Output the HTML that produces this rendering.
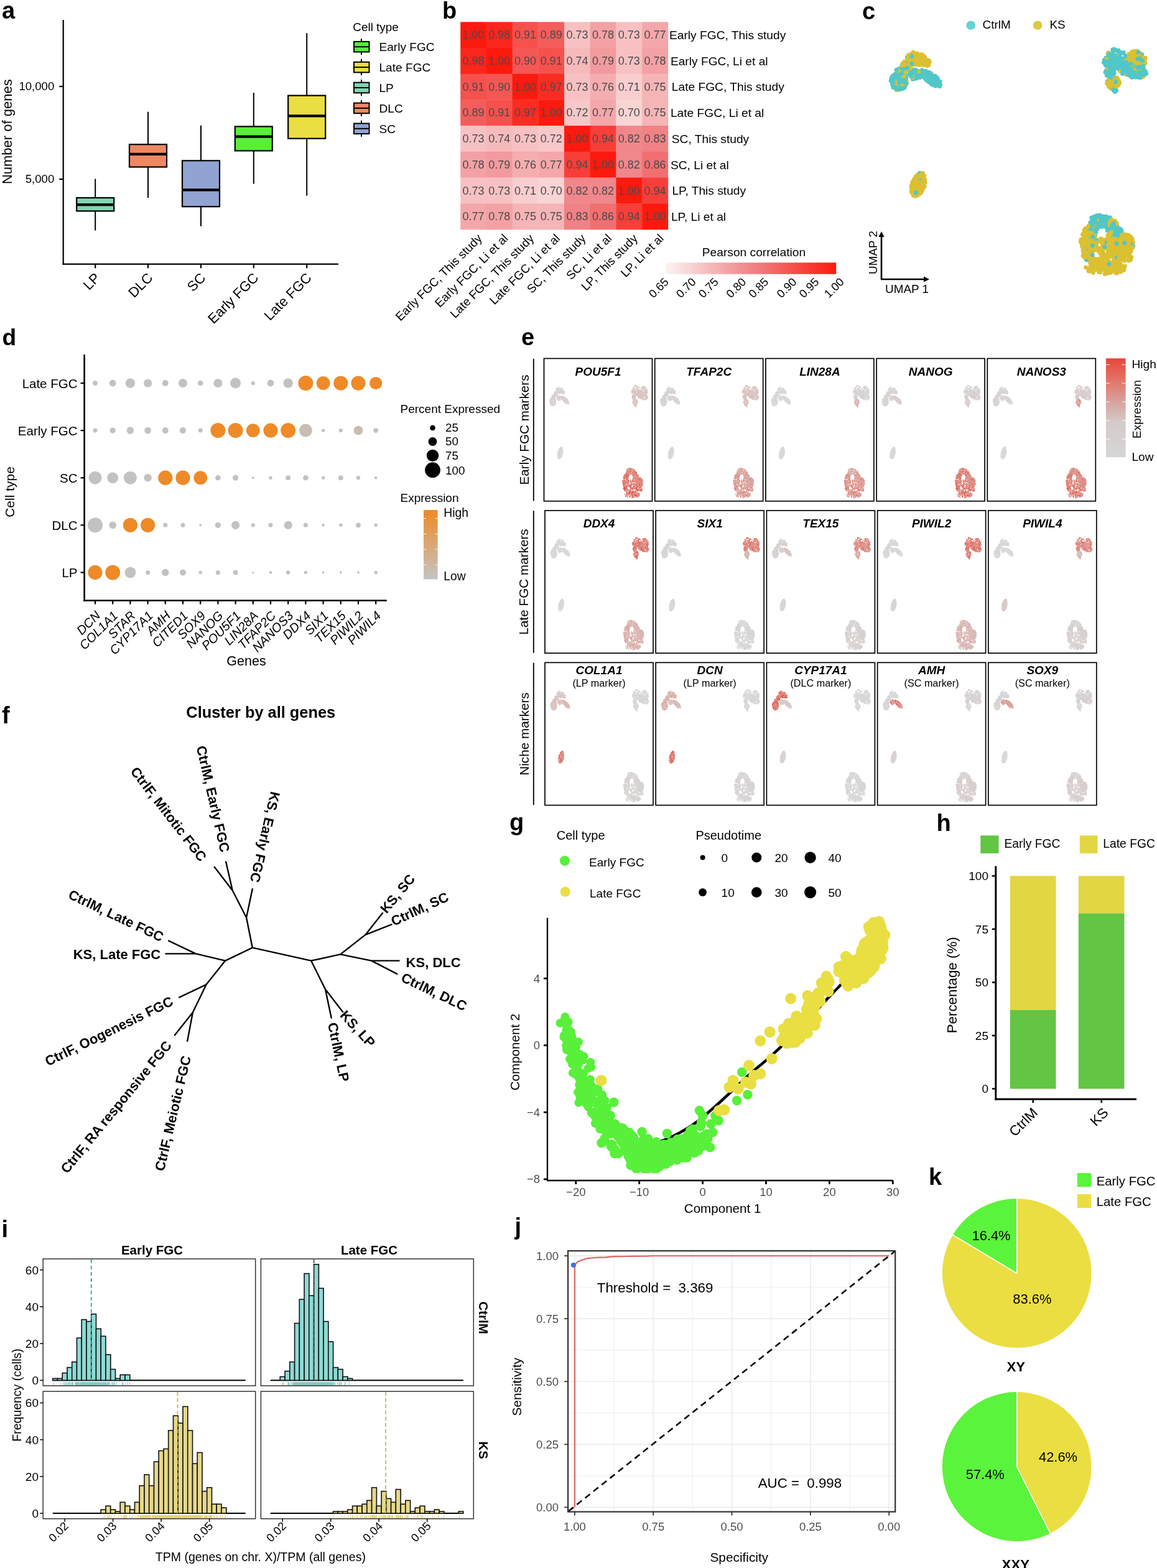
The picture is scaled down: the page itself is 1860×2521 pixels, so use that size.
<!DOCTYPE html>
<html><head><meta charset="utf-8"><title>Figure</title>
<style>
html,body{margin:0;padding:0;background:#fff;}
svg{display:block;}
text{font-family:'Liberation Sans', Arial, sans-serif;}
</style></head><body>
<svg width="1860" height="2521" viewBox="0 0 1860 2521" font-family="Liberation Sans, Arial, sans-serif">
<rect width="1860" height="2521" fill="#fff"/>
<text x="3" y="30.3" font-size="38" font-weight="bold">a</text>
<line x1="101.7" y1="32" x2="101.7" y2="425.7" stroke="#000" stroke-width="2.2"/>
<line x1="100.7" y1="424.7" x2="544" y2="424.7" stroke="#000" stroke-width="2.2"/>
<line x1="95.2" y1="139" x2="101.7" y2="139" stroke="#000" stroke-width="2.2"/>
<text x="87.3" y="144.5" font-size="18.6" text-anchor="end">10,000</text>
<line x1="95.2" y1="288.1" x2="101.7" y2="288.1" stroke="#000" stroke-width="2.2"/>
<text x="87.3" y="293.6" font-size="18.6" text-anchor="end">5,000</text>
<text x="19.3" y="211.7" font-size="22" text-anchor="middle" transform="rotate(-90 19.3 211.7)">Number of genes</text>
<line x1="153.2" y1="287.5" x2="153.2" y2="318" stroke="#000" stroke-width="2"/>
<line x1="153.2" y1="339.3" x2="153.2" y2="370.5" stroke="#000" stroke-width="2"/>
<rect x="123.2" y="318" width="60" height="21.3" fill="#80d6b2" stroke="#000" stroke-width="2.2"/>
<line x1="123.2" y1="329.2" x2="183.2" y2="329.2" stroke="#000" stroke-width="4.2"/>
<line x1="153.2" y1="424.7" x2="153.2" y2="431.2" stroke="#000" stroke-width="2.2"/>
<text x="162.2" y="448.2" font-size="22.3" text-anchor="end" transform="rotate(-45 162.2 448.2)">LP</text>
<line x1="238" y1="179.7" x2="238" y2="232.2" stroke="#000" stroke-width="2"/>
<line x1="238" y1="268.5" x2="238" y2="318" stroke="#000" stroke-width="2"/>
<rect x="208" y="232.2" width="60" height="36.3" fill="#ee8862" stroke="#000" stroke-width="2.2"/>
<line x1="208" y1="247.8" x2="268" y2="247.8" stroke="#000" stroke-width="4.2"/>
<line x1="238" y1="424.7" x2="238" y2="431.2" stroke="#000" stroke-width="2.2"/>
<text x="247" y="448.2" font-size="22.3" text-anchor="end" transform="rotate(-45 247 448.2)">DLC</text>
<line x1="323" y1="201.7" x2="323" y2="258.3" stroke="#000" stroke-width="2"/>
<line x1="323" y1="332.2" x2="323" y2="363.7" stroke="#000" stroke-width="2"/>
<rect x="293" y="258.3" width="60" height="73.9" fill="#91a3d1" stroke="#000" stroke-width="2.2"/>
<line x1="293" y1="305.4" x2="353" y2="305.4" stroke="#000" stroke-width="4.2"/>
<line x1="323" y1="424.7" x2="323" y2="431.2" stroke="#000" stroke-width="2.2"/>
<text x="332" y="448.2" font-size="22.3" text-anchor="end" transform="rotate(-45 332 448.2)">SC</text>
<line x1="407.8" y1="149.2" x2="407.8" y2="203.4" stroke="#000" stroke-width="2"/>
<line x1="407.8" y1="242.4" x2="407.8" y2="295.6" stroke="#000" stroke-width="2"/>
<rect x="377.8" y="203.4" width="60" height="39" fill="#58ee3a" stroke="#000" stroke-width="2.2"/>
<line x1="377.8" y1="219.7" x2="437.8" y2="219.7" stroke="#000" stroke-width="4.2"/>
<line x1="407.8" y1="424.7" x2="407.8" y2="431.2" stroke="#000" stroke-width="2.2"/>
<text x="416.8" y="448.2" font-size="22.3" text-anchor="end" transform="rotate(-45 416.8 448.2)">Early FGC</text>
<line x1="493.2" y1="53.2" x2="493.2" y2="153.6" stroke="#000" stroke-width="2"/>
<line x1="493.2" y1="222.7" x2="493.2" y2="314.6" stroke="#000" stroke-width="2"/>
<rect x="463.2" y="153.6" width="60" height="69.1" fill="#e9de42" stroke="#000" stroke-width="2.2"/>
<line x1="463.2" y1="186.4" x2="523.2" y2="186.4" stroke="#000" stroke-width="4.2"/>
<line x1="493.2" y1="424.7" x2="493.2" y2="431.2" stroke="#000" stroke-width="2.2"/>
<text x="502.2" y="448.2" font-size="22.3" text-anchor="end" transform="rotate(-45 502.2 448.2)">Late FGC</text>
<text x="567.3" y="49.6" font-size="18.9">Cell type</text>
<line x1="581" y1="62.2" x2="581" y2="88.2" stroke="#000" stroke-width="2"/>
<rect x="569" y="66.9" width="24.5" height="16.6" fill="#58ee3a" stroke="#000" stroke-width="2"/>
<line x1="569" y1="75.2" x2="593.5" y2="75.2" stroke="#000" stroke-width="2"/>
<text x="609.5" y="82.2" font-size="19.1">Early FGC</text>
<line x1="581" y1="95.1" x2="581" y2="121.1" stroke="#000" stroke-width="2"/>
<rect x="569" y="99.8" width="24.5" height="16.6" fill="#e9de42" stroke="#000" stroke-width="2"/>
<line x1="569" y1="108.1" x2="593.5" y2="108.1" stroke="#000" stroke-width="2"/>
<text x="609.5" y="115.1" font-size="19.1">Late FGC</text>
<line x1="581" y1="128" x2="581" y2="154" stroke="#000" stroke-width="2"/>
<rect x="569" y="132.7" width="24.5" height="16.6" fill="#80d6b2" stroke="#000" stroke-width="2"/>
<line x1="569" y1="141" x2="593.5" y2="141" stroke="#000" stroke-width="2"/>
<text x="609.5" y="148" font-size="19.1">LP</text>
<line x1="581" y1="160.9" x2="581" y2="186.9" stroke="#000" stroke-width="2"/>
<rect x="569" y="165.6" width="24.5" height="16.6" fill="#ee8862" stroke="#000" stroke-width="2"/>
<line x1="569" y1="173.9" x2="593.5" y2="173.9" stroke="#000" stroke-width="2"/>
<text x="609.5" y="180.9" font-size="19.1">DLC</text>
<line x1="581" y1="193.8" x2="581" y2="219.8" stroke="#000" stroke-width="2"/>
<rect x="569" y="198.5" width="24.5" height="16.6" fill="#91a3d1" stroke="#000" stroke-width="2"/>
<line x1="569" y1="206.8" x2="593.5" y2="206.8" stroke="#000" stroke-width="2"/>
<text x="609.5" y="213.8" font-size="19.1">SC</text>
<text x="711" y="30" font-size="38" font-weight="bold">b</text>
<rect x="740.2" y="35.3" width="42.1" height="42.1" fill="#fc1a0e"/>
<rect x="781.9" y="35.3" width="42.1" height="42.1" fill="#fb261c"/>
<rect x="823.6" y="35.3" width="42.1" height="42.1" fill="#f6514d"/>
<rect x="865.3" y="35.3" width="42.1" height="42.1" fill="#f45d5b"/>
<rect x="907" y="35.3" width="42.1" height="42.1" fill="#f7c1c3"/>
<rect x="948.7" y="35.3" width="42.1" height="42.1" fill="#f3a1a4"/>
<rect x="990.4" y="35.3" width="42.1" height="42.1" fill="#f7c1c3"/>
<rect x="1032.1" y="35.3" width="42.1" height="42.1" fill="#f4a7aa"/>
<rect x="740.2" y="77" width="42.1" height="42.1" fill="#fb261c"/>
<rect x="781.9" y="77" width="42.1" height="42.1" fill="#fc1a0e"/>
<rect x="823.6" y="77" width="42.1" height="42.1" fill="#f55754"/>
<rect x="865.3" y="77" width="42.1" height="42.1" fill="#f6514d"/>
<rect x="907" y="77" width="42.1" height="42.1" fill="#f6babc"/>
<rect x="948.7" y="77" width="42.1" height="42.1" fill="#f29a9e"/>
<rect x="990.4" y="77" width="42.1" height="42.1" fill="#f7c1c3"/>
<rect x="1032.1" y="77" width="42.1" height="42.1" fill="#f3a1a4"/>
<rect x="740.2" y="118.7" width="42.1" height="42.1" fill="#f6514d"/>
<rect x="781.9" y="118.7" width="42.1" height="42.1" fill="#f55754"/>
<rect x="823.6" y="118.7" width="42.1" height="42.1" fill="#fc1a0e"/>
<rect x="865.3" y="118.7" width="42.1" height="42.1" fill="#fa2c23"/>
<rect x="907" y="118.7" width="42.1" height="42.1" fill="#f7c1c3"/>
<rect x="948.7" y="118.7" width="42.1" height="42.1" fill="#f4aeb0"/>
<rect x="990.4" y="118.7" width="42.1" height="42.1" fill="#f8cecf"/>
<rect x="1032.1" y="118.7" width="42.1" height="42.1" fill="#f5b4b6"/>
<rect x="740.2" y="160.4" width="42.1" height="42.1" fill="#f45d5b"/>
<rect x="781.9" y="160.4" width="42.1" height="42.1" fill="#f6514d"/>
<rect x="823.6" y="160.4" width="42.1" height="42.1" fill="#fa2c23"/>
<rect x="865.3" y="160.4" width="42.1" height="42.1" fill="#fc1a0e"/>
<rect x="907" y="160.4" width="42.1" height="42.1" fill="#f7c7c9"/>
<rect x="948.7" y="160.4" width="42.1" height="42.1" fill="#f4a7aa"/>
<rect x="990.4" y="160.4" width="42.1" height="42.1" fill="#f9d4d5"/>
<rect x="1032.1" y="160.4" width="42.1" height="42.1" fill="#f5b4b6"/>
<rect x="740.2" y="202.1" width="42.1" height="42.1" fill="#f7c1c3"/>
<rect x="781.9" y="202.1" width="42.1" height="42.1" fill="#f6babc"/>
<rect x="823.6" y="202.1" width="42.1" height="42.1" fill="#f7c1c3"/>
<rect x="865.3" y="202.1" width="42.1" height="42.1" fill="#f7c7c9"/>
<rect x="907" y="202.1" width="42.1" height="42.1" fill="#fc1a0e"/>
<rect x="948.7" y="202.1" width="42.1" height="42.1" fill="#f83e38"/>
<rect x="990.4" y="202.1" width="42.1" height="42.1" fill="#f0878b"/>
<rect x="1032.1" y="202.1" width="42.1" height="42.1" fill="#f08185"/>
<rect x="740.2" y="243.8" width="42.1" height="42.1" fill="#f3a1a4"/>
<rect x="781.9" y="243.8" width="42.1" height="42.1" fill="#f29a9e"/>
<rect x="823.6" y="243.8" width="42.1" height="42.1" fill="#f4aeb0"/>
<rect x="865.3" y="243.8" width="42.1" height="42.1" fill="#f4a7aa"/>
<rect x="907" y="243.8" width="42.1" height="42.1" fill="#f83e38"/>
<rect x="948.7" y="243.8" width="42.1" height="42.1" fill="#fc1a0e"/>
<rect x="990.4" y="243.8" width="42.1" height="42.1" fill="#f0878b"/>
<rect x="1032.1" y="243.8" width="42.1" height="42.1" fill="#f26f70"/>
<rect x="740.2" y="285.5" width="42.1" height="42.1" fill="#f7c1c3"/>
<rect x="781.9" y="285.5" width="42.1" height="42.1" fill="#f7c1c3"/>
<rect x="823.6" y="285.5" width="42.1" height="42.1" fill="#f8cecf"/>
<rect x="865.3" y="285.5" width="42.1" height="42.1" fill="#f9d4d5"/>
<rect x="907" y="285.5" width="42.1" height="42.1" fill="#f0878b"/>
<rect x="948.7" y="285.5" width="42.1" height="42.1" fill="#f0878b"/>
<rect x="990.4" y="285.5" width="42.1" height="42.1" fill="#fc1a0e"/>
<rect x="1032.1" y="285.5" width="42.1" height="42.1" fill="#f83e38"/>
<rect x="740.2" y="327.2" width="42.1" height="42.1" fill="#f4a7aa"/>
<rect x="781.9" y="327.2" width="42.1" height="42.1" fill="#f3a1a4"/>
<rect x="823.6" y="327.2" width="42.1" height="42.1" fill="#f5b4b6"/>
<rect x="865.3" y="327.2" width="42.1" height="42.1" fill="#f5b4b6"/>
<rect x="907" y="327.2" width="42.1" height="42.1" fill="#f08185"/>
<rect x="948.7" y="327.2" width="42.1" height="42.1" fill="#f26f70"/>
<rect x="990.4" y="327.2" width="42.1" height="42.1" fill="#f83e38"/>
<rect x="1032.1" y="327.2" width="42.1" height="42.1" fill="#fc1a0e"/>
<text x="761.1" y="62.4" font-size="18" text-anchor="middle" fill="#4a4a4a">1.00</text>
<text x="802.8" y="62.4" font-size="18" text-anchor="middle" fill="#4a4a4a">0.98</text>
<text x="844.5" y="62.4" font-size="18" text-anchor="middle" fill="#4a4a4a">0.91</text>
<text x="886.2" y="62.4" font-size="18" text-anchor="middle" fill="#4a4a4a">0.89</text>
<text x="927.9" y="62.4" font-size="18" text-anchor="middle" fill="#4a4a4a">0.73</text>
<text x="969.6" y="62.4" font-size="18" text-anchor="middle" fill="#4a4a4a">0.78</text>
<text x="1011.3" y="62.4" font-size="18" text-anchor="middle" fill="#4a4a4a">0.73</text>
<text x="1053" y="62.4" font-size="18" text-anchor="middle" fill="#4a4a4a">0.77</text>
<text x="761.1" y="104" font-size="18" text-anchor="middle" fill="#4a4a4a">0.98</text>
<text x="802.8" y="104" font-size="18" text-anchor="middle" fill="#4a4a4a">1.00</text>
<text x="844.5" y="104" font-size="18" text-anchor="middle" fill="#4a4a4a">0.90</text>
<text x="886.2" y="104" font-size="18" text-anchor="middle" fill="#4a4a4a">0.91</text>
<text x="927.9" y="104" font-size="18" text-anchor="middle" fill="#4a4a4a">0.74</text>
<text x="969.6" y="104" font-size="18" text-anchor="middle" fill="#4a4a4a">0.79</text>
<text x="1011.3" y="104" font-size="18" text-anchor="middle" fill="#4a4a4a">0.73</text>
<text x="1053" y="104" font-size="18" text-anchor="middle" fill="#4a4a4a">0.78</text>
<text x="761.1" y="145.8" font-size="18" text-anchor="middle" fill="#4a4a4a">0.91</text>
<text x="802.8" y="145.8" font-size="18" text-anchor="middle" fill="#4a4a4a">0.90</text>
<text x="844.5" y="145.8" font-size="18" text-anchor="middle" fill="#4a4a4a">1.00</text>
<text x="886.2" y="145.8" font-size="18" text-anchor="middle" fill="#4a4a4a">0.97</text>
<text x="927.9" y="145.8" font-size="18" text-anchor="middle" fill="#4a4a4a">0.73</text>
<text x="969.6" y="145.8" font-size="18" text-anchor="middle" fill="#4a4a4a">0.76</text>
<text x="1011.3" y="145.8" font-size="18" text-anchor="middle" fill="#4a4a4a">0.71</text>
<text x="1053" y="145.8" font-size="18" text-anchor="middle" fill="#4a4a4a">0.75</text>
<text x="761.1" y="187.4" font-size="18" text-anchor="middle" fill="#4a4a4a">0.89</text>
<text x="802.8" y="187.4" font-size="18" text-anchor="middle" fill="#4a4a4a">0.91</text>
<text x="844.5" y="187.4" font-size="18" text-anchor="middle" fill="#4a4a4a">0.97</text>
<text x="886.2" y="187.4" font-size="18" text-anchor="middle" fill="#4a4a4a">1.00</text>
<text x="927.9" y="187.4" font-size="18" text-anchor="middle" fill="#4a4a4a">0.72</text>
<text x="969.6" y="187.4" font-size="18" text-anchor="middle" fill="#4a4a4a">0.77</text>
<text x="1011.3" y="187.4" font-size="18" text-anchor="middle" fill="#4a4a4a">0.70</text>
<text x="1053" y="187.4" font-size="18" text-anchor="middle" fill="#4a4a4a">0.75</text>
<text x="761.1" y="229.2" font-size="18" text-anchor="middle" fill="#4a4a4a">0.73</text>
<text x="802.8" y="229.2" font-size="18" text-anchor="middle" fill="#4a4a4a">0.74</text>
<text x="844.5" y="229.2" font-size="18" text-anchor="middle" fill="#4a4a4a">0.73</text>
<text x="886.2" y="229.2" font-size="18" text-anchor="middle" fill="#4a4a4a">0.72</text>
<text x="927.9" y="229.2" font-size="18" text-anchor="middle" fill="#4a4a4a">1.00</text>
<text x="969.6" y="229.2" font-size="18" text-anchor="middle" fill="#4a4a4a">0.94</text>
<text x="1011.3" y="229.2" font-size="18" text-anchor="middle" fill="#4a4a4a">0.82</text>
<text x="1053" y="229.2" font-size="18" text-anchor="middle" fill="#4a4a4a">0.83</text>
<text x="761.1" y="270.9" font-size="18" text-anchor="middle" fill="#4a4a4a">0.78</text>
<text x="802.8" y="270.9" font-size="18" text-anchor="middle" fill="#4a4a4a">0.79</text>
<text x="844.5" y="270.9" font-size="18" text-anchor="middle" fill="#4a4a4a">0.76</text>
<text x="886.2" y="270.9" font-size="18" text-anchor="middle" fill="#4a4a4a">0.77</text>
<text x="927.9" y="270.9" font-size="18" text-anchor="middle" fill="#4a4a4a">0.94</text>
<text x="969.6" y="270.9" font-size="18" text-anchor="middle" fill="#4a4a4a">1.00</text>
<text x="1011.3" y="270.9" font-size="18" text-anchor="middle" fill="#4a4a4a">0.82</text>
<text x="1053" y="270.9" font-size="18" text-anchor="middle" fill="#4a4a4a">0.86</text>
<text x="761.1" y="312.6" font-size="18" text-anchor="middle" fill="#4a4a4a">0.73</text>
<text x="802.8" y="312.6" font-size="18" text-anchor="middle" fill="#4a4a4a">0.73</text>
<text x="844.5" y="312.6" font-size="18" text-anchor="middle" fill="#4a4a4a">0.71</text>
<text x="886.2" y="312.6" font-size="18" text-anchor="middle" fill="#4a4a4a">0.70</text>
<text x="927.9" y="312.6" font-size="18" text-anchor="middle" fill="#4a4a4a">0.82</text>
<text x="969.6" y="312.6" font-size="18" text-anchor="middle" fill="#4a4a4a">0.82</text>
<text x="1011.3" y="312.6" font-size="18" text-anchor="middle" fill="#4a4a4a">1.00</text>
<text x="1053" y="312.6" font-size="18" text-anchor="middle" fill="#4a4a4a">0.94</text>
<text x="761.1" y="354.3" font-size="18" text-anchor="middle" fill="#4a4a4a">0.77</text>
<text x="802.8" y="354.3" font-size="18" text-anchor="middle" fill="#4a4a4a">0.78</text>
<text x="844.5" y="354.3" font-size="18" text-anchor="middle" fill="#4a4a4a">0.75</text>
<text x="886.2" y="354.3" font-size="18" text-anchor="middle" fill="#4a4a4a">0.75</text>
<text x="927.9" y="354.3" font-size="18" text-anchor="middle" fill="#4a4a4a">0.83</text>
<text x="969.6" y="354.3" font-size="18" text-anchor="middle" fill="#4a4a4a">0.86</text>
<text x="1011.3" y="354.3" font-size="18" text-anchor="middle" fill="#4a4a4a">0.94</text>
<text x="1053" y="354.3" font-size="18" text-anchor="middle" fill="#4a4a4a">1.00</text>
<text x="1076" y="62.9" font-size="19.2">Early FGC, This study</text>
<text x="1077.9" y="104.6" font-size="19.2">Early FGC, Li et al</text>
<text x="1079.8" y="146.4" font-size="19.2">Late FGC, This study</text>
<text x="1077.9" y="188.1" font-size="19.2">Late FGC, Li et al</text>
<text x="1079.8" y="229.8" font-size="19.2">SC, This study</text>
<text x="1077.9" y="271.5" font-size="19.2">SC, Li et al</text>
<text x="1080.4" y="313.2" font-size="19.2">LP, This study</text>
<text x="1078.9" y="354.9" font-size="19.2">LP, Li et al</text>
<text x="776.1" y="384.5" font-size="19.2" text-anchor="end" transform="rotate(-45 776.1 384.5)">Early FGC, This study</text>
<text x="817.8" y="384.5" font-size="19.2" text-anchor="end" transform="rotate(-45 817.8 384.5)">Early FGC, Li et al</text>
<text x="859.5" y="384.5" font-size="19.2" text-anchor="end" transform="rotate(-45 859.5 384.5)">Late FGC, This study</text>
<text x="901.2" y="384.5" font-size="19.2" text-anchor="end" transform="rotate(-45 901.2 384.5)">Late FGC, Li et al</text>
<text x="942.9" y="384.5" font-size="19.2" text-anchor="end" transform="rotate(-45 942.9 384.5)">SC, This study</text>
<text x="984.6" y="384.5" font-size="19.2" text-anchor="end" transform="rotate(-45 984.6 384.5)">SC, Li et al</text>
<text x="1026.2" y="384.5" font-size="19.2" text-anchor="end" transform="rotate(-45 1026.2 384.5)">LP, This study</text>
<text x="1068" y="384.5" font-size="19.2" text-anchor="end" transform="rotate(-45 1068 384.5)">LP, Li et al</text>
<text x="1212" y="412.3" font-size="19.2" text-anchor="middle">Pearson correlation</text>
<defs><linearGradient id="hmg" x1="0" x2="1" y1="0" y2="0"><stop offset="0" stop-color="#fcf4f4"/><stop offset="0.5" stop-color="#f08488"/><stop offset="1" stop-color="#fc1a0e"/></linearGradient></defs>
<rect x="1069.8" y="422.2" width="274.4" height="18.5" fill="url(#hmg)"/>
<text x="1076" y="454.5" font-size="18.5" text-anchor="end" transform="rotate(-45 1076 454.5)">0.65</text>
<text x="1120" y="454.5" font-size="18.5" text-anchor="end" transform="rotate(-45 1120 454.5)">0.70</text>
<text x="1156" y="454.5" font-size="18.5" text-anchor="end" transform="rotate(-45 1156 454.5)">0.75</text>
<text x="1200.5" y="454.5" font-size="18.5" text-anchor="end" transform="rotate(-45 1200.5 454.5)">0.80</text>
<text x="1236.5" y="454.5" font-size="18.5" text-anchor="end" transform="rotate(-45 1236.5 454.5)">0.85</text>
<text x="1281.8" y="454.5" font-size="18.5" text-anchor="end" transform="rotate(-45 1281.8 454.5)">0.90</text>
<text x="1317.8" y="454.5" font-size="18.5" text-anchor="end" transform="rotate(-45 1317.8 454.5)">0.95</text>
<text x="1358" y="454.5" font-size="18.5" text-anchor="end" transform="rotate(-45 1358 454.5)">1.00</text>
<text x="1386" y="30.5" font-size="38" font-weight="bold">c</text>
<circle cx="1560.7" cy="40.7" r="7.3" fill="#64d3d1"/>
<text x="1579.5" y="46" font-size="18.9">CtrlM</text>
<circle cx="1668" cy="40.7" r="7.3" fill="#dcc843"/>
<text x="1687.5" y="46" font-size="18.9">KS</text>
<path d="M1790.7 400.3h0M1810.7 388.7h0M1801.5 378h0M1752.3 401.3h0M1807 412.8h0M1778.3 384.9h0M1771.2 427.9h0M1772.1 385.3h0M1807.5 384h0M1792.6 431.4h0M1795 135.5h0M1758.2 398.2h0M1475.5 281.2h0M1797.7 370.1h0M1750.7 368.3h0M1779.1 414.3h0M1465.8 297.5h0M1754.8 411.9h0M1488.3 99.9h0M1817.1 384.3h0M1775.7 395.1h0M1800.4 431.7h0M1810.9 384.3h0M1751.6 436h0M1739.5 395.7h0M1770 434.9h0M1797.2 367.3h0M1794 368.3h0M1836.4 93.8h0M1752.7 429.7h0M1772.8 394h0M1475.2 95h0M1840.9 101.6h0M1754.5 381h0M1740.5 383.9h0M1792.3 372.4h0M1817.8 395.8h0M1813.7 398.7h0M1797.9 128.8h0M1479.2 305.7h0M1809.3 377.3h0M1480.6 299.1h0M1779.7 435.8h0M1741.3 411.2h0M1740.5 377.1h0M1776.6 434.7h0M1465.6 309.1h0M1794 128.3h0M1798.1 394.5h0M1737.2 388.6h0M1790.9 371.3h0M1814.3 378.2h0M1819.7 391.4h0M1761.6 416.5h0M1813.1 397.7h0M1793 382.9h0M1787.1 387.2h0M1465.2 306.5h0M1804.5 397.2h0M1494.2 99.6h0M1798.8 435.8h0M1791.1 372.2h0M1832.2 114.2h0M1806.1 402.1h0M1750.5 434.2h0M1742.7 374.8h0M1801 374.3h0M1799.8 399h0M1812.6 414.9h0M1809.7 382.2h0M1759 373.9h0M1802.8 406.5h0M1797.2 382.4h0M1768.4 427.1h0M1808.3 428.1h0M1802.3 387.9h0M1817.3 398.4h0M1488.6 102.9h0M1746.7 411.1h0M1796.9 377.1h0M1801.9 397.8h0M1805.1 403.2h0M1786.7 379.3h0M1808.4 386h0M1837.8 123.1h0M1806.6 433.3h0M1781 432.4h0M1803.6 401.5h0M1795.2 374.4h0M1752.8 384.3h0M1828 82.3h0M1455.7 126.9h0M1780.5 390.2h0M1786.7 367.2h0M1760.4 400.4h0M1753.4 402.2h0M1806.8 402h0M1798.1 381.3h0M1752 368.8h0M1798.4 373.8h0M1820.9 89.7h0M1786.1 432.6h0M1463.7 93.1h0M1798.8 397.9h0M1823.6 99.4h0M1808.7 396h0M1470.9 305.9h0M1813.6 405.5h0M1780.5 430.7h0M1779.6 134.1h0M1469.6 299.9h0M1760 380.1h0M1468.5 96.3h0M1818.2 103h0M1763.2 418.7h0M1783.6 429.8h0M1757.5 431.1h0M1786.6 380h0M1789.6 398.3h0M1797.9 418h0M1793.8 375h0M1738.6 388.4h0M1780.9 439h0M1794 424.3h0M1786.1 430.5h0M1776.9 431h0M1776.3 350.6h0M1476.2 297.8h0M1478.8 291.4h0M1798.7 398.8h0M1467.2 98.9h0M1765.3 421.8h0M1756.7 423.4h0M1781.4 380.2h0M1793.1 365.8h0M1805.2 429.7h0M1792.5 382.4h0M1467.2 117h0M1786 370.9h0M1778.1 408.9h0M1742.4 384.7h0M1813 409.9h0M1791.4 355.7h0M1470.7 121.2h0M1806.6 102.1h0M1817.6 95.8h0M1792 374.2h0M1817.5 93h0M1775.2 397.2h0M1746.6 375.6h0M1486.6 91.8h0M1485.9 299.7h0M1787.7 433h0M1802.4 373.7h0M1751.9 375.2h0M1795.7 379.6h0M1485.3 297.1h0M1780 131.2h0M1760.7 363.5h0M1753.2 366.6h0M1833 93.6h0M1808.2 409.1h0M1834.6 109.7h0M1796.2 409.9h0M1838.3 96h0M1745.3 380.3h0M1831.5 91.2h0M1738 385.2h0M1794.4 428.8h0M1437 133.1h0M1478.9 98.8h0M1745.7 376.2h0M1784.8 427.7h0M1751.3 378.6h0M1748 366.7h0M1825.2 88.7h0M1474.5 85.9h0M1756.4 429.5h0M1816.6 388.1h0M1759.5 422.3h0M1797.5 432.5h0M1805.3 431.3h0M1470.5 311.7h0M1466.8 293h0M1801.8 381.8h0M1491.1 99.8h0M1486.2 98.2h0M1794 392.5h0M1786.2 379.7h0M1820.9 85.2h0M1442.1 144.2h0M1462.3 108.3h0M1801.5 396.2h0M1835 119.3h0M1812 389.6h0M1745.1 400.1h0M1793.5 429.8h0M1806.9 431.2h0M1785.7 405.8h0M1778 431.7h0M1801 403.2h0M1792.7 380.8h0M1819.7 111.1h0M1795.5 431.6h0M1811.4 394.8h0M1498 119.5h0M1469.7 292.7h0M1790.6 376.1h0M1471.8 103.8h0M1768.5 407h0M1750.6 386.5h0M1796.8 392.9h0M1751.8 390.4h0M1814.9 394.1h0M1786.9 368.1h0M1803.4 434.5h0M1816.3 400.6h0M1802.3 413.5h0M1749 367.2h0M1749.2 407.7h0M1485.9 101.5h0M1442.1 116.6h0M1476.3 304h0M1745.7 430.1h0M1768 432h0M1773.3 397.8h0M1774.2 431.1h0M1468.2 314.1h0M1806 378.7h0M1785.5 436.2h0M1795.9 373h0M1772.9 401.3h0M1754.8 418.5h0M1826.6 97.4h0M1461.3 101.1h0M1810.7 382.7h0M1744.2 384.4h0M1816.1 388.2h0M1483.9 93.8h0M1793.2 435.1h0M1813.1 394h0M1746.5 369.3h0" stroke="#dbc031" stroke-width="7" stroke-linecap="round" fill="none"/>
<path d="M1797.8 81.1h0M1792.5 367.4h0M1806.8 106.7h0M1789.7 119.8h0M1782.8 371.2h0M1788.1 103.2h0M1786.6 368.4h0M1834.9 107.7h0M1769 358.2h0M1759.6 363.6h0M1473.9 114.8h0M1467.2 127.3h0M1797.4 381.4h0M1824.3 82.8h0M1799.9 376.8h0M1778.1 93h0M1795.5 380.7h0M1796.7 98.9h0M1767.5 355.3h0M1836.9 109h0M1781.2 86.3h0M1819 121.3h0M1793.2 107.3h0M1469.7 112.1h0M1817.6 99.8h0M1490.7 122.2h0M1480.7 118.7h0M1831.1 104.7h0M1782.9 354.6h0M1800.3 380.4h0M1775.7 358.9h0M1803 107.4h0M1786.1 367.3h0M1830.6 113.9h0M1784.7 109.2h0M1465.6 113.8h0M1448.1 143.1h0M1506.3 124.7h0M1797.4 108.4h0M1791.2 139.5h0M1782.1 129.4h0M1806 111.8h0M1780.6 111.9h0M1776 364.3h0M1760.7 376.9h0M1475.8 285h0M1768.2 346.3h0M1799.6 96.6h0M1808 392.1h0M1787.3 110.2h0M1486.2 117.6h0M1792.9 364.2h0M1447 124.7h0M1803.2 106.8h0M1446.8 112.4h0M1829.5 113h0M1752.1 364.5h0M1819.8 118.9h0M1782.3 91.2h0M1781.1 109.5h0M1503.1 134.5h0M1811.3 100.4h0M1452.4 133.9h0M1508.6 133.7h0M1780.9 117.1h0M1772.3 352.8h0M1766.5 403.6h0M1459.6 106.6h0M1801.1 109.3h0M1790.7 96.7h0M1452.2 115.9h0M1788.2 379.7h0M1458.3 92.2h0M1802.9 104.4h0M1807.4 380.7h0M1781.2 122.1h0M1824.5 106.2h0M1491.2 126.5h0M1789 374.9h0M1763.5 346.6h0M1762.4 368.4h0M1450.9 142.5h0M1822.8 86.7h0M1808.6 110.1h0M1784.3 370h0M1777 116h0M1793.2 107.2h0M1436.1 125.2h0M1797 381.5h0M1791.8 124.8h0M1753.4 358.6h0M1808.9 388.1h0M1455.1 135.2h0M1452.1 111h0M1829.9 106.5h0M1796.8 108.3h0M1783.5 109.9h0M1767.9 351.1h0M1470 126.4h0M1800.3 104.8h0M1828.9 108.1h0M1818.5 112.2h0M1434 132.3h0M1821.5 116.8h0M1790 93.3h0M1777 398.1h0M1796.1 363.7h0M1789.2 103.8h0M1809.2 102.9h0M1486.9 120.3h0M1479.1 124.5h0M1450 105.8h0M1489.2 128.9h0M1792.8 376h0M1766.2 358.8h0M1434.4 122.8h0M1816.6 111.6h0M1807 115h0M1785.7 367.7h0M1779.3 362.2h0M1782.4 114.2h0M1835.6 87.6h0M1452.2 136.7h0M1496.6 125.3h0M1789 117.8h0M1812.5 119.7h0M1817.3 112.5h0M1811.7 113.4h0M1434.7 135.8h0M1437.6 127.8h0M1503.8 138.3h0M1796.1 377.1h0M1761 424.8h0M1794.8 104h0M1468.9 119.1h0M1447.7 109.9h0M1507.9 136.6h0M1790.2 379.3h0M1813.8 110.1h0M1801.5 111.7h0M1457.9 112.7h0M1828.6 102.9h0" stroke="#50c7c8" stroke-width="7" stroke-linecap="round" fill="none"/>
<path d="M1790.6 418.5h0M1795 390.8h0M1750.6 391h0M1476.6 91h0M1459.6 94.5h0M1800 416h0M1741.8 412h0M1476 119.1h0M1789.7 374.3h0M1789.9 421.8h0M1825.9 84.5h0M1757.6 390.2h0M1798.4 111h0M1782.4 437h0M1816.4 380.9h0M1773.5 363h0M1754.6 391h0M1819.6 86.3h0M1471.2 315.2h0M1774.1 430.7h0M1750.9 407.4h0M1796.9 369h0M1790.1 388.2h0M1775.9 412h0M1789.8 130.3h0M1773.4 390.7h0M1777.1 437.1h0M1831.9 98.9h0M1795.3 439.1h0M1797.8 90.4h0M1750.2 374.4h0M1812.1 408h0M1480.5 95h0M1756.1 420.9h0M1808.6 403.9h0M1784.1 373.6h0M1810.6 102.4h0M1744.9 414.1h0M1802.8 427.3h0M1789 390.2h0M1740.9 387.4h0M1486.4 288.9h0M1818.6 393.3h0M1806.9 392.5h0M1745.5 407.9h0M1825.6 89.6h0M1782.7 112h0M1784.6 401.9h0M1796.5 367.9h0M1789.1 381.2h0M1804.9 414.1h0M1758.3 375h0M1821.5 389.7h0M1828.1 88.4h0M1746.1 387h0M1837 101.9h0M1788.7 139h0M1755.6 415.8h0M1828.9 104.7h0M1789.7 380.7h0M1815.8 409.9h0M1795.5 424h0M1765.9 426.5h0M1758.1 376.5h0M1771.1 415.2h0M1757.3 438.2h0M1798.3 374.9h0M1759 387h0M1455 112.4h0M1473.5 306h0M1818.1 403.9h0M1810.5 119.7h0M1480.6 295.8h0M1803.4 385.9h0M1813.7 397.2h0M1814.4 387.5h0M1482.7 305.8h0M1763.1 385.6h0M1770.7 410.5h0M1785.8 141.9h0M1475.7 102.9h0M1805.9 390h0M1812.4 101.1h0M1803.8 393.5h0M1792.7 355.3h0M1484.6 297.3h0M1756.8 403.8h0M1473.3 99.7h0M1769 401.9h0M1790.5 380.3h0M1799.7 132.6h0M1780.4 419.3h0M1467.7 307.4h0M1485.9 101.8h0M1805.2 400.5h0M1752 365.6h0M1815.7 101.9h0M1481.2 288.6h0M1802.7 394.2h0M1795.5 387.4h0M1774.4 426.2h0M1764.8 419.1h0M1789.1 377h0M1759.3 388.1h0M1785.7 373.2h0M1808.6 377.6h0M1796 416.9h0M1462.9 93.6h0M1784.4 407.7h0M1751.7 407.5h0M1811.4 92.9h0M1445 118.7h0M1477.8 104.3h0M1779.3 414.8h0M1797.5 390.9h0M1492.8 102h0M1804.5 397h0M1807.4 403.7h0M1778.4 436.2h0M1807.7 399h0M1753.4 375.4h0M1758.1 390.4h0M1817.6 417.6h0M1789.7 376h0M1813.5 379h0M1798 378.9h0M1745.1 392.4h0M1764.7 416.9h0M1485.6 282.5h0M1750.4 408.8h0M1477.3 288.5h0M1793.7 377.6h0M1799.2 426.2h0M1739.2 391.9h0M1811.6 389.2h0M1760.1 416.3h0M1818.9 390.5h0M1812.4 393.3h0M1796.8 404.8h0M1787.9 399.5h0M1816.5 109.9h0M1763.4 427.8h0M1778.2 425.4h0M1835.4 124.3h0M1468.9 289.3h0M1765.9 429.5h0M1800.6 419.7h0M1781.5 404.4h0M1803.5 373h0M1756.7 368.7h0M1810.7 377.4h0M1741.2 411.1h0M1477.8 278.8h0M1786.9 436.9h0M1777.4 428.2h0M1454.1 107.5h0M1761.1 399.5h0M1759.3 394.1h0M1795.9 387.5h0M1745.3 367.2h0M1468.5 93.1h0M1754.3 379.3h0M1746.7 385.1h0M1786.6 373.3h0M1817.7 398h0M1754.4 418.1h0M1811.6 396.9h0M1748.4 417.9h0M1770.5 386.4h0M1818.1 95.2h0M1756.9 394.3h0M1794.6 396.5h0M1832.4 109.4h0M1801.9 372.2h0M1776.8 412.7h0M1750.1 435.7h0M1483.5 289.8h0M1813.4 378.9h0M1492.6 97h0M1763.4 427.1h0M1475 314h0M1741 397.5h0M1781.9 388.3h0M1752.9 429.5h0M1492.8 104.7h0M1748.8 368.2h0M1791.7 393.3h0M1769.8 364.5h0M1795.4 415.8h0M1766.1 425.1h0M1742.9 370.2h0M1489.8 97.3h0M1482.9 281.4h0M1776.3 440.4h0M1819.6 389.9h0M1783.8 386.4h0M1490.4 119.4h0M1802 425.7h0M1752.9 415.1h0M1476.1 89.8h0M1797.1 137.5h0M1755.3 396.5h0M1790.2 377.8h0M1461.6 101.8h0M1470.8 98.2h0M1791.3 434.3h0M1441.2 144.4h0M1790.3 404.9h0M1486.5 97.9h0M1760.9 433.4h0M1480.5 278.6h0M1818.9 93.6h0M1818.7 413.4h0M1817.9 404.5h0M1788.3 380.5h0M1800.6 379.4h0M1748.8 367.4h0M1473.5 293.3h0M1819.3 101.9h0M1749.3 406.4h0M1484 293.2h0M1817.3 393.9h0M1767.1 428.8h0M1768.4 419.6h0M1460.6 98.3h0M1785 412.2h0M1464.3 101.6h0M1762.7 390.8h0M1762 402.1h0M1770.9 413.7h0M1794.8 387h0M1787.1 375.4h0M1755.4 402.5h0M1756.4 413.3h0M1768.5 422.3h0M1798.2 398.2h0M1773.7 422.1h0M1793.6 380.4h0M1750.8 372.5h0M1468 122.3h0M1806.1 406.6h0M1781.9 84.7h0M1810.3 406.4h0M1811.8 384.6h0M1799.4 369.1h0M1792.3 412.6h0M1801.6 436.9h0M1788.1 371.5h0M1814.1 398h0M1780.1 434.3h0" stroke="#dbc031" stroke-width="7" stroke-linecap="round" fill="none"/>
<path d="M1771 364.2h0M1460.1 110.2h0M1829 106.9h0M1783.3 100.9h0M1443.1 133.8h0M1818.8 115.2h0M1814.7 97.8h0M1765.9 362.6h0M1790.8 109.6h0M1783.4 93.3h0M1473.9 126.1h0M1798.9 103.6h0M1778.8 112.4h0M1781.4 95.4h0M1786.2 113.8h0M1473.5 119.8h0M1763.7 360h0M1449.1 126.3h0M1808.4 95.7h0M1814.9 107.8h0M1454.7 110.9h0M1758.4 359.1h0M1815 117.9h0M1792.1 81.5h0M1789.5 118.9h0M1825.4 111.9h0M1781.3 116.7h0M1782.4 353.5h0M1786.7 109.6h0M1775.3 96.5h0M1783.9 122.1h0M1439.9 122.7h0M1765.9 348.2h0M1433 125.8h0M1777.3 105h0M1799.2 88.4h0M1774.5 100.5h0M1466 103.9h0M1801.2 99.9h0M1788.9 142.4h0M1816.3 121.4h0M1448.9 117h0M1452.4 118.6h0M1782.7 109.6h0M1835.2 88.3h0M1783.6 89.4h0M1801.3 97.2h0M1500.5 125.4h0M1791.5 142.5h0M1808.5 113h0M1493.8 123.7h0M1493.3 119.6h0M1791.8 360.9h0M1788 87h0M1822.3 112.7h0M1484.2 123h0M1447.3 139.2h0M1802 374.5h0M1780.3 120.4h0M1816.1 114.7h0M1457 99.6h0M1443.1 116.9h0M1821.5 103h0M1803.4 109.6h0M1770.2 352.5h0M1821.6 109.3h0M1804 380.2h0M1789.4 116.2h0M1785.1 93.5h0M1781 350.8h0M1457 125.3h0M1817.5 100.2h0M1777.5 102.1h0M1805.3 390.3h0M1496.3 134h0M1454.8 118h0M1785.4 367.9h0M1775.1 355.3h0M1822.4 107.1h0M1439.3 142.1h0M1782.3 367.7h0M1439.7 118.8h0M1832.2 91.3h0M1799.5 111.7h0M1783.7 111.2h0M1753.1 382.9h0M1756.8 355h0M1478.1 121.1h0M1818.6 107.7h0M1435.6 140.2h0M1820.9 117.2h0M1440.2 132.3h0M1804.3 102.3h0M1813.9 104.6h0M1486.6 125.5h0M1798.6 105.1h0M1815.7 101.1h0M1448.7 111.5h0M1800 91.8h0M1791.2 79.1h0M1799.3 371.8h0M1815.4 97.4h0M1773.4 414.2h0M1493.7 128.7h0M1478.5 116.4h0M1511.2 131.5h0M1765.5 353.6h0M1508.8 130.4h0M1783.7 378.6h0M1788 85.9h0M1785.2 100.6h0M1823.6 107h0M1445.9 115.4h0M1811.9 107.8h0M1776.5 389h0M1792.9 101.4h0M1770.3 347.5h0M1790.6 135.4h0M1819.7 124.2h0M1437.3 120.4h0M1464.3 119.1h0M1501.5 132.3h0M1792.4 359.1h0M1809 89.5h0M1779.1 429.8h0M1811.5 97.2h0M1821.2 110.7h0M1785.4 134.9h0M1787.4 122.3h0M1780 357.6h0M1776.1 352h0M1788.4 116.3h0M1774.2 348h0M1452.4 114.1h0" stroke="#50c7c8" stroke-width="7" stroke-linecap="round" fill="none"/>
<path d="M1826.8 82.8h0M1481.5 97.7h0M1771.3 410h0M1797 367.1h0M1797.4 412.5h0M1471 296h0M1477.1 293.5h0M1810 386.9h0M1810.3 401.4h0M1776.1 425.8h0M1782.2 379.2h0M1815.5 410.8h0M1785.8 139.1h0M1800.3 400.7h0M1751.9 366.6h0M1758.9 401.2h0M1468 88.6h0M1818.1 413.5h0M1832.4 97.1h0M1750.2 393h0M1771.1 421.5h0M1481.3 115.6h0M1792.9 430.3h0M1481 308h0M1475.5 309.6h0M1443.2 131.1h0M1787.3 412.2h0M1811.4 389.3h0M1834.2 102h0M1759 373.1h0M1754.8 377.8h0M1798.5 378.3h0M1758.4 384.1h0M1464.7 106.4h0M1798.8 135.1h0M1813.9 401.3h0M1756 373.5h0M1757.3 375.4h0M1808.5 402.6h0M1481.9 88h0M1814.6 381.1h0M1454.1 108.2h0M1749.4 365.3h0M1789.7 365.5h0M1740.6 395.6h0M1793.9 439h0M1801.6 376.8h0M1460.7 97.9h0M1752.7 423.2h0M1790.3 105.3h0M1783.4 422.5h0M1753.3 369.3h0M1755.7 376.6h0M1804.2 383.2h0M1453.9 99.1h0M1752.4 360.7h0M1782.8 139.6h0M1745.2 390.4h0M1801 427.5h0M1799.6 392.6h0M1811 395.2h0M1487.1 293.6h0M1791.6 370.1h0M1813.6 401.7h0M1795.5 397.7h0M1450.3 113.6h0M1783.3 430h0M1784.4 370.8h0M1491.4 99.7h0M1786.7 371.9h0M1462.6 111h0M1803.4 432.7h0M1840 97.2h0M1743.8 409h0M1831 84.2h0M1777.8 439.5h0M1451.9 126.3h0M1790.9 378.2h0M1769.8 383.7h0M1793.8 381.3h0M1440.2 128.5h0M1801.3 431.9h0M1819.9 383.9h0M1785.2 437.8h0M1802.3 401h0M1832.9 109.4h0M1797.1 89.2h0M1771.2 399.8h0M1470.9 94.5h0M1781.8 439h0M1786.1 398.8h0M1449.4 122.5h0M1481.4 293.1h0M1804.6 385.5h0M1741.8 404.8h0M1767.1 399h0M1782.1 133.1h0M1816.9 384.8h0M1748 397.1h0M1453.8 103h0M1751.5 403.3h0M1811.6 389.2h0M1788.6 431.3h0M1449.2 108.5h0M1799.9 390.8h0M1743.9 400h0M1823.2 92.5h0M1817.7 380.5h0M1797.8 407.1h0M1825.7 101.6h0M1748.3 378.3h0M1467.7 311.2h0M1781.7 396.8h0M1772 421.7h0M1450.9 102.4h0M1828.2 109.6h0M1786.5 376.2h0M1758.3 378.9h0M1829.3 101.3h0M1452.8 119.8h0M1792.5 426.7h0M1777.8 432.3h0M1469.8 100.8h0M1489.5 96.3h0M1803.4 407.1h0M1756.6 370.6h0M1744.9 368.1h0M1751.9 408.4h0M1796.9 133.1h0M1785 373.6h0M1745.8 417h0M1785.6 431.4h0M1802.6 397.3h0M1755.8 415.7h0M1481.2 87.5h0M1456.8 106.2h0M1758.9 384.3h0M1824.8 114h0M1803.1 396.7h0M1819.3 386.8h0M1808.5 391.9h0M1815.1 87h0M1825.1 100.7h0M1769.4 404.8h0M1807.7 419.3h0M1762.7 431.4h0M1799.2 394.8h0M1798.4 385.3h0M1745.4 374.2h0M1806.6 383.3h0M1802.2 417.5h0M1782.9 126h0M1802.1 370.3h0M1780.1 370.7h0M1814.7 419h0M1809.2 401.2h0M1815.8 416.3h0M1810.4 401.4h0M1462.8 88.3h0M1803.4 388.4h0M1477.4 300.5h0M1747 392.6h0M1780.3 384.1h0M1798.7 379.4h0M1817 401.7h0M1810.2 99.3h0M1474.6 301.4h0M1783.3 370.3h0M1779.6 423.7h0M1800.6 386.2h0M1772.3 393.1h0M1838.1 99.7h0M1797.8 398.2h0M1789.4 369.2h0M1758.9 391.1h0M1809.7 404.7h0M1756 375.3h0M1475.3 291.4h0M1479 89.6h0M1457.5 130.7h0M1475.1 95.2h0M1468.2 83.9h0M1773.4 400.4h0M1768.8 437.8h0M1471.7 290.6h0M1787.9 133.3h0M1780.8 112h0M1740.9 401.1h0M1821 396.1h0M1747.7 371.9h0M1817.3 97.3h0M1804.2 378.7h0M1813.3 405.8h0M1480.3 102h0M1787.5 427h0M1753.5 432.8h0M1757.5 386.8h0M1836.1 103.8h0M1478.8 92.9h0M1822.5 88.8h0M1806.8 434.2h0M1752.1 372h0M1784.4 376.7h0M1796.4 394.9h0M1800.9 368.9h0M1782.1 419.3h0M1821.1 88.8h0M1760.2 383.7h0M1798.8 429.4h0M1471.2 90.1h0M1797.6 426.2h0M1800.9 388.6h0M1750.4 369.6h0M1747.2 391.3h0M1486.7 288.6h0M1784.3 369.9h0M1741.4 403.5h0M1787.4 375.3h0M1811.2 385.4h0M1486.5 104.5h0M1796.8 399.1h0M1779.2 95.1h0M1788.6 409.5h0M1779.7 428.5h0M1745.8 378h0M1755.1 382h0M1757.4 422.7h0M1473.1 298.7h0M1748.8 372.5h0M1786.3 365.1h0M1754.4 426h0M1789.2 123.1h0M1460.1 89.1h0M1811.2 417h0M1762.2 394.6h0M1816.4 386.2h0M1798.5 388.5h0M1483.9 93.6h0M1810.6 404.6h0M1764.9 421.8h0M1820.2 385.7h0M1756 378.4h0M1785 116.1h0M1765.2 428h0M1744.8 396.3h0M1481.1 283.9h0M1820.1 89.2h0M1757.3 365h0M1484 89.3h0M1789 126.4h0M1797.9 367.4h0M1784.8 129.4h0M1784.7 438.4h0M1786.4 401.9h0M1799 377.1h0M1787.9 423.1h0M1795.2 359.2h0M1746 372.9h0M1464 98.3h0M1802.5 385.6h0M1766.6 437.5h0M1767.2 431.6h0M1798.8 386.9h0" stroke="#dbc031" stroke-width="7" stroke-linecap="round" fill="none"/>
<path d="M1816.9 107.7h0M1825.3 123.9h0M1780.6 370.3h0M1779.7 357.4h0M1772.1 350.1h0M1806.1 94.4h0M1455.4 136.9h0M1811.7 118.9h0M1771.3 355.5h0M1801.8 101.1h0M1784.8 116.4h0M1785.9 103.8h0M1755.7 363.9h0M1789.3 357.7h0M1448.3 134.4h0M1749 402.7h0M1779.3 121h0M1791.5 375.3h0M1824.7 110.5h0M1832.5 118.6h0M1795.4 413.2h0M1796.4 369.3h0M1803.8 102.2h0M1814.8 116.2h0M1483 118.6h0M1807.9 101.4h0M1762.5 386.7h0M1796.1 380.7h0M1487.9 123h0M1497.7 122.7h0M1456.6 108.9h0M1789 112.7h0M1791.4 380.3h0M1493.5 116.4h0M1790.8 380.4h0M1795.8 106.2h0M1785.8 124.8h0M1492.9 131.4h0M1807.1 98h0M1789.9 360.2h0M1445.8 123.5h0M1454.9 122.3h0M1784 87h0M1510.5 138.8h0M1754.8 350.1h0M1792.6 371.7h0M1830 84.1h0M1761.1 357.9h0M1451.8 131.9h0M1814 105h0M1438.5 121.8h0M1809.1 96.5h0M1749.3 376h0M1791.1 116.6h0M1793.1 80.6h0M1830.8 116.7h0M1821.6 395.5h0M1505.6 133.7h0M1456.6 102.2h0M1782.9 99.3h0M1823.9 116.1h0M1779.4 365.5h0M1758.1 359.9h0M1786.9 110h0M1827.4 120.8h0M1817.5 392.2h0M1802.6 99.5h0M1792.3 147.6h0M1784.4 371.4h0M1821.2 106.1h0M1814.2 104.4h0M1443.8 137.3h0M1781.9 361.8h0M1747.1 393.8h0M1788.2 113.8h0M1796.5 371.9h0M1838.9 112h0M1817.1 105h0M1444.4 111h0M1490.7 116.7h0M1789.4 366.3h0M1788.6 111.3h0M1761 360.6h0M1782.8 121.3h0M1808.9 381.9h0M1795.4 374.4h0M1767.6 350.3h0M1478.6 278.7h0M1793.1 89.1h0M1788.7 79.9h0M1746.8 417.8h0M1748.1 371.6h0M1819.2 106.5h0M1784.9 96.9h0M1804 114.9h0M1437.6 136.1h0M1454.1 129.7h0M1784.1 113.5h0M1793.9 382.1h0M1787 359.2h0M1479.6 286.2h0M1495.9 117.6h0M1831 118.3h0M1789.4 368h0M1790.8 112.6h0M1842.5 118.3h0M1784.4 349.8h0M1829.6 124.2h0M1757.7 354.8h0M1450.3 139.4h0M1784.4 108.2h0M1790 102.3h0M1841.5 114.8h0M1832.9 124.7h0M1743.5 402.7h0M1804.3 392.5h0M1834.5 115.5h0M1755.5 351.3h0M1785.7 87.6h0M1804.8 99.7h0M1448.7 130.2h0" stroke="#50c7c8" stroke-width="7" stroke-linecap="round" fill="none"/>
<path d="M1750.7 410.5h0M1796.1 398.6h0M1808.3 380.2h0M1792.1 368.8h0M1790.3 385.2h0M1475.1 104h0M1783.4 115.5h0M1796.1 371.4h0M1757.3 379.6h0M1832 89.7h0M1478.5 283.6h0M1754.5 411.7h0M1797 373.9h0M1480.6 309.5h0M1476.5 114.2h0M1743.5 413.2h0M1766.7 401.4h0M1745.4 371.1h0M1452.6 137.3h0M1779 421.9h0M1744.6 393h0M1803.3 376.2h0M1483.3 278.6h0M1747.7 413.1h0M1751.5 373.1h0M1443.3 126.2h0M1454.5 103.3h0M1472.6 283.2h0M1752.3 416h0M1804 400.5h0M1453.2 122h0M1450.9 102.4h0M1756.1 372.8h0M1761.1 431.2h0M1752.9 361.9h0M1799.1 417.6h0M1778.4 425.2h0M1815.8 383.3h0M1751 407.8h0M1794.4 366.8h0M1481.4 302.9h0M1811 381.8h0M1754.7 368.4h0M1810.6 405.1h0M1749.7 397.3h0M1800.8 403.2h0M1773.3 420.4h0M1468.3 296.3h0M1799.4 395.1h0M1801.4 114.8h0M1740.5 385.2h0M1741.7 389.2h0M1479.6 281.2h0M1783.4 386h0M1803.4 386.6h0M1762.4 363.6h0M1754.5 366.7h0M1778 397.3h0M1742.7 401.3h0M1760.2 422.3h0M1751.2 406.4h0M1835.1 92.3h0M1818.3 383.2h0M1803.2 431.2h0M1443.6 113.7h0M1841.1 92.9h0M1820.4 398.5h0M1782.1 136.2h0M1814.1 401.4h0M1793.4 407.8h0M1814.2 386.6h0M1789.6 367.3h0M1804.9 377.8h0M1817 403.4h0M1454.9 105.6h0M1792.8 374.8h0M1744.9 405h0M1804 406h0M1799.1 414.6h0M1800.9 383.2h0M1806 380.5h0M1813.3 377.9h0M1465.5 86.5h0M1791.5 409.6h0M1759.7 425h0M1776.8 424.8h0M1822.4 82.5h0M1784.5 357.6h0M1791.3 372.5h0M1807 387.2h0M1806.8 415.1h0M1806.8 406.6h0M1754.6 406h0M1805.6 388.2h0M1782.8 376.8h0M1749.2 407.5h0M1781 378.4h0M1796 377.1h0M1781 410.1h0M1816.4 404.1h0M1465.6 95.7h0M1454.9 115.3h0M1814.5 399.1h0M1801.3 392.7h0M1811.5 389.9h0M1802.7 374.1h0M1466.7 303.8h0M1476.9 307h0M1785.1 132.2h0M1786 423h0M1803.5 376.1h0M1807.6 118.1h0M1773.2 387.9h0M1791.5 384.4h0M1791.8 381.7h0M1801.3 431.4h0M1760.3 370.1h0M1790.4 365.9h0M1759.4 392h0M1449 137.1h0M1790.9 423.8h0M1802 386.5h0M1459.9 103.8h0M1756.5 390.2h0M1800.3 404.5h0M1770.9 425.9h0M1767.6 404.8h0M1807.7 383h0M1787 373.4h0M1773.1 422.4h0M1797.4 427.2h0M1793.3 137.7h0M1772.4 413.8h0M1755.7 424.2h0M1768.8 416h0M1802.3 400.9h0M1483.9 99.5h0M1766.1 416.5h0M1466.7 124.7h0M1805.6 387h0M1836.1 97.3h0M1478.6 311.6h0M1783.7 433.4h0M1814.6 391.4h0M1742.9 409.6h0M1797.3 384.5h0M1758 374h0M1782.3 361.5h0M1820.5 98.8h0M1744.8 372.1h0M1758.2 396.3h0M1768.3 433.4h0M1810.1 379.8h0M1478.5 96h0M1795.6 402.8h0M1788.9 433.7h0M1781.4 403.7h0M1794.6 371.8h0M1810 97.5h0M1757.2 437.7h0M1806.7 384.6h0M1810.2 396.3h0M1738.7 387.8h0M1742.2 375.7h0M1808.9 387.2h0M1813.6 392.5h0M1761.5 366.9h0M1750.9 403.2h0M1769.4 388.7h0M1440.1 137.4h0M1759.9 398.4h0M1794.1 140.6h0M1749.4 376.1h0M1775.6 399.2h0M1793.6 366.8h0M1484.5 302h0M1805.9 429.7h0M1760 378.2h0M1775.7 414.4h0M1441.8 139.6h0M1807.6 379.4h0M1825.5 110.3h0M1476.2 98.5h0M1802.9 388.8h0M1750.2 363.3h0M1465 300.7h0M1793.6 386.5h0M1762.1 392.7h0M1815.5 94.6h0M1791.7 365.7h0M1810.9 401.7h0M1820.4 397.1h0M1798.3 372.1h0M1818.6 103.7h0M1796.1 125.2h0M1777.9 435.4h0M1815.3 387.5h0M1758.2 366.1h0M1763.4 353.3h0M1793.3 400.1h0M1833.9 101.7h0M1822.7 85.3h0M1752 392.9h0M1475.7 303.9h0M1470.8 286.9h0M1471.3 303h0M1792.7 419.5h0M1483.3 104.2h0M1773 406h0M1762.7 389.9h0M1484.5 285.7h0M1787 353.2h0M1802.2 375.2h0M1773.1 428.8h0M1807.1 395.4h0M1749.6 389.9h0M1474.3 288.3h0M1749.8 387.1h0M1817 384.4h0M1460.2 113h0M1490.2 105.5h0M1798.8 398.1h0M1785.6 394.5h0M1797.9 369.2h0M1784.5 387.6h0M1819.7 83.4h0M1806.2 394.5h0M1787.6 408.3h0M1473.7 295.9h0M1784.6 374.7h0M1791.8 434.9h0M1789.6 370.8h0M1797.4 437h0" stroke="#dbc031" stroke-width="7" stroke-linecap="round" fill="none"/>
<path d="M1813.2 116.5h0M1808 390.7h0M1809.6 115.5h0M1786.6 95.7h0M1783.6 118.4h0M1837.3 116h0M1772.5 356.7h0M1498.9 136.2h0M1432.2 129.6h0M1840.9 115.6h0M1798.3 83.5h0M1805.5 112.6h0M1472.5 309.8h0M1793 377.5h0M1445.8 132.9h0M1777.6 362.6h0M1798.5 95.4h0M1806.1 84.4h0M1499.7 130h0M1795.1 391.8h0M1777.5 98.9h0M1789.7 98.2h0M1760.8 369.8h0M1457.3 134.2h0M1454.7 132.3h0M1451.4 128.9h0M1763.4 364h0M1802.6 369.8h0M1769.8 361.5h0M1798.2 372.9h0M1836.3 97.6h0M1439.1 125.4h0M1497.4 127.9h0M1804.3 117h0M1779.7 115.9h0M1807.1 111.8h0M1812.5 109.2h0M1840.9 119.4h0M1458.2 109.6h0M1790.3 145.2h0M1810 99.9h0M1451.7 111.1h0M1505.7 130.1h0M1482.6 112.8h0M1465.7 102.3h0M1511.6 136.4h0M1443.2 121.9h0M1780 99.7h0M1500.7 122.6h0M1484.8 114.6h0M1789.5 81.5h0M1798 94.1h0M1818.3 122.5h0M1755.9 361.6h0M1445.6 129.7h0M1764.3 367.7h0M1461.7 119.8h0M1801.5 85.5h0M1783.3 105.4h0M1779.8 119.3h0M1809.6 110.7h0M1780.1 116h0M1838.1 106.5h0M1796.1 97h0M1802.3 371.8h0M1789.9 366.9h0M1832.3 107.4h0M1801.2 368.6h0M1761.8 372.5h0M1449.7 118h0M1464.8 122.7h0M1792 365.2h0M1503.8 126.1h0M1446.7 140.6h0M1781.7 118.4h0M1454 141.1h0M1793.5 109.8h0M1503.4 122.3h0M1472.9 122.6h0M1796.4 370.6h0M1782.9 424.6h0M1793 373.7h0M1441.9 141.7h0M1794.6 145.6h0M1753.9 368.2h0M1784.6 111.7h0M1787.6 115.3h0M1801.9 93.7h0M1790.4 365.4h0M1793.6 131.7h0M1791.2 93.4h0M1445.3 144h0M1757 380.8h0M1476.3 123.9h0M1769.5 361.5h0M1808.4 108.8h0M1836.8 113.9h0M1438.4 139.7h0M1753.1 357.5h0M1801.2 84.2h0M1818.1 102.4h0M1792.1 104.5h0M1470.9 117.2h0M1828.7 94.9h0M1784.8 122h0M1807 107.7h0M1463.4 116.4h0M1793.8 103.7h0M1472.3 112.4h0M1756.2 409.7h0M1786.5 98.8h0M1786.9 119.4h0M1786.9 120.2h0M1778.5 348.2h0M1444.4 122.4h0M1446.4 126.6h0M1447.6 120.2h0M1810.2 110.9h0M1804.4 118.5h0M1488.4 114.2h0M1507.6 127.3h0M1800.3 91.5h0M1441.2 112.6h0M1828.5 109.1h0M1795 366.5h0M1796.9 378.4h0M1802.8 95.4h0M1805.5 85.1h0M1803.8 108.5h0M1832.3 94.1h0M1796.8 369.4h0M1800 368.7h0M1760.3 354.5h0M1761.9 349.7h0M1797.7 94.1h0M1791.7 93.8h0M1496.6 131.1h0M1502.8 128.7h0M1786.7 365.4h0M1775.9 396.7h0M1802.7 103.2h0M1465.6 90.5h0M1756.3 394.7h0M1787.9 361.9h0M1800.7 368h0M1792.1 96.3h0M1435.8 130.1h0M1836.9 120.2h0M1822.6 120.4h0M1759.3 348.2h0M1790.4 119.3h0" stroke="#50c7c8" stroke-width="7" stroke-linecap="round" fill="none"/>
<line x1="1417" y1="449" x2="1417" y2="378" stroke="#000" stroke-width="2.6"/>
<path d="M1417 372 L1412.5 381 L1421.5 381 Z" fill="#000"/>
<line x1="1416" y1="449" x2="1488" y2="449" stroke="#000" stroke-width="2.6"/>
<path d="M1494 449 L1485 444.5 L1485 453.5 Z" fill="#000"/>
<text x="1410" y="406" font-size="18.9" text-anchor="middle" transform="rotate(-90 1410 406)">UMAP 2</text>
<text x="1458" y="471" font-size="18.9" text-anchor="middle">UMAP 1</text>
<text x="3.5" y="555.3" font-size="37" font-weight="bold">d</text>
<line x1="135.6" y1="570" x2="135.6" y2="966.7" stroke="#000" stroke-width="2.6"/>
<line x1="134.4" y1="965.5" x2="621.8" y2="965.5" stroke="#000" stroke-width="2.6"/>
<line x1="129.6" y1="616" x2="135.6" y2="616" stroke="#000" stroke-width="2.2"/>
<text x="124.5" y="623.6" font-size="20.5" text-anchor="end">Late FGC</text>
<line x1="129.6" y1="692.1" x2="135.6" y2="692.1" stroke="#000" stroke-width="2.2"/>
<text x="124.5" y="699.7" font-size="20.5" text-anchor="end">Early FGC</text>
<line x1="129.6" y1="768.2" x2="135.6" y2="768.2" stroke="#000" stroke-width="2.2"/>
<text x="124.5" y="775.8" font-size="20.5" text-anchor="end">SC</text>
<line x1="129.6" y1="844.3" x2="135.6" y2="844.3" stroke="#000" stroke-width="2.2"/>
<text x="124.5" y="851.9" font-size="20.5" text-anchor="end">DLC</text>
<line x1="129.6" y1="920.4" x2="135.6" y2="920.4" stroke="#000" stroke-width="2.2"/>
<text x="124.5" y="928" font-size="20.5" text-anchor="end">LP</text>
<line x1="153" y1="965.5" x2="153" y2="971.5" stroke="#000" stroke-width="2.2"/>
<text x="162.5" y="991" font-size="20.2" text-anchor="end" font-style="italic" transform="rotate(-45 162.5 991)">DCN</text>
<line x1="181.2" y1="965.5" x2="181.2" y2="971.5" stroke="#000" stroke-width="2.2"/>
<text x="190.7" y="991" font-size="20.2" text-anchor="end" font-style="italic" transform="rotate(-45 190.7 991)">COL1A1</text>
<line x1="209.4" y1="965.5" x2="209.4" y2="971.5" stroke="#000" stroke-width="2.2"/>
<text x="218.9" y="991" font-size="20.2" text-anchor="end" font-style="italic" transform="rotate(-45 218.9 991)">STAR</text>
<line x1="237.6" y1="965.5" x2="237.6" y2="971.5" stroke="#000" stroke-width="2.2"/>
<text x="247.1" y="991" font-size="20.2" text-anchor="end" font-style="italic" transform="rotate(-45 247.1 991)">CYP17A1</text>
<line x1="265.8" y1="965.5" x2="265.8" y2="971.5" stroke="#000" stroke-width="2.2"/>
<text x="275.3" y="991" font-size="20.2" text-anchor="end" font-style="italic" transform="rotate(-45 275.3 991)">AMH</text>
<line x1="294" y1="965.5" x2="294" y2="971.5" stroke="#000" stroke-width="2.2"/>
<text x="303.5" y="991" font-size="20.2" text-anchor="end" font-style="italic" transform="rotate(-45 303.5 991)">CITED1</text>
<line x1="322.2" y1="965.5" x2="322.2" y2="971.5" stroke="#000" stroke-width="2.2"/>
<text x="331.7" y="991" font-size="20.2" text-anchor="end" font-style="italic" transform="rotate(-45 331.7 991)">SOX9</text>
<line x1="350.4" y1="965.5" x2="350.4" y2="971.5" stroke="#000" stroke-width="2.2"/>
<text x="359.9" y="991" font-size="20.2" text-anchor="end" font-style="italic" transform="rotate(-45 359.9 991)">NANOG</text>
<line x1="378.6" y1="965.5" x2="378.6" y2="971.5" stroke="#000" stroke-width="2.2"/>
<text x="388.1" y="991" font-size="20.2" text-anchor="end" font-style="italic" transform="rotate(-45 388.1 991)">POU5F1</text>
<line x1="406.8" y1="965.5" x2="406.8" y2="971.5" stroke="#000" stroke-width="2.2"/>
<text x="416.3" y="991" font-size="20.2" text-anchor="end" font-style="italic" transform="rotate(-45 416.3 991)">LIN28A</text>
<line x1="435" y1="965.5" x2="435" y2="971.5" stroke="#000" stroke-width="2.2"/>
<text x="444.5" y="991" font-size="20.2" text-anchor="end" font-style="italic" transform="rotate(-45 444.5 991)">TFAP2C</text>
<line x1="463.2" y1="965.5" x2="463.2" y2="971.5" stroke="#000" stroke-width="2.2"/>
<text x="472.7" y="991" font-size="20.2" text-anchor="end" font-style="italic" transform="rotate(-45 472.7 991)">NANOS3</text>
<line x1="491.4" y1="965.5" x2="491.4" y2="971.5" stroke="#000" stroke-width="2.2"/>
<text x="500.9" y="991" font-size="20.2" text-anchor="end" font-style="italic" transform="rotate(-45 500.9 991)">DDX4</text>
<line x1="519.6" y1="965.5" x2="519.6" y2="971.5" stroke="#000" stroke-width="2.2"/>
<text x="529.1" y="991" font-size="20.2" text-anchor="end" font-style="italic" transform="rotate(-45 529.1 991)">SIX1</text>
<line x1="547.8" y1="965.5" x2="547.8" y2="971.5" stroke="#000" stroke-width="2.2"/>
<text x="557.3" y="991" font-size="20.2" text-anchor="end" font-style="italic" transform="rotate(-45 557.3 991)">TEX15</text>
<line x1="576" y1="965.5" x2="576" y2="971.5" stroke="#000" stroke-width="2.2"/>
<text x="585.5" y="991" font-size="20.2" text-anchor="end" font-style="italic" transform="rotate(-45 585.5 991)">PIWIL2</text>
<line x1="604.2" y1="965.5" x2="604.2" y2="971.5" stroke="#000" stroke-width="2.2"/>
<text x="613.7" y="991" font-size="20.2" text-anchor="end" font-style="italic" transform="rotate(-45 613.7 991)">PIWIL4</text>
<circle cx="153" cy="616" r="3.9" fill="#c4c2c0"/>
<circle cx="181.2" cy="616" r="5.4" fill="#c4c2c0"/>
<circle cx="209.4" cy="616" r="7.7" fill="#c4c2c0"/>
<circle cx="237.6" cy="616" r="6.6" fill="#c4c2c0"/>
<circle cx="265.8" cy="616" r="5" fill="#c4c2c0"/>
<circle cx="294" cy="616" r="7" fill="#c4c2c0"/>
<circle cx="322.2" cy="616" r="4.3" fill="#c4c2c0"/>
<circle cx="350.4" cy="616" r="7" fill="#c4c2c0"/>
<circle cx="378.6" cy="616" r="8.5" fill="#c4c2c0"/>
<circle cx="406.8" cy="616" r="3.1" fill="#c4c2c0"/>
<circle cx="435" cy="616" r="5.4" fill="#c4c2c0"/>
<circle cx="463.2" cy="616" r="7.7" fill="#c4c2c0"/>
<circle cx="491.4" cy="616" r="12" fill="#ee8a28"/>
<circle cx="519.6" cy="616" r="10.9" fill="#ee8a28"/>
<circle cx="547.8" cy="616" r="11.6" fill="#ee8a28"/>
<circle cx="576" cy="616" r="11.6" fill="#ee8a28"/>
<circle cx="604.2" cy="616" r="10.1" fill="#ee8a28"/>
<circle cx="153" cy="692.1" r="3.5" fill="#c4c2c0"/>
<circle cx="181.2" cy="692.1" r="4.6" fill="#c4c2c0"/>
<circle cx="209.4" cy="692.1" r="5.8" fill="#c4c2c0"/>
<circle cx="237.6" cy="692.1" r="5.4" fill="#c4c2c0"/>
<circle cx="265.8" cy="692.1" r="5" fill="#c4c2c0"/>
<circle cx="294" cy="692.1" r="5" fill="#c4c2c0"/>
<circle cx="322.2" cy="692.1" r="3.5" fill="#c4c2c0"/>
<circle cx="350.4" cy="692.1" r="12" fill="#ee8a28"/>
<circle cx="378.6" cy="692.1" r="12" fill="#ee8a28"/>
<circle cx="406.8" cy="692.1" r="10.9" fill="#ee8a28"/>
<circle cx="435" cy="692.1" r="11.6" fill="#ee8a28"/>
<circle cx="463.2" cy="692.1" r="12" fill="#ee8a28"/>
<circle cx="491.4" cy="692.1" r="10.5" fill="#c9bdb2"/>
<circle cx="519.6" cy="692.1" r="2.7" fill="#c4c2c0"/>
<circle cx="547.8" cy="692.1" r="3.1" fill="#c4c2c0"/>
<circle cx="576" cy="692.1" r="7.4" fill="#c9bdb2"/>
<circle cx="604.2" cy="692.1" r="3.9" fill="#c4c2c0"/>
<circle cx="153" cy="768.2" r="10.5" fill="#c4c2c0"/>
<circle cx="181.2" cy="768.2" r="8.9" fill="#c4c2c0"/>
<circle cx="209.4" cy="768.2" r="10.5" fill="#c4c2c0"/>
<circle cx="237.6" cy="768.2" r="6.2" fill="#c4c2c0"/>
<circle cx="265.8" cy="768.2" r="11.6" fill="#ee8a28"/>
<circle cx="294" cy="768.2" r="11.6" fill="#ee8a28"/>
<circle cx="322.2" cy="768.2" r="10.9" fill="#ee8a28"/>
<circle cx="350.4" cy="768.2" r="4.3" fill="#c4c2c0"/>
<circle cx="378.6" cy="768.2" r="4.6" fill="#c4c2c0"/>
<circle cx="406.8" cy="768.2" r="1.9" fill="#c4c2c0"/>
<circle cx="435" cy="768.2" r="2.7" fill="#c4c2c0"/>
<circle cx="463.2" cy="768.2" r="3.9" fill="#c4c2c0"/>
<circle cx="491.4" cy="768.2" r="4.3" fill="#c4c2c0"/>
<circle cx="519.6" cy="768.2" r="2.7" fill="#c4c2c0"/>
<circle cx="547.8" cy="768.2" r="3.9" fill="#c4c2c0"/>
<circle cx="576" cy="768.2" r="3.1" fill="#c4c2c0"/>
<circle cx="604.2" cy="768.2" r="2.3" fill="#c4c2c0"/>
<circle cx="153" cy="844.3" r="12" fill="#c4c2c0"/>
<circle cx="181.2" cy="844.3" r="5.8" fill="#c4c2c0"/>
<circle cx="209.4" cy="844.3" r="11.6" fill="#ee8a28"/>
<circle cx="237.6" cy="844.3" r="11.6" fill="#ee8a28"/>
<circle cx="265.8" cy="844.3" r="3.5" fill="#c4c2c0"/>
<circle cx="294" cy="844.3" r="3.5" fill="#c4c2c0"/>
<circle cx="322.2" cy="844.3" r="1.9" fill="#c4c2c0"/>
<circle cx="350.4" cy="844.3" r="4.6" fill="#c4c2c0"/>
<circle cx="378.6" cy="844.3" r="6.6" fill="#c4c2c0"/>
<circle cx="406.8" cy="844.3" r="3.1" fill="#c4c2c0"/>
<circle cx="435" cy="844.3" r="3.5" fill="#c4c2c0"/>
<circle cx="463.2" cy="844.3" r="6.6" fill="#c4c2c0"/>
<circle cx="491.4" cy="844.3" r="3.5" fill="#c4c2c0"/>
<circle cx="519.6" cy="844.3" r="2.3" fill="#c4c2c0"/>
<circle cx="547.8" cy="844.3" r="2.7" fill="#c4c2c0"/>
<circle cx="576" cy="844.3" r="3.9" fill="#c4c2c0"/>
<circle cx="604.2" cy="844.3" r="2.7" fill="#c4c2c0"/>
<circle cx="153" cy="920.4" r="11.6" fill="#ee8a28"/>
<circle cx="181.2" cy="920.4" r="12" fill="#ee8a28"/>
<circle cx="209.4" cy="920.4" r="8.9" fill="#c4c2c0"/>
<circle cx="237.6" cy="920.4" r="3.5" fill="#c4c2c0"/>
<circle cx="265.8" cy="920.4" r="5.8" fill="#c4c2c0"/>
<circle cx="294" cy="920.4" r="5" fill="#c4c2c0"/>
<circle cx="322.2" cy="920.4" r="2.7" fill="#c4c2c0"/>
<circle cx="350.4" cy="920.4" r="3.5" fill="#c4c2c0"/>
<circle cx="378.6" cy="920.4" r="3.9" fill="#c4c2c0"/>
<circle cx="406.8" cy="920.4" r="1.5" fill="#c4c2c0"/>
<circle cx="435" cy="920.4" r="2.3" fill="#c4c2c0"/>
<circle cx="463.2" cy="920.4" r="3.1" fill="#c4c2c0"/>
<circle cx="491.4" cy="920.4" r="2.7" fill="#c4c2c0"/>
<circle cx="519.6" cy="920.4" r="1.9" fill="#c4c2c0"/>
<circle cx="547.8" cy="920.4" r="1.9" fill="#c4c2c0"/>
<circle cx="576" cy="920.4" r="1.9" fill="#c4c2c0"/>
<circle cx="604.2" cy="920.4" r="2.7" fill="#c4c2c0"/>
<text x="23" y="791" font-size="21" text-anchor="middle" transform="rotate(-90 23 791)">Cell type</text>
<text x="396" y="1070" font-size="21.5" text-anchor="middle">Genes</text>
<text x="643.5" y="664.3" font-size="19">Percent Expressed</text>
<circle cx="695.5" cy="687.9" r="4.3" fill="#000"/>
<text x="716" y="694.3" font-size="18.8">25</text>
<circle cx="695.5" cy="710" r="6.9" fill="#000"/>
<text x="716" y="716.4" font-size="18.8">50</text>
<circle cx="695.5" cy="732.4" r="9.7" fill="#000"/>
<text x="716" y="738.9" font-size="18.8">75</text>
<circle cx="695.5" cy="755.7" r="12.4" fill="#000"/>
<text x="716" y="762.9" font-size="18.8">100</text>
<text x="643.5" y="807" font-size="19">Expression</text>
<defs><linearGradient id="dg" x1="0" x2="0" y1="0" y2="1"><stop offset="0" stop-color="#ee8a28"/><stop offset="1" stop-color="#c4c4c4"/></linearGradient></defs>
<rect x="681" y="820" width="22.6" height="111.4" fill="url(#dg)"/>
<line x1="681" y1="833.6" x2="685" y2="833.6" stroke="#fff" stroke-width="1"/>
<line x1="699.6" y1="833.6" x2="703.6" y2="833.6" stroke="#fff" stroke-width="1"/>
<line x1="681" y1="858.4" x2="685" y2="858.4" stroke="#fff" stroke-width="1"/>
<line x1="699.6" y1="858.4" x2="703.6" y2="858.4" stroke="#fff" stroke-width="1"/>
<line x1="681" y1="883.2" x2="685" y2="883.2" stroke="#fff" stroke-width="1"/>
<line x1="699.6" y1="883.2" x2="703.6" y2="883.2" stroke="#fff" stroke-width="1"/>
<line x1="681" y1="908" x2="685" y2="908" stroke="#fff" stroke-width="1"/>
<line x1="699.6" y1="908" x2="703.6" y2="908" stroke="#fff" stroke-width="1"/>
<text x="713.3" y="830.7" font-size="19.3">High</text>
<text x="713.3" y="932.9" font-size="19.3">Low</text>
<text x="838" y="555.3" font-size="38" font-weight="bold">e</text>
<defs><path id="eTLaA" d="M1466 103.9h0M1485.9 101.8h0M1486.2 98.2h0M1476.6 91h0M1458.2 109.6h0M1491.4 99.7h0M1476.2 98.5h0M1450 105.8h0M1453.8 103h0M1481.9 88h0M1471.2 90.1h0M1488.6 102.9h0M1475.1 104h0M1477.8 104.3h0M1483.9 93.6h0M1473.3 99.7h0M1462.6 111h0M1457.9 112.7h0M1462.9 93.6h0M1489.5 96.3h0M1468.5 93.1h0M1475.2 95h0M1459.6 106.6h0M1457 99.6h0M1462.3 108.3h0M1490.2 105.5h0M1465.5 86.5h0M1483.3 104.2h0M1460.1 89.1h0M1448.7 111.5h0M1481.5 97.7h0M1459.9 103.8h0M1465.6 95.7h0M1471.8 103.8h0M1468.2 83.9h0M1453.9 99.1h0M1486.6 91.8h0M1469.8 100.8h0M1485.9 101.5h0M1468 88.6h0M1486.5 104.5h0M1491.1 99.8h0M1486.5 97.9h0M1462.8 88.3h0M1476.1 89.8h0M1470.8 98.2h0M1478.9 98.8h0M1456.6 108.9h0M1465.7 102.3h0M1454.1 107.5h0M1478.5 96h0M1456.8 106.2h0M1475.7 102.9h0M1460.1 110.2h0M1492.8 104.7h0M1484 89.3h0M1450.9 102.4h0M1475.1 95.2h0M1489.8 97.3h0"/><path id="eTLaB" d="M1458.3 92.2h0M1494.2 99.6h0M1461.6 101.8h0M1454.1 108.2h0M1464.3 101.6h0M1480.5 95h0M1454.9 105.6h0M1460.7 97.9h0M1456.6 102.2h0M1450.9 102.4h0M1452.4 114.1h0M1468.5 96.3h0M1474.5 85.9h0M1467.2 98.9h0M1492.8 102h0M1451.7 111.1h0M1459.6 94.5h0M1454.7 110.9h0M1492.6 97h0M1449.2 108.5h0M1480.3 102h0M1483.9 99.5h0M1478.8 92.9h0M1465.6 90.5h0M1464.7 106.4h0M1464 98.3h0M1470.9 94.5h0M1461.3 101.1h0M1479 89.6h0M1454.5 103.3h0M1481.2 87.5h0M1488.3 99.9h0M1460.6 98.3h0M1483.9 93.8h0M1463.7 93.1h0M1460.2 113h0"/><path id="eTLlA" d="M1443.1 116.9h0M1438.5 121.8h0M1443.2 121.9h0M1453.2 122h0M1448.9 117h0M1452.2 136.7h0M1455.7 126.9h0M1447.6 120.2h0M1452.4 118.6h0M1451.8 131.9h0M1435.6 140.2h0M1446.7 140.6h0M1439.7 118.8h0M1454.9 115.3h0M1449.4 122.5h0M1451.4 128.9h0M1452.1 111h0M1434.7 135.8h0M1443.8 137.3h0M1432.2 129.6h0M1438.4 139.7h0M1439.1 125.4h0M1435.8 130.1h0M1443.1 133.8h0M1443.3 126.2h0M1449 137.1h0M1454 141.1h0M1441.2 112.6h0M1437.6 136.1h0M1457.5 130.7h0M1445 118.7h0M1433 125.8h0M1445.3 144h0M1448.1 143.1h0M1434.4 122.8h0M1443.2 131.1h0M1443.6 113.7h0M1436.1 125.2h0M1449.1 126.3h0M1440.1 137.4h0M1454.7 132.3h0M1449.7 118h0M1457 125.3h0M1454.9 122.3h0M1452.4 133.9h0M1444.4 122.4h0"/><path id="eTLlB" d="M1455.1 135.2h0M1454.1 129.7h0M1445.8 123.5h0M1441.8 139.6h0M1442.1 144.2h0M1446.4 126.6h0M1445.6 129.7h0M1444.4 111h0M1440.2 132.3h0M1446.8 112.4h0M1448.3 134.4h0M1437.6 127.8h0M1445.9 115.4h0M1447.7 109.9h0M1450.3 113.6h0M1448.7 130.2h0M1450.3 139.4h0M1451.9 126.3h0M1434 132.3h0M1439.3 142.1h0M1440.2 128.5h0M1450.9 142.5h0M1452.2 115.9h0M1442.1 116.6h0M1455 112.4h0M1439.9 122.7h0M1437.3 120.4h0M1457.3 134.2h0M1455.4 136.9h0M1452.8 119.8h0M1452.6 137.3h0M1437 133.1h0M1445.8 132.9h0M1447 124.7h0M1441.9 141.7h0M1441.2 144.4h0M1454.8 118h0M1447.3 139.2h0"/><path id="eTLmA" d="M1473.9 114.8h0M1468.9 119.1h0M1473.5 119.8h0M1464.8 122.7h0M1470 126.4h0M1478.1 121.1h0M1461.7 119.8h0M1469.7 112.1h0M1463.4 116.4h0M1464.3 119.1h0M1468 122.3h0M1476.5 114.2h0M1472.3 112.4h0"/><path id="eTLmB" d="M1470.7 121.2h0M1476.3 123.9h0M1466.7 124.7h0M1470.9 117.2h0M1476 119.1h0M1478.5 116.4h0M1465.6 113.8h0M1467.2 117h0M1472.9 122.6h0M1473.9 126.1h0M1480.7 118.7h0M1467.2 127.3h0M1479.1 124.5h0"/><path id="eTLtA" d="M1503.8 126.1h0M1491.2 126.5h0M1498 119.5h0M1511.6 136.4h0M1497.4 127.9h0M1501.5 132.3h0M1496.3 134h0M1498.9 136.2h0M1496.6 131.1h0M1489.2 128.9h0M1484.8 114.6h0M1503.1 134.5h0M1493.3 119.6h0M1487.9 123h0M1483 118.6h0M1507.6 127.3h0M1481.3 115.6h0M1484.2 123h0M1493.7 128.7h0M1500.7 122.6h0M1497.7 122.7h0M1486.6 125.5h0M1486.2 117.6h0M1502.8 128.7h0M1496.6 125.3h0M1495.9 117.6h0M1508.8 130.4h0M1490.4 119.4h0M1482.6 112.8h0"/><path id="eTLtB" d="M1499.7 130h0M1503.8 138.3h0M1511.2 131.5h0M1507.9 136.6h0M1490.7 116.7h0M1486.9 120.3h0M1500.5 125.4h0M1493.5 116.4h0M1505.6 133.7h0M1505.7 130.1h0M1493.8 123.7h0M1508.6 133.7h0M1490.7 122.2h0M1503.4 122.3h0M1492.9 131.4h0M1488.4 114.2h0M1510.5 138.8h0M1506.3 124.7h0"/><path id="eTRA" d="M1786.5 98.8h0M1819.2 106.5h0M1816.6 111.6h0M1811.9 107.8h0M1782.7 109.6h0M1821.1 88.8h0M1819.7 124.2h0M1786.9 119.4h0M1828.6 102.9h0M1825.3 123.9h0M1790.8 112.6h0M1810.2 99.3h0M1819.3 101.9h0M1825.4 111.9h0M1815.7 101.9h0M1819.7 83.4h0M1833 93.6h0M1834.9 107.7h0M1801.8 101.1h0M1799.2 88.4h0M1789.7 119.8h0M1788.7 79.9h0M1814.8 116.2h0M1780.8 112h0M1818.8 115.2h0M1802.9 104.4h0M1819 121.3h0M1813.8 110.1h0M1793.1 80.6h0M1796.1 97h0M1806.1 84.4h0M1777.5 98.9h0M1786.9 110h0M1785 116.1h0M1779.3 121h0M1830.6 113.9h0M1822.4 107.1h0M1828.2 109.6h0M1779.7 115.9h0M1817.6 99.8h0M1831.5 91.2h0M1825.6 89.6h0M1790 102.3h0M1811.7 118.9h0M1801.2 84.2h0M1801.9 93.7h0M1783.3 105.4h0M1818.1 102.4h0M1800.3 104.8h0M1823.6 99.4h0M1808.5 113h0M1784.1 113.5h0M1835.6 87.6h0M1832.3 107.4h0M1837.3 116h0M1837 101.9h0M1798 94.1h0M1830 84.1h0M1822.8 86.7h0M1808.6 110.1h0M1842.5 118.3h0M1793.1 89.1h0M1777 116h0M1815.4 97.4h0M1809.2 102.9h0M1840.9 115.6h0M1780.6 111.9h0M1806.1 94.4h0M1804.3 102.3h0M1811.7 113.4h0M1814.9 107.8h0M1782.8 121.3h0M1833.9 101.7h0M1789.5 118.9h0M1808.4 95.7h0M1788.6 111.3h0M1798.3 83.5h0M1805.5 85.1h0M1785.2 100.6h0M1822.6 120.4h0M1793.2 107.3h0M1835.1 92.3h0M1803.2 106.8h0M1823.2 92.5h0M1788.1 103.2h0M1803.4 109.6h0M1799.5 111.7h0M1784.8 116.4h0M1781.3 116.7h0M1818.1 95.2h0M1811.3 100.4h0M1786.2 113.8h0M1832.5 118.6h0M1817.5 100.2h0M1840.9 101.6h0M1821.5 116.8h0M1831.9 98.9h0M1809.6 110.7h0M1802.6 99.5h0M1809.6 115.5h0M1798.9 103.6h0M1784.4 108.2h0M1804.3 117h0M1780 99.7h0M1798.5 95.4h0M1805.5 112.6h0M1789.7 98.2h0M1782.7 112h0M1789.5 81.5h0M1836.8 113.9h0M1813.2 116.5h0M1788.4 116.3h0M1784.8 122h0M1797.1 89.2h0M1840 97.2h0M1815.5 94.6h0M1828.5 109.1h0M1822.7 85.3h0M1828 82.3h0M1835.2 88.3h0M1812.5 119.7h0M1807.1 98h0M1775.3 96.5h0M1835 119.3h0M1791.1 116.6h0M1834.2 102h0M1806.6 102.1h0M1783.6 118.4h0M1832.9 124.7h0M1782.3 91.2h0M1787.3 110.2h0M1810 97.5h0M1781.1 109.5h0M1810.6 102.4h0M1836.1 97.3h0M1832.2 114.2h0M1817.3 97.3h0M1777.5 102.1h0M1796.8 108.3h0M1800.3 91.5h0M1825.1 100.7h0M1808.4 108.8h0M1831 84.2h0M1832.9 109.4h0M1807.1 111.8h0M1814.2 104.4h0M1782.4 114.2h0M1824.8 114h0M1838.1 106.5h0M1828.9 108.1h0M1829.5 113h0M1798.6 105.1h0M1816.9 107.7h0M1816.3 121.4h0M1832.2 91.3h0M1804.8 99.7h0M1824.7 110.5h0M1815 117.9h0M1836.1 103.8h0M1803 107.4h0M1838.9 112h0M1797.7 94.1h0M1792.1 104.5h0M1796.7 98.9h0M1837.8 123.1h0M1797.8 90.4h0M1802.7 103.2h0M1838.3 96h0M1790 93.3h0M1810.2 110.9h0M1778.8 112.4h0M1825.2 88.7h0M1789 117.8h0M1811.5 97.2h0M1793.2 107.2h0M1790.8 109.6h0M1792.1 81.5h0M1786.7 109.6h0M1780.1 116h0M1783.7 111.2h0M1783.3 100.9h0M1802.8 95.4h0M1817.5 93h0"/><path id="eTRB" d="M1787.4 122.3h0M1783.4 115.5h0M1777.3 105h0M1788 85.9h0M1780.9 117.1h0M1804.4 118.5h0M1789.4 116.2h0M1826.8 82.8h0M1792.1 96.3h0M1784.6 111.7h0M1835.4 124.3h0M1832.4 109.4h0M1807.9 101.4h0M1840.9 119.4h0M1821.2 110.7h0M1829 106.9h0M1798.4 111h0M1823.9 116.1h0M1814.7 97.8h0M1786.6 95.7h0M1828.7 94.9h0M1806.8 106.7h0M1814 105h0M1784 87h0M1783.9 122.1h0M1788.2 113.8h0M1817.1 105h0M1832.4 97.1h0M1800 91.8h0M1791.2 93.4h0M1836.9 120.2h0M1806 111.8h0M1836.4 93.8h0M1822.4 82.5h0M1804 114.9h0M1809.1 96.5h0M1834.5 115.5h0M1788 87h0M1793.8 103.7h0M1801.1 109.3h0M1831.1 104.7h0M1781.7 118.4h0M1825.9 84.5h0M1783.5 109.9h0M1812.4 101.1h0M1821.5 103h0M1831 118.3h0M1834.6 109.7h0M1829.3 101.3h0M1836.3 97.6h0M1820.9 117.2h0M1783.6 89.4h0M1825.5 110.3h0M1807.6 118.1h0M1820.9 89.7h0M1819.7 111.1h0M1801.3 97.2h0M1827.4 120.8h0M1797.4 108.4h0M1828.1 88.4h0M1774.5 100.5h0M1825.7 101.6h0M1829.9 106.5h0M1790.3 105.3h0M1816.1 114.7h0M1791.7 93.8h0M1818.6 103.7h0M1807 107.7h0M1779.2 95.1h0M1785.1 93.5h0M1821.2 106.1h0M1795.8 106.2h0M1824.5 106.2h0M1812.5 109.2h0M1780.3 120.4h0M1819.6 86.3h0M1841.1 92.9h0M1801.5 85.5h0M1818.6 107.7h0M1818.3 122.5h0M1824.3 82.8h0M1832.3 94.1h0M1822.5 88.8h0M1813.9 104.6h0M1836.9 109h0M1811.4 92.9h0M1816.5 109.9h0M1803.8 108.5h0M1820.5 98.8h0M1832 89.7h0M1818.5 112.2h0M1815.1 87h0M1803.8 102.2h0M1785.9 103.8h0M1785.7 87.6h0M1782.9 99.3h0M1801.5 111.7h0M1791.2 79.1h0M1781.2 86.3h0M1794.8 104h0M1830.8 116.7h0M1829.6 124.2h0M1790.4 119.3h0M1818.9 93.6h0M1792.9 101.4h0M1823.6 107h0M1779.8 119.3h0M1822.3 112.7h0M1784.7 109.2h0M1786.9 120.2h0M1818.2 103h0M1778.1 93h0M1807 115h0M1787.6 115.3h0M1790.7 96.7h0M1789.2 103.8h0M1793.5 109.8h0M1809 89.5h0M1821.6 109.3h0M1797.8 81.1h0M1801.2 99.9h0M1826.6 97.4h0M1815.7 101.1h0M1801.4 114.8h0M1789 112.7h0M1810.5 119.7h0M1817.3 112.5h0M1784.9 96.9h0M1799.6 96.6h0M1781.9 84.7h0M1838.1 99.7h0M1810 99.9h0M1820.9 85.2h0M1781.4 95.4h0M1828.9 104.7h0M1781.2 122.1h0M1817.6 95.8h0M1820.1 89.2h0M1841.5 114.8h0M1819.8 118.9h0M1783.4 93.3h0"/><path id="eTRbA" d="M1792.3 147.6h0M1791.8 124.8h0M1794.6 145.6h0M1785.8 139.1h0M1794.1 140.6h0M1784.8 129.4h0M1791.5 142.5h0M1794 128.3h0M1797.1 137.5h0M1795 135.5h0M1793.6 131.7h0M1796.1 125.2h0M1791.2 139.5h0M1782.1 133.1h0M1797.9 128.8h0M1789 126.4h0M1788.9 142.4h0M1782.9 126h0M1788.7 139h0M1779.6 134.1h0M1785.8 141.9h0"/><path id="eTRbB" d="M1790.3 145.2h0M1789.8 130.3h0M1798.8 135.1h0M1799.7 132.6h0M1782.1 136.2h0M1785.8 124.8h0M1790.6 135.4h0M1785.4 134.9h0M1785.1 132.2h0M1780 131.2h0M1782.1 129.4h0M1787.9 133.3h0M1793.3 137.7h0M1782.8 139.6h0M1796.9 133.1h0M1789.2 123.1h0"/><path id="eSMA" d="M1478.6 278.7h0M1486.7 288.6h0M1475.7 303.9h0M1480.6 309.5h0M1484.6 297.3h0M1479.6 281.2h0M1484 293.2h0M1466.8 293h0M1481.4 302.9h0M1471 296h0M1481.2 288.6h0M1482.7 305.8h0M1475.8 285h0M1472.6 283.2h0M1465.6 309.1h0M1471.2 315.2h0M1469.6 299.9h0M1475.5 309.6h0M1474.3 288.3h0M1483.3 278.6h0M1465 300.7h0M1480.6 295.8h0M1477.3 288.5h0M1467.7 307.4h0M1476.9 307h0M1484.5 302h0M1475.5 281.2h0M1471.3 303h0M1472.5 309.8h0M1473.5 306h0M1468.9 289.3h0M1482.9 281.4h0M1483.5 289.8h0M1478.6 311.6h0M1475 314h0M1468.2 314.1h0M1474.6 301.4h0M1469.7 292.7h0M1468.3 296.3h0M1476.3 304h0M1477.8 278.8h0M1481 308h0M1485.9 299.7h0M1480.5 278.6h0"/><path id="eSMB" d="M1473.7 295.9h0M1467.7 311.2h0M1466.7 303.8h0M1479.2 305.7h0M1471.7 290.6h0M1470.9 305.9h0M1476.2 297.8h0M1481.1 283.9h0M1478.8 291.4h0M1470.8 286.9h0M1475.3 291.4h0M1484.5 285.7h0M1479.6 286.2h0M1485.6 282.5h0M1465.8 297.5h0M1480.6 299.1h0M1473.1 298.7h0M1487.1 293.6h0M1477.4 300.5h0M1477.1 293.5h0M1478.5 283.6h0M1465.2 306.5h0M1470.5 311.7h0M1481.4 293.1h0M1486.4 288.9h0M1473.5 293.3h0M1485.3 297.1h0"/><path id="eBRtA" d="M1754.8 377.8h0M1756.1 372.8h0M1782.3 361.5h0M1755.7 363.9h0M1756.7 368.7h0M1780 357.6h0M1760.7 363.5h0M1751.5 373.1h0M1787 353.2h0M1762.4 368.4h0M1770.3 347.5h0M1750.4 369.6h0M1758.3 375h0M1752.9 361.9h0M1782.9 354.6h0M1769 358.2h0M1749.3 376h0M1758.2 366.1h0M1790.4 365.4h0M1782.3 367.7h0M1747.7 371.9h0M1787.9 361.9h0M1779.3 362.2h0M1760.3 354.5h0M1775.1 355.3h0M1789.9 360.2h0M1754.5 366.7h0M1773.5 363h0M1760.7 376.9h0M1758.3 378.9h0M1786 370.9h0M1792.4 359.1h0M1795.2 359.2h0M1784.5 357.6h0M1767.5 355.3h0M1754.3 379.3h0M1796.1 363.7h0M1756.6 370.6h0M1761.1 357.9h0M1784.4 349.8h0M1768.2 346.3h0M1753.1 357.5h0M1763.5 346.6h0M1752.1 372h0M1748.8 368.2h0M1764.3 367.7h0M1766.2 358.8h0M1755.9 361.6h0M1761.5 366.9h0M1765.5 353.6h0M1761.9 349.7h0M1786.3 365.1h0M1757.3 365h0M1785.4 367.9h0M1759 373.9h0M1779.7 357.4h0M1760.8 369.8h0M1756 373.5h0M1761 360.6h0M1749.4 365.3h0M1794.4 366.8h0M1780.1 370.7h0M1779.4 365.5h0M1789.3 357.7h0M1777.6 362.6h0M1774.2 348h0M1752 368.8h0M1769.8 364.5h0M1755.5 351.3h0M1769.8 361.5h0M1756.8 355h0M1752.1 364.5h0M1771.3 355.5h0M1767.6 350.3h0M1791.8 360.9h0"/><path id="eBRtB" d="M1771 364.2h0M1753.4 358.6h0M1749 367.2h0M1787 359.2h0M1775.7 358.9h0M1758.1 359.9h0M1786.7 365.4h0M1763.4 353.3h0M1776.3 350.6h0M1753.4 375.4h0M1770.2 352.5h0M1760.3 370.1h0M1781 350.8h0M1750.2 363.3h0M1780.6 370.3h0M1753.3 369.3h0M1763.7 360h0M1776 364.3h0M1761.8 372.5h0M1767.9 351.1h0M1763.4 364h0M1791.4 355.7h0M1772.5 356.7h0M1769.5 361.5h0M1754.8 350.1h0M1757.7 354.8h0M1778.5 348.2h0M1765.9 348.2h0M1752 365.6h0M1765.9 362.6h0M1755.7 376.6h0M1781.9 361.8h0M1759.6 363.6h0M1759.3 348.2h0M1792.9 364.2h0M1752.4 360.7h0M1749.4 376.1h0M1751.9 375.2h0M1748.1 371.6h0M1758.4 359.1h0M1789.9 366.9h0M1772.3 352.8h0M1754.7 368.4h0M1776.1 352h0M1782.4 353.5h0M1751.3 378.6h0M1792.7 355.3h0M1762.4 363.6h0M1772.1 350.1h0"/><path id="eBRA" d="M1776.6 434.7h0M1750.9 403.2h0M1799.4 369.1h0M1768.4 427.1h0M1811 395.2h0M1803.5 376.1h0M1808.9 381.9h0M1814.5 399.1h0M1807.7 399h0M1802.4 373.7h0M1785.2 437.8h0M1796.4 369.3h0M1790.8 380.4h0M1783.4 422.5h0M1765.2 428h0M1758 374h0M1766.5 403.6h0M1788.6 409.5h0M1787.1 375.4h0M1798.4 373.8h0M1754.8 411.9h0M1750.4 408.8h0M1805.6 388.2h0M1806.9 431.2h0M1752.7 429.7h0M1757.3 438.2h0M1768 432h0M1788.2 379.7h0M1753.4 402.2h0M1819.9 383.9h0M1745.5 407.9h0M1785.7 405.8h0M1778.3 384.9h0M1794 424.3h0M1773.3 420.4h0M1794 392.5h0M1802.1 370.3h0M1795.5 387.4h0M1802.3 401h0M1746.8 417.8h0M1748 366.7h0M1778 397.3h0M1767.1 399h0M1802.9 388.8h0M1812.1 408h0M1753.9 368.2h0M1802.8 427.3h0M1802.3 413.5h0M1784.4 370.8h0M1800.9 383.2h0M1790.2 377.8h0M1803.4 407.1h0M1748.8 372.5h0M1801.6 376.8h0M1787.9 423.1h0M1814.2 386.6h0M1816.3 400.6h0M1796.8 369.4h0M1803.4 385.9h0M1786.7 367.2h0M1808.5 402.6h0M1810.1 379.8h0M1763.4 427.8h0M1781 410.1h0M1751.6 436h0M1784.6 401.9h0M1779 421.9h0M1759.4 392h0M1740.5 377.1h0M1787.9 399.5h0M1763.1 385.6h0M1791.4 380.3h0M1795.6 402.8h0M1816.4 404.1h0M1746.1 387h0M1795.2 374.4h0M1792.7 419.5h0M1767.6 404.8h0M1808.6 377.6h0M1807 412.8h0M1745.4 371.1h0M1756 378.4h0M1777.8 439.5h0M1759 373.1h0M1814.6 381.1h0M1783.7 433.4h0M1792.8 376h0M1778 431.7h0M1748 397.1h0M1802.6 369.8h0M1806.7 384.6h0M1789.6 370.8h0M1771.3 410h0M1792.3 412.6h0M1818.6 393.3h0M1741.2 411.1h0M1797.3 384.5h0M1816.1 388.2h0M1793.6 366.8h0M1806.8 402h0M1744.9 414.1h0M1793.5 429.8h0M1780.4 419.3h0M1804.2 383.2h0M1738.7 387.8h0M1748.4 417.9h0M1803.5 373h0M1806.6 433.3h0M1784.3 369.9h0M1745.7 376.2h0M1775.9 396.7h0M1742.9 370.2h0M1773.1 422.4h0M1758.2 396.3h0M1797.9 418h0M1810.9 384.3h0M1818.1 403.9h0M1800 368.7h0M1740.6 395.6h0M1747.1 393.8h0M1800.4 431.7h0M1776.8 424.8h0M1817.6 417.6h0M1806 380.5h0M1810.3 401.4h0M1780.3 384.1h0M1740.9 401.1h0M1818.3 383.2h0M1789.6 367.3h0M1789.9 421.8h0M1790.6 376.1h0M1798.1 381.3h0M1782.9 424.6h0M1796.4 370.6h0M1766.1 425.1h0M1820.4 397.1h0M1781.5 404.4h0M1793 377.5h0M1773.2 387.9h0M1797 367.1h0M1762.7 390.8h0M1772.3 393.1h0M1745.3 367.2h0M1796.8 399.1h0M1817.3 398.4h0M1801 427.5h0M1801.5 396.2h0M1757.3 375.4h0M1795.4 413.2h0M1797 373.9h0M1744.6 393h0M1782.1 419.3h0M1761.6 416.5h0M1776.8 412.7h0M1799.9 390.8h0M1745.8 378h0M1812 389.6h0M1776.3 440.4h0M1768.4 419.6h0M1742.9 409.6h0M1800.3 400.7h0M1762.5 386.7h0M1786.6 380h0M1810.9 401.7h0M1780.5 430.7h0M1755.6 415.8h0M1796.2 409.9h0M1793.8 381.3h0M1795.5 431.6h0M1757.5 386.8h0M1799.1 414.6h0M1803.4 388.4h0M1785.7 367.7h0M1797.7 370.1h0M1785 412.2h0M1741 397.5h0M1747.2 391.3h0M1779.1 414.3h0M1773.4 400.4h0M1793.4 407.8h0M1813.1 394h0M1807.6 379.4h0M1785.6 394.5h0M1796.9 377.1h0M1780.1 434.3h0M1771.1 421.5h0M1802.7 394.2h0M1796.8 404.8h0M1797.4 412.5h0M1782.2 379.2h0M1769 401.9h0M1770.7 410.5h0M1754.6 406h0M1791.8 434.9h0M1804.5 397.2h0M1801.6 436.9h0M1742.7 401.3h0M1776.1 425.8h0M1748.3 378.3h0M1789 374.9h0M1760.4 400.4h0M1784.1 373.6h0M1753.1 382.9h0M1812.6 414.9h0M1798.2 372.9h0M1767.1 428.8h0M1758.4 384.1h0M1756.2 409.7h0M1798.1 394.5h0M1789.7 365.5h0M1809.7 382.2h0M1769.4 404.8h0M1797.5 432.5h0M1750.2 393h0M1786.1 430.5h0M1815.3 387.5h0M1757.4 422.7h0M1768.5 422.3h0M1750.1 435.7h0M1797.2 367.3h0M1807.5 384h0M1784.7 438.4h0M1807.4 380.7h0M1794 368.3h0M1774.2 431.1h0M1772.9 401.3h0M1781.9 388.3h0M1756.8 403.8h0M1740.9 387.4h0M1806.1 406.6h0M1758.9 391.1h0M1813.1 397.7h0M1741.8 404.8h0M1742.4 384.7h0M1786.9 368.1h0M1797.4 437h0M1808.5 391.9h0M1810.2 396.3h0M1745.4 374.2h0M1783.3 370.3h0M1759.7 425h0M1756.3 394.7h0M1762 402.1h0M1802.2 417.5h0M1794.6 396.5h0M1802.3 387.9h0M1787.4 375.3h0M1762.7 389.9h0M1807 387.2h0M1810.3 406.4h0M1781 378.4h0M1798.8 386.9h0M1799.8 399h0M1753.2 366.6h0M1758.9 384.3h0M1787.6 408.3h0M1820.2 385.7h0M1792.3 372.4h0M1786.1 432.6h0M1785.7 373.2h0M1802.8 406.5h0M1787.1 387.2h0M1744.8 396.3h0M1793.3 400.1h0M1768.5 407h0M1750.6 391h0M1803.4 432.7h0M1804.2 378.7h0M1775.9 412h0M1777.4 428.2h0M1804.9 414.1h0M1810.7 377.4h0M1748.8 367.4h0M1760 380.1h0M1768.8 437.8h0M1749.2 407.7h0M1743.9 400h0M1776.9 431h0M1801.2 368.6h0M1811.6 396.9h0M1803.1 396.7h0M1799.1 417.6h0M1796.9 369h0M1814.9 394.1h0M1788.9 433.7h0M1792 365.2h0M1782.8 371.2h0M1808.2 409.1h0M1778.2 425.4h0M1792.7 380.8h0M1795.5 380.7h0M1807.1 395.4h0M1789.1 381.2h0M1799.9 376.8h0M1795 366.5h0M1797.5 390.9h0M1746.5 369.3h0M1811.6 389.2h0M1750.8 372.5h0M1762.2 394.6h0M1750.6 386.5h0M1789.1 377h0M1809.7 404.7h0M1765.9 426.5h0M1774.4 426.2h0M1756.5 390.2h0M1819.6 389.9h0M1816.4 386.2h0M1756 375.3h0M1756.4 413.3h0M1773 406h0M1766.1 416.5h0M1773.1 428.8h0M1789.4 366.3h0M1786.6 373.3h0M1744.9 405h0M1756.4 429.5h0M1793.2 435.1h0M1780.9 439h0M1805.2 400.5h0M1778.1 408.9h0M1749.2 407.5h0M1815.8 383.3h0M1789.4 369.2h0M1797.8 407.1h0M1749.6 389.9h0M1807.7 383h0M1792.8 374.8h0M1813.4 378.9h0M1793.7 377.6h0M1821 396.1h0M1806.9 392.5h0M1743.8 409h0M1739.2 391.9h0M1781.7 396.8h0M1751.9 408.4h0M1787.7 433h0M1781.4 380.2h0M1768.3 433.4h0M1791.8 381.7h0M1798.8 398.1h0M1798.7 379.4h0M1797 381.5h0M1803.3 376.2h0M1796.5 367.9h0M1777.8 432.3h0M1746.6 375.6h0M1802.3 371.8h0M1790.1 388.2h0M1754.4 426h0M1813 409.9h0M1771.1 415.2h0M1755.1 382h0M1778.4 425.2h0M1811.6 389.2h0M1798.3 374.9h0M1766.7 401.4h0M1805.6 387h0M1811.2 417h0M1810 386.9h0M1786.7 379.3h0M1746.7 411.1h0M1795 390.8h0M1795.9 387.5h0M1752.3 401.3h0M1806 378.7h0M1790.2 379.3h0M1817.5 392.2h0M1757.6 390.2h0M1792.6 431.4h0M1783.4 386h0M1745.8 417h0M1816.6 388.1h0M1791.3 434.3h0M1808.6 403.9h0M1738.6 388.4h0M1780.5 390.2h0M1817.9 404.5h0M1817 401.7h0M1754.6 391h0M1785 373.6h0M1749.3 406.4h0M1741.3 411.2h0M1772.8 394h0M1792 374.2h0M1742.7 374.8h0M1777.9 435.4h0M1796.9 378.4h0M1806.6 383.3h0M1755.8 415.7h0M1818.7 413.4h0M1763.4 427.1h0M1808.7 396h0M1796.8 392.9h0M1799.6 392.6h0M1811 381.8h0M1761 424.8h0M1793.9 382.1h0M1750.7 410.5h0M1800.6 386.2h0M1798.2 398.2h0M1743.5 413.2h0M1779.1 429.8h0M1810.7 388.7h0M1786.1 367.3h0M1789.7 380.7h0M1751.7 407.5h0M1751.5 403.3h0M1773.4 414.2h0M1805.2 429.7h0M1747.7 413.1h0M1749 402.7h0M1804 380.2h0M1791.6 370.1h0M1786.1 398.8h0M1807.4 403.7h0M1813.3 377.9h0M1775.6 399.2h0M1744.2 384.4h0M1813.6 405.5h0M1811.4 394.8h0M1742.2 375.7h0M1760 378.2h0M1766.6 437.5h0M1801.9 397.8h0M1796.1 377.1h0M1801 403.2h0M1814.7 419h0M1802.2 375.2h0M1745.2 390.4h0M1752.8 384.3h0M1757.5 431.1h0M1803.4 386.6h0M1808.4 386h0M1778.4 436.2h0M1752.9 415.1h0M1800 416h0M1794.8 387h0M1740.5 383.9h0M1787.5 427h0M1754.8 418.5h0M1798.5 378.3h0M1792.5 382.4h0M1795.4 415.8h0M1764.8 419.1h0M1817.7 398h0M1752.7 423.2h0M1757 380.8h0M1804 400.5h0M1773.3 397.8h0M1797.9 367.4h0M1810.6 405.1h0M1808 392.1h0M1791.7 365.7h0M1779.6 423.7h0M1793 373.7h0M1784.3 370h0M1786.7 371.9h0M1817 384.4h0M1741.8 412h0M1798.3 372.1h0M1773.7 422.1h0M1806.1 402.1h0M1814.4 387.5h0M1788.6 431.3h0M1815.8 416.3h0M1808.3 380.2h0M1788.3 380.5h0M1739.5 395.7h0"/><path id="eBRB" d="M1804.3 392.5h0M1744.9 368.1h0M1796.1 380.7h0M1802 386.5h0M1797.4 427.2h0M1809.3 377.3h0M1762.1 392.7h0M1799.2 394.8h0M1750.2 374.4h0M1768.8 416h0M1806.8 406.6h0M1801.3 431.4h0M1795.9 373h0M1791.5 375.3h0M1794.4 428.8h0M1776.5 389h0M1783.6 429.8h0M1817 403.4h0M1779.7 428.5h0M1806.8 434.2h0M1775.7 414.4h0M1784.5 387.6h0M1781.8 439h0M1798.7 398.8h0M1806.2 394.5h0M1791.1 372.2h0M1760.2 422.3h0M1741.4 403.5h0M1816.4 380.9h0M1773.4 390.7h0M1792.5 367.4h0M1779.7 435.8h0M1782.8 376.8h0M1802.6 397.3h0M1814.3 378.2h0M1808.9 387.2h0M1795.7 379.6h0M1754.5 411.7h0M1810.7 382.7h0M1765.9 429.5h0M1801 374.3h0M1821.6 395.5h0M1740.5 385.2h0M1799.2 426.2h0M1760.9 433.4h0M1791.5 384.4h0M1751 407.8h0M1769.4 388.7h0M1779.3 414.8h0M1800.3 380.4h0M1755.3 396.5h0M1801.3 431.9h0M1815.8 409.9h0M1759.5 422.3h0M1819.3 386.8h0M1795.1 391.8h0M1751.8 390.4h0M1820.4 398.5h0M1789.7 374.3h0M1754.4 418.1h0M1792.5 426.7h0M1770 434.9h0M1814.6 391.4h0M1814.1 398h0M1811.4 389.3h0M1786.5 376.2h0M1800.8 403.2h0M1802.5 385.6h0M1797.8 398.2h0M1755.4 402.5h0M1792.6 371.7h0M1755.7 424.2h0M1808 390.7h0M1783.8 386.4h0M1762.7 431.4h0M1751.2 406.4h0M1790.5 380.3h0M1801.8 381.8h0M1772.4 413.8h0M1751.9 366.6h0M1817.7 380.5h0M1743.5 402.7h0M1752.9 429.5h0M1787 373.4h0M1803.8 393.5h0M1808.3 428.1h0M1803.6 401.5h0M1758.1 390.4h0M1813.6 401.7h0M1799 377.1h0M1808.9 388.1h0M1801.5 378h0M1807.7 419.3h0M1796 377.1h0M1759.9 398.4h0M1821.5 389.7h0M1777.1 437.1h0M1784.4 371.4h0M1775.7 395.1h0M1790.3 385.2h0M1810.6 404.6h0M1784.6 374.7h0M1804 406h0M1750.7 368.3h0M1793.1 365.8h0M1798.8 429.4h0M1750.5 434.2h0M1813.3 405.8h0M1783.3 430h0M1771.2 427.9h0M1753.5 432.8h0M1804.9 377.8h0M1801.9 372.2h0M1786.4 401.9h0M1790.9 378.2h0M1786.9 436.9h0M1797.4 381.4h0M1816.9 384.8h0M1789.6 398.3h0M1794.6 371.8h0M1790.6 418.5h0M1811.2 385.4h0M1805.3 390.3h0M1803.4 434.5h0M1811.5 389.9h0M1757.3 379.6h0M1764.7 416.9h0M1813.5 379h0M1805.3 431.3h0M1795.5 397.7h0M1752.3 416h0M1745.1 400.1h0M1750.9 407.4h0M1793 382.9h0M1765.3 421.8h0M1760.1 416.3h0M1791.3 372.5h0M1817.8 395.8h0M1802.7 374.1h0M1786 423h0M1737.2 388.6h0M1786.2 379.7h0M1790.3 404.9h0M1818.1 413.5h0M1784.4 376.7h0M1798 378.9h0M1812.4 393.3h0M1777 398.1h0M1793.6 380.4h0M1800.6 419.7h0M1758.1 376.5h0M1800.6 379.4h0M1759.3 388.1h0M1763.2 418.7h0M1810.4 401.4h0M1795.3 439.1h0M1793.6 386.5h0M1757.2 437.7h0M1802.3 400.9h0M1804.6 385.5h0M1795.5 424h0M1767.2 431.6h0M1770.9 413.7h0M1788.1 371.5h0M1784.8 427.7h0M1781 432.4h0M1793.8 375h0M1745.7 430.1h0M1801.3 392.7h0M1813.7 398.7h0M1789 390.2h0M1792.9 430.3h0M1758.9 401.2h0M1805.9 429.7h0M1796.5 371.9h0M1745.1 392.4h0M1800.9 388.6h0M1786.6 368.4h0M1759.3 394.1h0M1811.8 384.6h0M1784.4 407.7h0M1792.1 368.8h0M1814.1 401.4h0M1802 425.7h0M1791.7 393.3h0M1759 387h0M1783.7 378.6h0M1770.5 386.4h0M1758.2 398.2h0M1798.4 385.3h0M1796 416.9h0M1781.4 403.7h0M1775.2 397.2h0M1790.9 423.8h0M1770.9 425.9h0M1747 392.6h0M1756.1 420.9h0M1756.9 394.3h0M1809.2 401.2h0M1741.7 389.2h0M1749.7 397.3h0M1800.7 368h0M1795.4 374.4h0M1804.5 397h0M1744.8 372.1h0M1817.1 384.3h0M1772 421.7h0M1805.1 403.2h0M1790.4 365.9h0M1785.5 436.2h0M1787.3 412.2h0M1805.9 390h0M1797.2 382.4h0M1796.1 371.4h0M1797.6 426.2h0M1800.3 404.5h0M1802 374.5h0M1769.8 383.7h0M1806.8 415.1h0M1813.7 397.2h0M1746.7 385.1h0M1797.9 369.2h0M1798.5 388.5h0M1761.1 431.2h0M1738 385.2h0M1791.5 409.6h0M1754.5 381h0M1819.7 391.4h0M1785.6 431.4h0M1752 392.9h0M1772.1 385.3h0M1789.7 376h0M1774.1 430.7h0M1756.7 423.4h0M1782.4 437h0M1799.3 371.8h0M1800.9 368.9h0M1798.8 435.8h0M1745.3 380.3h0M1746 372.9h0M1764.9 421.8h0M1817.3 393.9h0M1813.6 392.5h0M1793.9 439h0M1815.5 410.8h0M1749.8 387.1h0M1790.7 400.3h0M1813.9 401.3h0M1760.2 383.7h0M1789.4 368h0M1771.2 399.8h0M1796.4 394.9h0M1761.1 399.5h0M1796.1 398.6h0M1818.9 390.5h0M1790.9 371.3h0M1798.8 397.9h0M1803.2 431.2h0M1799.4 395.1h0"/></defs>
<line x1="857.8" y1="576.7" x2="857.8" y2="805.4" stroke="#000" stroke-width="1.8"/>
<text x="849.5" y="691" font-size="20.7" text-anchor="middle" transform="rotate(-90 849.5 691)">Early FGC markers</text>
<g transform="translate(333.8 580.5) scale(0.384 0.4986)" stroke-width="4.6" stroke-linecap="round" fill="none"><use href="#eTLaA" stroke="#d7cfce"/><use href="#eTLaB" stroke="#d6d2d2"/><use href="#eTLlA" stroke="#d7cfce"/><use href="#eTLlB" stroke="#d6d2d2"/><use href="#eTLmA" stroke="#d7cfce"/><use href="#eTLmB" stroke="#d6d2d2"/><use href="#eTLtA" stroke="#d7cbc9"/><use href="#eTLtB" stroke="#d7d0cf"/><use href="#eTRA" stroke="#d9bdba"/><use href="#eTRB" stroke="#d7c8c6"/><use href="#eTRbA" stroke="#d9bab6"/><use href="#eTRbB" stroke="#d8c7c5"/><use href="#eSMA" stroke="#d6d6d6"/><use href="#eSMB" stroke="#d6d6d6"/><use href="#eBRtA" stroke="#e25f50"/><use href="#eBRtB" stroke="#dd958c"/><use href="#eBRA" stroke="#e35848"/><use href="#eBRB" stroke="#dd9188"/></g>
<rect x="874.5" y="576.4" width="174" height="229.3" fill="none" stroke="#000" stroke-width="1.7"/>
<text x="961.5" y="603.8" font-size="19" text-anchor="middle" font-weight="bold" font-style="italic">POU5F1</text>
<g transform="translate(512 580.5) scale(0.384 0.4986)" stroke-width="4.6" stroke-linecap="round" fill="none"><use href="#eTLaA" stroke="#d7d0d0"/><use href="#eTLaB" stroke="#d6d3d3"/><use href="#eTLlA" stroke="#d7d0d0"/><use href="#eTLlB" stroke="#d6d3d3"/><use href="#eTLmA" stroke="#d7d0d0"/><use href="#eTLmB" stroke="#d6d3d3"/><use href="#eTLtA" stroke="#d7cfce"/><use href="#eTLtB" stroke="#d6d2d2"/><use href="#eTRA" stroke="#d9bab6"/><use href="#eTRB" stroke="#d8c7c5"/><use href="#eTRbA" stroke="#d9bab6"/><use href="#eTRbB" stroke="#d8c7c5"/><use href="#eSMA" stroke="#d6d6d6"/><use href="#eSMB" stroke="#d6d6d6"/><use href="#eBRtA" stroke="#dd9087"/><use href="#eBRtB" stroke="#dab0ab"/><use href="#eBRA" stroke="#de897f"/><use href="#eBRB" stroke="#daaca6"/></g>
<rect x="1052.7" y="576.4" width="174" height="229.3" fill="none" stroke="#000" stroke-width="1.7"/>
<text x="1139.7" y="603.8" font-size="19" text-anchor="middle" font-weight="bold" font-style="italic">TFAP2C</text>
<g transform="translate(690.2 580.5) scale(0.384 0.4986)" stroke-width="4.6" stroke-linecap="round" fill="none"><use href="#eTLaA" stroke="#d6d6d6"/><use href="#eTLaB" stroke="#d6d6d6"/><use href="#eTLlA" stroke="#d6d6d6"/><use href="#eTLlB" stroke="#d6d6d6"/><use href="#eTLmA" stroke="#d6d6d6"/><use href="#eTLmB" stroke="#d6d6d6"/><use href="#eTLtA" stroke="#d6d6d6"/><use href="#eTLtB" stroke="#d6d6d6"/><use href="#eTRA" stroke="#d7d0d0"/><use href="#eTRB" stroke="#d6d3d3"/><use href="#eTRbA" stroke="#daaca7"/><use href="#eTRbB" stroke="#d8bfbc"/><use href="#eSMA" stroke="#d6d6d6"/><use href="#eSMB" stroke="#d6d6d6"/><use href="#eBRtA" stroke="#dc9e97"/><use href="#eBRtB" stroke="#d9b7b3"/><use href="#eBRA" stroke="#df7f74"/><use href="#eBRB" stroke="#dba6a0"/></g>
<rect x="1230.9" y="576.4" width="174" height="229.3" fill="none" stroke="#000" stroke-width="1.7"/>
<text x="1317.9" y="603.8" font-size="19" text-anchor="middle" font-weight="bold" font-style="italic">LIN28A</text>
<g transform="translate(868.4 580.5) scale(0.384 0.4986)" stroke-width="4.6" stroke-linecap="round" fill="none"><use href="#eTLaA" stroke="#d7cfce"/><use href="#eTLaB" stroke="#d6d2d2"/><use href="#eTLlA" stroke="#d6d2d1"/><use href="#eTLlB" stroke="#d6d4d3"/><use href="#eTLmA" stroke="#d7cfce"/><use href="#eTLmB" stroke="#d6d2d2"/><use href="#eTLtA" stroke="#d7c8c6"/><use href="#eTLtB" stroke="#d7cecd"/><use href="#eTRA" stroke="#d7cecd"/><use href="#eTRB" stroke="#d6d1d1"/><use href="#eTRbA" stroke="#d7c8c6"/><use href="#eTRbB" stroke="#d7cecd"/><use href="#eSMA" stroke="#d6d6d6"/><use href="#eSMB" stroke="#d6d6d6"/><use href="#eBRtA" stroke="#e16658"/><use href="#eBRtB" stroke="#dc9890"/><use href="#eBRA" stroke="#e16354"/><use href="#eBRB" stroke="#dc978f"/></g>
<rect x="1409.1" y="576.4" width="174" height="229.3" fill="none" stroke="#000" stroke-width="1.7"/>
<text x="1496.1" y="603.8" font-size="19" text-anchor="middle" font-weight="bold" font-style="italic">NANOG</text>
<g transform="translate(1046.6 580.5) scale(0.384 0.4986)" stroke-width="4.6" stroke-linecap="round" fill="none"><use href="#eTLaA" stroke="#d7d0d0"/><use href="#eTLaB" stroke="#d6d3d3"/><use href="#eTLlA" stroke="#d7d0d0"/><use href="#eTLlB" stroke="#d6d3d3"/><use href="#eTLmA" stroke="#d7d0d0"/><use href="#eTLmB" stroke="#d6d3d3"/><use href="#eTLtA" stroke="#d7d0d0"/><use href="#eTLtB" stroke="#d6d3d3"/><use href="#eTRA" stroke="#d7c8c6"/><use href="#eTRB" stroke="#d7cecd"/><use href="#eTRbA" stroke="#de897f"/><use href="#eTRbB" stroke="#daaca6"/><use href="#eSMA" stroke="#d6d6d6"/><use href="#eSMB" stroke="#d6d6d6"/><use href="#eBRtA" stroke="#e06d60"/><use href="#eBRtB" stroke="#dc9c95"/><use href="#eBRA" stroke="#e1695b"/><use href="#eBRB" stroke="#dc9a92"/></g>
<rect x="1587.3" y="576.4" width="174" height="229.3" fill="none" stroke="#000" stroke-width="1.7"/>
<text x="1674.3" y="603.8" font-size="19" text-anchor="middle" font-weight="bold" font-style="italic">NANOS3</text>
<line x1="857.8" y1="821.1" x2="857.8" y2="1049.8" stroke="#000" stroke-width="1.8"/>
<text x="849.5" y="935.4" font-size="20.7" text-anchor="middle" transform="rotate(-90 849.5 935.4)">Late FGC markers</text>
<g transform="translate(335.3 824.9) scale(0.384 0.4986)" stroke-width="4.6" stroke-linecap="round" fill="none"><use href="#eTLaA" stroke="#d6d6d6"/><use href="#eTLaB" stroke="#d6d6d6"/><use href="#eTLlA" stroke="#d6d6d6"/><use href="#eTLlB" stroke="#d6d6d6"/><use href="#eTLmA" stroke="#d6d6d6"/><use href="#eTLmB" stroke="#d6d6d6"/><use href="#eTLtA" stroke="#d6d6d6"/><use href="#eTLtB" stroke="#d6d6d6"/><use href="#eTRA" stroke="#e35545"/><use href="#eTRB" stroke="#dd8f86"/><use href="#eTRbA" stroke="#e25f50"/><use href="#eTRbB" stroke="#dd958c"/><use href="#eSMA" stroke="#d6d6d6"/><use href="#eSMB" stroke="#d6d6d6"/><use href="#eBRtA" stroke="#dba59f"/><use href="#eBRtB" stroke="#d9bbb8"/><use href="#eBRA" stroke="#dba59f"/><use href="#eBRB" stroke="#d9bbb8"/></g>
<rect x="876" y="820.8" width="174" height="229.3" fill="none" stroke="#000" stroke-width="1.7"/>
<text x="963" y="848.2" font-size="19" text-anchor="middle" font-weight="bold" font-style="italic">DDX4</text>
<g transform="translate(513.5 824.9) scale(0.384 0.4986)" stroke-width="4.6" stroke-linecap="round" fill="none"><use href="#eTLaA" stroke="#d6d3d3"/><use href="#eTLaB" stroke="#d6d4d4"/><use href="#eTLlA" stroke="#d6d3d3"/><use href="#eTLlB" stroke="#d6d4d4"/><use href="#eTLmA" stroke="#d6d3d3"/><use href="#eTLmB" stroke="#d6d4d4"/><use href="#eTLtA" stroke="#d6d3d3"/><use href="#eTLtB" stroke="#d6d4d4"/><use href="#eTRA" stroke="#e16354"/><use href="#eTRB" stroke="#dc978f"/><use href="#eTRbA" stroke="#dba59f"/><use href="#eTRbB" stroke="#d9bbb8"/><use href="#eSMA" stroke="#d6d6d6"/><use href="#eSMB" stroke="#d6d6d6"/><use href="#eBRtA" stroke="#d6d6d6"/><use href="#eBRtB" stroke="#d6d6d6"/><use href="#eBRA" stroke="#d6d6d6"/><use href="#eBRB" stroke="#d6d6d6"/></g>
<rect x="1054.2" y="820.8" width="174" height="229.3" fill="none" stroke="#000" stroke-width="1.7"/>
<text x="1141.2" y="848.2" font-size="19" text-anchor="middle" font-weight="bold" font-style="italic">SIX1</text>
<g transform="translate(691.7 824.9) scale(0.384 0.4986)" stroke-width="4.6" stroke-linecap="round" fill="none"><use href="#eTLaA" stroke="#d7cfce"/><use href="#eTLaB" stroke="#d6d2d2"/><use href="#eTLlA" stroke="#d7cfce"/><use href="#eTLlB" stroke="#d6d2d2"/><use href="#eTLmA" stroke="#d7c8c6"/><use href="#eTLmB" stroke="#d7cecd"/><use href="#eTLtA" stroke="#d9bdba"/><use href="#eTLtB" stroke="#d7c8c6"/><use href="#eTRA" stroke="#e06d60"/><use href="#eTRB" stroke="#dc9c95"/><use href="#eTRbA" stroke="#dc9e97"/><use href="#eTRbB" stroke="#d9b7b3"/><use href="#eSMA" stroke="#d6d3d3"/><use href="#eSMB" stroke="#d6d4d4"/><use href="#eBRtA" stroke="#d7d0d0"/><use href="#eBRtB" stroke="#d6d3d3"/><use href="#eBRA" stroke="#d7cfce"/><use href="#eBRB" stroke="#d6d2d2"/></g>
<rect x="1232.4" y="820.8" width="174" height="229.3" fill="none" stroke="#000" stroke-width="1.7"/>
<text x="1319.4" y="848.2" font-size="19" text-anchor="middle" font-weight="bold" font-style="italic">TEX15</text>
<g transform="translate(869.9 824.9) scale(0.384 0.4986)" stroke-width="4.6" stroke-linecap="round" fill="none"><use href="#eTLaA" stroke="#d6d6d6"/><use href="#eTLaB" stroke="#d6d6d6"/><use href="#eTLlA" stroke="#d6d6d6"/><use href="#eTLlB" stroke="#d6d6d6"/><use href="#eTLmA" stroke="#d6d6d6"/><use href="#eTLmB" stroke="#d6d6d6"/><use href="#eTLtA" stroke="#d6d6d6"/><use href="#eTLtB" stroke="#d6d6d6"/><use href="#eTRA" stroke="#e35545"/><use href="#eTRB" stroke="#dd8f86"/><use href="#eTRbA" stroke="#e16658"/><use href="#eTRbB" stroke="#dc9890"/><use href="#eSMA" stroke="#d6d2d1"/><use href="#eSMB" stroke="#d6d4d3"/><use href="#eBRtA" stroke="#daaca7"/><use href="#eBRtB" stroke="#d8bfbc"/><use href="#eBRA" stroke="#daaca7"/><use href="#eBRB" stroke="#d8bfbc"/></g>
<rect x="1410.6" y="820.8" width="174" height="229.3" fill="none" stroke="#000" stroke-width="1.7"/>
<text x="1497.6" y="848.2" font-size="19" text-anchor="middle" font-weight="bold" font-style="italic">PIWIL2</text>
<g transform="translate(1048.1 824.9) scale(0.384 0.4986)" stroke-width="4.6" stroke-linecap="round" fill="none"><use href="#eTLaA" stroke="#d6d6d6"/><use href="#eTLaB" stroke="#d6d6d6"/><use href="#eTLlA" stroke="#d6d6d6"/><use href="#eTLlB" stroke="#d6d6d6"/><use href="#eTLmA" stroke="#d6d6d6"/><use href="#eTLmB" stroke="#d6d6d6"/><use href="#eTLtA" stroke="#d6d6d6"/><use href="#eTLtB" stroke="#d6d6d6"/><use href="#eTRA" stroke="#e06d60"/><use href="#eTRB" stroke="#dc9c95"/><use href="#eTRbA" stroke="#daaca7"/><use href="#eTRbB" stroke="#d8bfbc"/><use href="#eSMA" stroke="#d8c1be"/><use href="#eSMB" stroke="#d7cac9"/><use href="#eBRtA" stroke="#d7cfce"/><use href="#eBRtB" stroke="#d6d2d2"/><use href="#eBRA" stroke="#d7cecd"/><use href="#eBRB" stroke="#d6d1d1"/></g>
<rect x="1588.8" y="820.8" width="174" height="229.3" fill="none" stroke="#000" stroke-width="1.7"/>
<text x="1675.8" y="848.2" font-size="19" text-anchor="middle" font-weight="bold" font-style="italic">PIWIL4</text>
<line x1="857.8" y1="1065.6" x2="857.8" y2="1294.3" stroke="#000" stroke-width="1.8"/>
<text x="849.5" y="1180" font-size="20.7" text-anchor="middle" transform="rotate(-90 849.5 1180)">Niche markers</text>
<g transform="translate(335.3 1069.4) scale(0.384 0.4986)" stroke-width="4.6" stroke-linecap="round" fill="none"><use href="#eTLaA" stroke="#d8c1be"/><use href="#eTLaB" stroke="#d7cac9"/><use href="#eTLlA" stroke="#d9bab6"/><use href="#eTLlB" stroke="#d8c7c5"/><use href="#eTLmA" stroke="#d9bab6"/><use href="#eTLmB" stroke="#d8c7c5"/><use href="#eTLtA" stroke="#daaca7"/><use href="#eTLtB" stroke="#d8bfbc"/><use href="#eTRA" stroke="#d6d6d6"/><use href="#eTRB" stroke="#d6d6d6"/><use href="#eTRbA" stroke="#d6d6d6"/><use href="#eTRbB" stroke="#d6d6d6"/><use href="#eSMA" stroke="#e1695b"/><use href="#eSMB" stroke="#dc9a92"/><use href="#eBRtA" stroke="#d6d3d3"/><use href="#eBRtB" stroke="#d6d4d4"/><use href="#eBRA" stroke="#d6d2d1"/><use href="#eBRB" stroke="#d6d4d3"/></g>
<rect x="876" y="1065.3" width="174" height="229.3" fill="none" stroke="#000" stroke-width="1.7"/>
<text x="963" y="1083.6" font-size="19" text-anchor="middle" font-weight="bold" font-style="italic">COL1A1</text>
<text x="963" y="1103.7" font-size="16.2" text-anchor="middle">(LP marker)</text>
<g transform="translate(513.5 1069.4) scale(0.384 0.4986)" stroke-width="4.6" stroke-linecap="round" fill="none"><use href="#eTLaA" stroke="#dba59f"/><use href="#eTLaB" stroke="#d9bbb8"/><use href="#eTLlA" stroke="#dba59f"/><use href="#eTLlB" stroke="#d9bbb8"/><use href="#eTLmA" stroke="#dab3ae"/><use href="#eTLmB" stroke="#d8c3c0"/><use href="#eTLtA" stroke="#daaca7"/><use href="#eTLtB" stroke="#d8bfbc"/><use href="#eTRA" stroke="#d6d6d6"/><use href="#eTRB" stroke="#d6d6d6"/><use href="#eTRbA" stroke="#d6d6d6"/><use href="#eTRbB" stroke="#d6d6d6"/><use href="#eSMA" stroke="#e25b4b"/><use href="#eSMB" stroke="#dd928a"/><use href="#eBRtA" stroke="#d6d3d3"/><use href="#eBRtB" stroke="#d6d4d4"/><use href="#eBRA" stroke="#d6d3d3"/><use href="#eBRB" stroke="#d6d4d4"/></g>
<rect x="1054.2" y="1065.3" width="174" height="229.3" fill="none" stroke="#000" stroke-width="1.7"/>
<text x="1141.2" y="1083.6" font-size="19" text-anchor="middle" font-weight="bold" font-style="italic">DCN</text>
<text x="1141.2" y="1103.7" font-size="16.2" text-anchor="middle">(LP marker)</text>
<g transform="translate(691.7 1069.4) scale(0.384 0.4986)" stroke-width="4.6" stroke-linecap="round" fill="none"><use href="#eTLaA" stroke="#e35140"/><use href="#eTLaB" stroke="#dd8d83"/><use href="#eTLlA" stroke="#e35140"/><use href="#eTLlB" stroke="#dd8d83"/><use href="#eTLmA" stroke="#d9bab6"/><use href="#eTLmB" stroke="#d8c7c5"/><use href="#eTLtA" stroke="#d8c5c3"/><use href="#eTLtB" stroke="#d7cdcc"/><use href="#eTRA" stroke="#d6d6d6"/><use href="#eTRB" stroke="#d6d6d6"/><use href="#eTRbA" stroke="#d6d6d6"/><use href="#eTRbB" stroke="#d6d6d6"/><use href="#eSMA" stroke="#d7cfce"/><use href="#eSMB" stroke="#d6d2d2"/><use href="#eBRtA" stroke="#d6d6d6"/><use href="#eBRtB" stroke="#d6d6d6"/><use href="#eBRA" stroke="#d6d6d6"/><use href="#eBRB" stroke="#d6d6d6"/></g>
<rect x="1232.4" y="1065.3" width="174" height="229.3" fill="none" stroke="#000" stroke-width="1.7"/>
<text x="1319.4" y="1083.6" font-size="19" text-anchor="middle" font-weight="bold" font-style="italic">CYP17A1</text>
<text x="1319.4" y="1103.7" font-size="16.2" text-anchor="middle">(DLC marker)</text>
<g transform="translate(869.9 1069.4) scale(0.384 0.4986)" stroke-width="4.6" stroke-linecap="round" fill="none"><use href="#eTLaA" stroke="#d6d6d6"/><use href="#eTLaB" stroke="#d6d6d6"/><use href="#eTLlA" stroke="#d6d3d3"/><use href="#eTLlB" stroke="#d6d4d4"/><use href="#eTLmA" stroke="#e07467"/><use href="#eTLmB" stroke="#dba099"/><use href="#eTLtA" stroke="#e06d60"/><use href="#eTLtB" stroke="#dc9c95"/><use href="#eTRA" stroke="#d7cfce"/><use href="#eTRB" stroke="#d6d2d2"/><use href="#eTRbA" stroke="#d6d6d6"/><use href="#eTRbB" stroke="#d6d6d6"/><use href="#eSMA" stroke="#d7cecd"/><use href="#eSMB" stroke="#d6d1d1"/><use href="#eBRtA" stroke="#d7cfce"/><use href="#eBRtB" stroke="#d6d2d2"/><use href="#eBRA" stroke="#d7cbc9"/><use href="#eBRB" stroke="#d7d0cf"/></g>
<rect x="1410.6" y="1065.3" width="174" height="229.3" fill="none" stroke="#000" stroke-width="1.7"/>
<text x="1497.6" y="1083.6" font-size="19" text-anchor="middle" font-weight="bold" font-style="italic">AMH</text>
<text x="1497.6" y="1103.7" font-size="16.2" text-anchor="middle">(SC marker)</text>
<g transform="translate(1048.1 1069.4) scale(0.384 0.4986)" stroke-width="4.6" stroke-linecap="round" fill="none"><use href="#eTLaA" stroke="#d6d2d1"/><use href="#eTLaB" stroke="#d6d4d3"/><use href="#eTLlA" stroke="#d6d2d1"/><use href="#eTLlB" stroke="#d6d4d3"/><use href="#eTLmA" stroke="#de897f"/><use href="#eTLmB" stroke="#daaca6"/><use href="#eTLtA" stroke="#de897f"/><use href="#eTLtB" stroke="#daaca6"/><use href="#eTRA" stroke="#d7cecd"/><use href="#eTRB" stroke="#d6d1d1"/><use href="#eTRbA" stroke="#d6d6d6"/><use href="#eTRbB" stroke="#d6d6d6"/><use href="#eSMA" stroke="#d6d6d6"/><use href="#eSMB" stroke="#d6d6d6"/><use href="#eBRtA" stroke="#d7cfce"/><use href="#eBRtB" stroke="#d6d2d2"/><use href="#eBRA" stroke="#d7cbc9"/><use href="#eBRB" stroke="#d7d0cf"/></g>
<rect x="1588.8" y="1065.3" width="174" height="229.3" fill="none" stroke="#000" stroke-width="1.7"/>
<text x="1675.8" y="1083.6" font-size="19" text-anchor="middle" font-weight="bold" font-style="italic">SOX9</text>
<text x="1675.8" y="1103.7" font-size="16.2" text-anchor="middle">(SC marker)</text>
<defs><linearGradient id="eg" x1="0" x2="0" y1="0" y2="1"><stop offset="0" stop-color="#e8473a"/><stop offset="0.25" stop-color="#e27a6e"/><stop offset="0.45" stop-color="#d8a4a1"/><stop offset="0.65" stop-color="#d4cbca"/><stop offset="1" stop-color="#d6d6d6"/></linearGradient></defs>
<rect x="1777.9" y="576.2" width="31.7" height="159" fill="url(#eg)"/>
<line x1="1777.9" y1="586.3" x2="1783.9" y2="586.3" stroke="#fff" stroke-width="1"/>
<line x1="1803.6" y1="586.3" x2="1809.6" y2="586.3" stroke="#fff" stroke-width="1"/>
<line x1="1777.9" y1="616.2" x2="1783.9" y2="616.2" stroke="#fff" stroke-width="1"/>
<line x1="1803.6" y1="616.2" x2="1809.6" y2="616.2" stroke="#fff" stroke-width="1"/>
<line x1="1777.9" y1="646.2" x2="1783.9" y2="646.2" stroke="#fff" stroke-width="1"/>
<line x1="1803.6" y1="646.2" x2="1809.6" y2="646.2" stroke="#fff" stroke-width="1"/>
<line x1="1777.9" y1="676.1" x2="1783.9" y2="676.1" stroke="#fff" stroke-width="1"/>
<line x1="1803.6" y1="676.1" x2="1809.6" y2="676.1" stroke="#fff" stroke-width="1"/>
<line x1="1777.9" y1="706" x2="1783.9" y2="706" stroke="#fff" stroke-width="1"/>
<line x1="1803.6" y1="706" x2="1809.6" y2="706" stroke="#fff" stroke-width="1"/>
<text x="1819.5" y="591.7" font-size="19.1">High</text>
<text x="1819.5" y="741.3" font-size="19.1">Low</text>
<text x="1834" y="658" font-size="19" text-anchor="middle" transform="rotate(-90 1834 658)">Expression</text>
<text x="3" y="1163" font-size="38" font-weight="bold">f</text>
<text x="419.3" y="1154.2" font-size="25.4" text-anchor="middle" font-weight="bold">Cluster by all genes</text>
<path d="M405.8 1523.7L500.2 1544.6M405.8 1523.7L362.2 1544.6M405.8 1523.7L396.1 1475.3M396.1 1475.3L373.8 1431.7M396.1 1475.3L405.8 1429.3M373.8 1431.7L344.8 1394M373.8 1431.7L363.2 1385.7M362.2 1544.6L314.8 1533.4M362.2 1544.6L331.7 1582.8M314.8 1533.4L271.2 1512.6M314.8 1533.4L266.3 1533.4M331.7 1582.8L288.1 1603.6M331.7 1582.8L309.9 1627.8M309.9 1627.8L280.9 1664.2M309.9 1627.8L301.2 1673.8M500.2 1544.6L547.2 1534.4M500.2 1544.6L523 1590.6M547.2 1534.4L587.4 1502.9M547.2 1534.4L597.1 1544.6M587.4 1502.9L615 1468M587.4 1502.9L629.5 1486.4M597.1 1544.6L641.6 1544.6M597.1 1544.6L638.3 1565.9M523 1590.6L551.1 1626.9M523 1590.6L532.7 1636.6" stroke="#000" stroke-width="2.4" fill="none" stroke-linecap="round"/>
<text x="208.7" y="1240.5" font-size="22" font-weight="bold" transform="rotate(52.4 208.7 1240.5)">CtrlF, Mitotic FGC</text>
<text x="315.6" y="1201" font-size="22" font-weight="bold" transform="rotate(77.1 315.6 1201)">CtrlM, Early FGC</text>
<text x="435.4" y="1271.4" font-size="22" font-weight="bold" transform="rotate(103.1 435.4 1271.4)">KS, Early FGC</text>
<text x="108.2" y="1443.5" font-size="22" font-weight="bold" transform="rotate(25.3 108.2 1443.5)">CtrlM, Late FGC</text>
<text x="76.9" y="1714.6" font-size="22" font-weight="bold" transform="rotate(-26.1 76.9 1714.6)">CtrlF, Oogenesis FGC</text>
<text x="107.9" y="1888" font-size="22" font-weight="bold" transform="rotate(-50.7 107.9 1888)">CtrlF, RA responsive FGC</text>
<text x="263.5" y="1884" font-size="22" font-weight="bold" transform="rotate(-76.7 263.5 1884)">CtrlF, Meiotic FGC</text>
<text x="621.4" y="1469.8" font-size="22" font-weight="bold" transform="rotate(-50 621.4 1469.8)">KS, SC</text>
<text x="633" y="1489.2" font-size="22" font-weight="bold" transform="rotate(-24.9 633 1489.2)">CtrlM, SC</text>
<text x="643.2" y="1576.9" font-size="22" font-weight="bold" transform="rotate(25.5 643.2 1576.9)">CtrlM, DLC</text>
<text x="545.5" y="1633.3" font-size="22" font-weight="bold" transform="rotate(47.5 545.5 1633.3)">KS, LP</text>
<text x="526.8" y="1645.8" font-size="22" font-weight="bold" transform="rotate(78.1 526.8 1645.8)">CtrlM, LP</text>
<text x="117.7" y="1542.2" font-size="22" font-weight="bold">KS, Late FGC</text>
<text x="652.6" y="1555.3" font-size="22" font-weight="bold">KS, DLC</text>
<text x="819" y="1335" font-size="38" font-weight="bold">g</text>
<text x="894.7" y="1350" font-size="20">Cell type</text>
<circle cx="907.9" cy="1383.9" r="8" fill="#58f03a"/>
<text x="947" y="1393" font-size="19">Early FGC</text>
<circle cx="908.7" cy="1433.8" r="8" fill="#e9de42"/>
<text x="948" y="1443" font-size="19">Late FGC</text>
<text x="1118.4" y="1350" font-size="20">Pseudotime</text>
<circle cx="1129.6" cy="1378.7" r="4" fill="#000"/>
<text x="1159.6" y="1385.7" font-size="19">0</text>
<circle cx="1216.3" cy="1378.7" r="8" fill="#000"/>
<text x="1245.5" y="1385.7" font-size="19">20</text>
<circle cx="1302.6" cy="1378.7" r="9.2" fill="#000"/>
<text x="1331.4" y="1385.7" font-size="19">40</text>
<circle cx="1129.6" cy="1434.6" r="6.4" fill="#000"/>
<text x="1159.6" y="1441.6" font-size="19">10</text>
<circle cx="1216.3" cy="1434.6" r="8.4" fill="#000"/>
<text x="1245.5" y="1441.6" font-size="19">30</text>
<circle cx="1302.6" cy="1434.6" r="9.6" fill="#000"/>
<text x="1331.4" y="1441.6" font-size="19">50</text>
<line x1="880" y1="1475.8" x2="880" y2="1899" stroke="#000" stroke-width="2.3"/>
<line x1="879" y1="1898" x2="1435.5" y2="1898" stroke="#000" stroke-width="2.3"/>
<line x1="925.8" y1="1898" x2="925.8" y2="1904" stroke="#000" stroke-width="2.8"/>
<text x="925.8" y="1923" font-size="18.5" text-anchor="middle" fill="#4d4d4d">−20</text>
<line x1="1027.7" y1="1898" x2="1027.7" y2="1904" stroke="#000" stroke-width="2.8"/>
<text x="1027.7" y="1923" font-size="18.5" text-anchor="middle" fill="#4d4d4d">−10</text>
<line x1="1129.6" y1="1898" x2="1129.6" y2="1904" stroke="#000" stroke-width="2.8"/>
<text x="1129.6" y="1923" font-size="18.5" text-anchor="middle" fill="#4d4d4d">0</text>
<line x1="1231.5" y1="1898" x2="1231.5" y2="1904" stroke="#000" stroke-width="2.8"/>
<text x="1231.5" y="1923" font-size="18.5" text-anchor="middle" fill="#4d4d4d">10</text>
<line x1="1333.4" y1="1898" x2="1333.4" y2="1904" stroke="#000" stroke-width="2.8"/>
<text x="1333.4" y="1923" font-size="18.5" text-anchor="middle" fill="#4d4d4d">20</text>
<line x1="1435.3" y1="1898" x2="1435.3" y2="1904" stroke="#000" stroke-width="2.8"/>
<text x="1435.3" y="1923" font-size="18.5" text-anchor="middle" fill="#4d4d4d">30</text>
<line x1="874" y1="1573.1" x2="880" y2="1573.1" stroke="#000" stroke-width="2.8"/>
<text x="868" y="1579.6" font-size="18.5" text-anchor="end" fill="#4d4d4d">4</text>
<line x1="874" y1="1680.7" x2="880" y2="1680.7" stroke="#000" stroke-width="2.8"/>
<text x="868" y="1687.2" font-size="18.5" text-anchor="end" fill="#4d4d4d">0</text>
<line x1="874" y1="1788.3" x2="880" y2="1788.3" stroke="#000" stroke-width="2.8"/>
<text x="868" y="1794.8" font-size="18.5" text-anchor="end" fill="#4d4d4d">−4</text>
<line x1="874" y1="1895.9" x2="880" y2="1895.9" stroke="#000" stroke-width="2.8"/>
<text x="868" y="1902.4" font-size="18.5" text-anchor="end" fill="#4d4d4d">−8</text>
<text x="1161.6" y="1950.4" font-size="20.6" text-anchor="middle">Component 1</text>
<text x="835" y="1691.5" font-size="20.6" text-anchor="middle" transform="rotate(-90 835 1691.5)">Component 2</text>
<path d="M951.3 1766.8C954.7 1772.2 962.3 1788.7 971.7 1799.1C981 1809.4 996.3 1821.5 1007.3 1828.7C1018.4 1835.8 1028.9 1841 1037.9 1842.1C1046.9 1843.2 1052.8 1838.5 1061.3 1835.4C1069.8 1832.2 1079.2 1828.4 1088.8 1823.3C1098.5 1818.1 1107.5 1813.4 1119.4 1804.4C1131.3 1795.5 1146.8 1781.6 1160.2 1769.5C1173.6 1757.4 1188 1742.6 1199.9 1731.8C1211.8 1721 1221.6 1713.6 1231.5 1704.9C1241.4 1696.2 1248.8 1689.5 1259 1679.6C1269.2 1669.8 1279.9 1659 1292.6 1645.7C1305.4 1632.5 1324.4 1611.7 1335.4 1600C1346.5 1588.3 1352.4 1583 1358.9 1575.8C1365.3 1568.6 1371.6 1560.1 1374.2 1557" stroke="#000" stroke-width="4.5" fill="none" stroke-linejoin="round"/>
<path d="M922.1 1725.1h0M929.1 1756h0M900.5 1644.9h0M924.5 1702.9h0M919.1 1665h0M923.9 1691.9h0M920.1 1685.2h0M912.6 1671.1h0M922.5 1695.3h0M928.7 1703.5h0M932.6 1732h0M924.7 1726.9h0M918.3 1674.9h0M932.6 1729.7h0M917.6 1669.5h0M908.4 1635h0M907.1 1664.5h0M917.2 1690.4h0M909.9 1671.1h0M910.5 1655.8h0M925.7 1708.1h0M922.9 1692.5h0M910.9 1648.8h0M931.9 1694.9h0M932.5 1723.9h0M910.2 1681.2h0M910.8 1687.8h0M936.4 1704.7h0M907.8 1639.1h0M924.6 1686.8h0M919.5 1677.7h0M914.3 1659.7h0M926.1 1701.4h0M914.1 1656.3h0M918 1659h0M923.3 1706.5h0M910.5 1657.3h0M920.6 1694.2h0M929.8 1711.3h0M929.2 1697.6h0M913.5 1673.1h0M925.8 1684.2h0M926.3 1716.6h0M921.8 1702.3h0M919.7 1667.9h0M935.6 1728.6h0M918.8 1681.5h0M916.1 1702.7h0M918 1704.5h0M920.9 1724.9h0M915.8 1690.1h0M920.1 1710.9h0M920.1 1680.3h0M926.1 1691.8h0M912.2 1685.2h0M964.4 1815.4h0M943.1 1775.3h0M964.7 1768.1h0M943 1772.3h0M950.7 1789h0M955.6 1787.9h0M960.3 1799.5h0M966.1 1782.9h0M949.6 1771.2h0M961.6 1785.2h0M952.7 1759.2h0M936.1 1727.9h0M943.8 1738h0M944.6 1771h0M941.9 1746h0M948.8 1742.8h0M937.9 1749.3h0M931.3 1734.1h0M953.3 1752.4h0M966 1804.1h0M933.5 1749.7h0M947.1 1755.2h0M931.2 1744.1h0M932 1762.5h0M945.7 1751.9h0M947.8 1752.7h0M947.1 1749.7h0M945.5 1717.8h0M952.5 1748.2h0M933.6 1748.4h0M945.7 1779.7h0M928.6 1730.1h0M949.4 1708.1h0M941.1 1761.6h0M955.7 1794.6h0M936.5 1749.6h0M953.8 1757.9h0M951.8 1765.8h0M964.2 1788.9h0M934.6 1736.9h0M962.3 1780h0M960.5 1797.2h0M960 1777.1h0M948.7 1770.8h0M948.8 1735.5h0M930.3 1772.6h0M946.1 1754.6h0M957 1770.8h0M961.1 1774.6h0M949.4 1754.6h0M956.9 1806h0M934.2 1731.4h0M949.8 1772.4h0M953.4 1748.1h0M934.9 1752.7h0M940.3 1751.6h0M963.4 1787.9h0M937.5 1726.3h0M937.9 1763.8h0M934 1739.4h0M934.4 1743.1h0M938.6 1698.5h0M962.4 1773.5h0M934.9 1748.4h0M929.9 1675.3h0M950.3 1715.7h0M961.5 1750.6h0M906.4 1667.2h0M913.6 1643h0" stroke="#58f03a" stroke-width="14" stroke-linecap="round" fill="none"/>
<path d="M967 1837.5h0M970.3 1805.9h0M967.4 1760.6h0M976.4 1819.1h0M979.7 1808.1h0M979.2 1815.2h0M974.3 1813.8h0M971 1798.9h0M970 1789.4h0M971 1782.4h0M975.3 1781h0M968.4 1794.2h0M970.5 1787.1h0M969.9 1815.6h0M976.3 1811.9h0M970.5 1771.6h0M974.1 1811.7h0M967.8 1807.5h0M967.9 1795.5h0M973.2 1785.9h0M972 1830.7h0M989 1809.9h0M996.8 1826.4h0M1024.3 1872.7h0M1005.4 1848.1h0M1008.5 1852.1h0M1001.6 1831.3h0M995.3 1817.5h0M1006.2 1837.6h0M1008.8 1848.6h0M1001.6 1833.5h0M987.8 1811.3h0M1001.6 1838.1h0M992 1819h0M994.6 1813h0M981.3 1822.6h0M1032.4 1876.7h0M1007 1839h0M1016.5 1826.3h0M1022.4 1840.8h0M978.4 1811h0M1004.1 1835.7h0M993.4 1827.3h0M1021.2 1856.6h0M988 1854.4h0M1008.7 1829.3h0M982.1 1806.8h0M1005.5 1829.2h0M1034.4 1861.9h0M988.4 1807h0M1007.7 1839.4h0M994.6 1822.1h0M980.3 1804.2h0M996.3 1828h0M1037.7 1845.2h0M1000.1 1834.7h0M998.9 1819h0M1028.2 1872.7h0M993.6 1823.2h0M1003.8 1843.1h0M1013.9 1873.2h0M990.1 1821.3h0M992.4 1817.7h0M982.9 1843.8h0M996.7 1825.5h0M994.5 1819.2h0M1012.1 1836.8h0M1021.5 1844.6h0M993.3 1823.9h0M1000.5 1813.8h0M1014.3 1852.5h0M1020.3 1856.5h0M1022.4 1878.4h0M1020.5 1858.6h0M1025.2 1847.6h0M981.9 1809h0M1017.8 1841.4h0M1022.8 1851.2h0M981.8 1808.3h0M1033.3 1860.3h0M988.3 1820.3h0M1001 1828.9h0M1027.1 1859h0M1011.5 1820.8h0M1009.1 1844.6h0M981.2 1793.4h0M1001.9 1830.4h0M1027.1 1856.8h0M1034.9 1863.1h0M1025.7 1850.3h0M1040.5 1856.3h0M1008.5 1846.3h0M989.6 1816.2h0M1008 1823.4h0M990.1 1818.1h0M1040 1878.4h0M1013.2 1839.1h0M1026.8 1853h0M991.1 1810.5h0M1033.5 1833.6h0M994.1 1854.5h0M1015.8 1856.1h0M973.3 1817h0M986 1816.1h0M977.3 1804.2h0M1005 1850h0M1039.6 1878.4h0M1017.3 1861.5h0M1022.9 1838h0M1015.8 1847.8h0M984 1812.2h0M1012.5 1863h0M997.7 1833.9h0M1025.1 1838.1h0M1024 1853.5h0M1021.4 1865.4h0M1015.1 1827.5h0M1032.1 1819.8h0M1009.8 1839.4h0M1002.5 1815.4h0M1035.3 1866.3h0M1004 1819.9h0M1009.9 1853.2h0M1031.6 1844.6h0M988.4 1847.4h0M983.5 1839.9h0M994.1 1818.8h0M1031.1 1868.2h0M998.9 1826.8h0M1031.3 1846.2h0M1015.7 1844.7h0M981.6 1805.1h0M1014.4 1834.8h0M1010.3 1858.8h0M1024.6 1842.7h0M1030.4 1856.5h0M1024.5 1878.4h0M988.8 1850h0M1007.5 1831.8h0M987.8 1818.1h0M1018.5 1829.5h0M1024 1871.1h0M1027.2 1863.3h0M1016.4 1845.2h0M985 1816.3h0M995.2 1827.1h0M1024.9 1842.3h0M1008.9 1835.3h0M1010 1828h0M1014.2 1845.4h0M981.5 1840h0M1053.8 1851.2h0M1053.6 1878.4h0M1054.6 1845.7h0M1070.7 1871.5h0M1048.7 1840.4h0M1064.4 1854.1h0M1048.3 1865.1h0M1052.9 1852.9h0M1080.4 1856.1h0M1082.9 1847.4h0M1079.8 1854.2h0M1056.5 1858.8h0M1056.4 1848.9h0M1041.8 1830.9h0M1057 1858h0M1054.7 1865.8h0M1063.8 1854.2h0M1070.2 1848.8h0M1076.9 1867.5h0M1044.2 1860.1h0M1060.5 1875.3h0M1072.4 1822.6h0M1073.8 1859.8h0M1067.2 1840h0M1084.1 1840.5h0M1048.1 1858.8h0M1069.6 1851.3h0M1061.3 1853.4h0M1080.4 1859.2h0M1042 1878.4h0M1066.7 1850.5h0M1080.7 1854.9h0M1044.4 1857.5h0M1069.1 1840.5h0M1037.4 1865.8h0M1071.2 1852.9h0M1065.5 1848.5h0M1053.6 1873.9h0M1047 1865h0M1062.7 1864.2h0M1059.9 1859.9h0M1070.4 1848.3h0M1066.1 1861h0M1063.5 1855.4h0M1056 1858.5h0M1055 1878.4h0M1050.6 1863.2h0M1088.6 1864.7h0M1054.9 1836.1h0M1037.2 1856.5h0M1057.3 1840.2h0M1046.7 1867.7h0M1042.3 1850.8h0M1064.6 1844.7h0M1042.8 1857.2h0M1046.6 1864h0M1051.5 1878.4h0M1051.7 1875.7h0M1054.3 1866h0M1052.1 1869.9h0M1079.7 1848.1h0M1040 1878.4h0M1043.3 1857.5h0M1061.1 1860.8h0M1068.1 1844.3h0M1064.4 1862.6h0M1082.2 1850.6h0M1070.1 1853.8h0M1055.6 1878.4h0M1074.5 1848.5h0M1079.9 1840.6h0M1049.7 1860.2h0M1066.8 1858h0M1060.3 1851.6h0M1051.7 1863.5h0M1041.3 1858.7h0M1054.5 1871.2h0M1048 1851h0M1066 1851.1h0M1081 1846.3h0M1054.8 1864.2h0M1061.9 1868.4h0M1075 1863.8h0M1042.7 1851.1h0M1078.3 1837.1h0M1068.6 1858.4h0M1072.5 1850.5h0M1068.9 1870.1h0M1042.8 1865.2h0M1066.7 1866.1h0M1056 1854.5h0M1040.3 1875.1h0M1079.9 1850.3h0M1050.7 1869.1h0M1077.7 1854.2h0M1096.6 1842.6h0M1100.7 1837.6h0M1105.5 1855.9h0M1101.8 1832.2h0M1086.1 1851h0M1111.1 1840.4h0M1085 1857.7h0M1097.7 1831.1h0M1108.9 1826.3h0M1109.5 1818.3h0M1100.5 1840.6h0M1109.5 1834.8h0M1108.9 1844.3h0M1092.4 1856.6h0M1098.3 1861h0M1089.1 1831.7h0M1113.6 1815.5h0M1088.4 1845h0M1093.4 1861.2h0M1088.3 1854.5h0M1101.5 1831.6h0M1085.1 1856.8h0M1105.2 1826.3h0M1097.7 1840.3h0M1111.4 1827.2h0M1112.5 1829.2h0M1097.8 1846.3h0M1104 1861.3h0M1086 1855.1h0M1108.3 1849.6h0M1108.2 1849h0M1101.8 1841.3h0M1103 1849.3h0M1103.7 1844h0M1107.8 1843.2h0M1129.3 1827.5h0M1125.8 1835.7h0M1123.5 1846.9h0M1124.9 1836.8h0M1126.7 1830h0M1132 1842.1h0M1126.1 1810.8h0M1121.9 1841.7h0M1127.5 1833.2h0M1123.1 1837h0M1120.7 1831.5h0M1114.7 1829.5h0M1135.6 1823.2h0M1116.4 1853.6h0M1135.3 1841.7h0M1124.5 1785.6h0M1129.6 1793.7h0M1127.6 1804.4h0M1142.8 1807.1h0M1145.9 1820.6h0M1137.8 1831.3h0M1123.5 1839.4h0M1155.1 1801.8h0M1150 1793.7h0M1184.6 1769.5h0M1201.9 1760.1h0M1192.8 1723.7h0M971.7 1769.5h0M986.9 1772.2h0M1034.8 1878.4h0M1117.4 1826h0M1122.5 1850.2h0M1131.6 1842.1h0M1141.8 1844.8h0" stroke="#58f03a" stroke-width="15.5" stroke-linecap="round" fill="none"/>
<path d="M1172.4 1748h0M1178.5 1737.2h0M1198.9 1739.9h0M1212.1 1729.1h0M1222.3 1726.4h0M1204 1713h0M1240.7 1702.2h0M1186.7 1750.6h0M1207 1742.6h0M1222.3 1673.4h0M1237.6 1659.2h0M1271.2 1605.4h0M1359.9 1538.1h0M966.6 1737.2h0M1156.1 1785.6h0M1164.2 1784.3h0M1297.1 1637.2h0M1307.8 1630.1h0M1264.6 1677.3h0M1273.4 1675.6h0M1275.2 1676.1h0M1279 1665.4h0M1297.9 1660.8h0M1308.4 1645.5h0M1265.6 1660.1h0M1280.4 1659.8h0M1300.4 1645.3h0M1306.2 1645.8h0M1300.1 1636.2h0M1309.8 1640.2h0M1278.2 1647h0M1293.5 1635.6h0M1297 1658h0M1263.9 1664h0M1267.7 1645.8h0M1285.6 1637.8h0M1275 1675.9h0M1290.1 1662.2h0M1261 1666h0M1278.8 1675.3h0M1312.4 1638.1h0M1256.9 1673h0M1289.9 1642h0M1282.1 1639.6h0M1280.4 1633.7h0M1290.3 1653.3h0M1262.7 1658.9h0M1279.7 1638.6h0M1266.4 1665.6h0M1285.8 1669.5h0M1293.9 1650.3h0M1277.6 1664.3h0M1306 1640.9h0M1271.4 1646.1h0M1259.7 1654.2h0M1309.8 1648.2h0M1296.9 1623.1h0M1315.4 1596.6h0M1317.6 1596.3h0M1306.7 1608.4h0M1310.8 1612.8h0M1298.4 1600.9h0M1300.2 1614.6h0M1322.5 1590.2h0M1328.7 1569.8h0M1315.3 1604.6h0M1306 1606h0M1326.8 1584.5h0M1318.4 1609.7h0M1313.1 1613.2h0M1312 1602.3h0M1315.6 1608.5h0M1309.2 1614.1h0M1301.1 1610.6h0M1302.1 1612.2h0M1332.7 1578.8h0M1320.7 1580.4h0M1297.8 1621h0M1309.4 1618.7h0M1331.5 1593.9h0M1330.8 1573.6h0M1348.8 1562.2h0M1364.7 1542.2h0M1369.8 1552.3h0M1366.5 1551.3h0M1362.1 1560.3h0M1348.7 1554.4h0M1367 1547h0M1356.5 1551.5h0M1386.4 1558h0M1389.4 1526h0M1358.9 1564.8h0M1422.3 1503.4h0M1358 1575.9h0M1376.8 1562.3h0M1360.2 1577.3h0M1417.7 1498.2h0M1367.2 1559.8h0M1360.2 1570.1h0M1404.2 1535.7h0M1413 1496.5h0M1404.9 1509.6h0M1417.1 1528.5h0M1363.9 1580.5h0M1372.4 1549.1h0M1412.1 1508.1h0M1395.7 1554.1h0M1382.2 1554.7h0M1398.5 1496.1h0M1395.1 1564.4h0M1371.2 1566.9h0M1400.5 1525.6h0M1403.2 1509.4h0M1398.1 1514h0M1361.1 1568.9h0M1387.1 1529.8h0M1396.5 1517.8h0M1376.8 1558.8h0M1387.5 1523.8h0M1385.8 1528.2h0M1368.9 1578.1h0M1389.4 1557.1h0M1371.2 1558.6h0M1416 1541.1h0M1388.4 1573h0M1400.7 1510.7h0M1387.9 1530.7h0M1407.6 1485.1h0M1389.8 1517.1h0M1397.1 1516.2h0M1418.1 1512.1h0M1403.5 1512.5h0M1388.9 1532.2h0M1404.4 1505.9h0M1385.6 1527.5h0M1403.8 1485.1h0M1399.7 1530.4h0M1408.9 1495.6h0M1397.2 1513.1h0M1420.3 1501.8h0M1419.4 1506.9h0M1391.6 1516.5h0M1398.7 1495h0M1403.9 1483.5h0M1389 1535.5h0M1400 1528h0M1358.7 1568.5h0M1387.9 1553.4h0M1373.2 1549.6h0M1365.8 1555h0M1407.5 1486.6h0M1379.6 1562h0M1391 1559.9h0M1407.3 1530.1h0M1405.4 1500.9h0M1376.3 1580.2h0M1384.5 1532.5h0M1386.3 1555.4h0M1362.8 1563.3h0M1391 1515.9h0M1401 1532.4h0M1380.5 1573.2h0M1357.8 1576.1h0M1401.2 1552.5h0M1371.5 1555.1h0M1389 1566.4h0M1413.1 1536.6h0M1360.4 1580h0M1415.7 1526.3h0M1418.8 1516.9h0M1412.1 1524.6h0M1369.9 1563.7h0M1416 1491.1h0M1414 1536.7h0M1418 1498h0M1418.7 1510h0M1360.7 1558.8h0M1399.9 1490.3h0M1379.2 1551.6h0M1367.3 1564.7h0M1390.5 1548.6h0M1373.8 1544.3h0M1419.5 1524.2h0M1406.4 1487.6h0M1362.2 1567.9h0M1405.5 1507.2h0M1397.2 1537.4h0M1404.4 1542.6h0M1368.9 1565.3h0M1363.4 1585.2h0M1379.3 1544.3h0M1388.9 1570.7h0M1415.3 1488.1h0M1379.9 1556.8h0M1389.7 1536.1h0M1401.6 1537.7h0M1409.1 1487.9h0M1397.6 1525h0M1408.9 1511.7h0M1402 1553.4h0M1379.9 1541.7h0M1401.3 1490.4h0M1394.9 1519.1h0M1396.8 1511.9h0M1405.4 1554.1h0M1373.7 1553.2h0M1387.5 1528h0M1399.9 1560.7h0M1360.9 1577.3h0M1395 1524h0M1413.2 1481.7h0M1389.2 1543.3h0M1387.5 1548.7h0M1406.9 1526.6h0M1392.6 1525.1h0M1379.3 1575.2h0M1410.7 1507.8h0M1407.2 1547.1h0M1409 1525.1h0M1405 1541.8h0M1394.8 1556.3h0M1396.7 1490.1h0M1396.4 1534.8h0M1399.6 1520.8h0M1383.3 1560.2h0M1401.7 1547.1h0M1358.3 1570.7h0M1399.9 1535.8h0M1401.5 1542.8h0" stroke="#e9de42" stroke-width="18" stroke-linecap="round" fill="none"/>
<text x="1505.5" y="1335.8" font-size="38" font-weight="bold">h</text>
<rect x="1576.3" y="1343.3" width="29.2" height="28.7" fill="#62c544"/>
<text x="1614.5" y="1362.5" font-size="19.3">Early FGC</text>
<rect x="1735.8" y="1343.3" width="28.7" height="28.7" fill="#e2d645"/>
<text x="1773.3" y="1362.5" font-size="19.3">Late FGC</text>
<line x1="1600.8" y1="1392.5" x2="1600.8" y2="1768.7" stroke="#000" stroke-width="3"/>
<line x1="1599.3" y1="1767.2" x2="1827" y2="1767.2" stroke="#000" stroke-width="3"/>
<line x1="1594.8" y1="1750.5" x2="1600.8" y2="1750.5" stroke="#000" stroke-width="2.5"/>
<text x="1589" y="1757.3" font-size="19" text-anchor="end">0</text>
<line x1="1594.8" y1="1665" x2="1600.8" y2="1665" stroke="#000" stroke-width="2.5"/>
<text x="1589" y="1671.8" font-size="19" text-anchor="end">25</text>
<line x1="1594.8" y1="1579.4" x2="1600.8" y2="1579.4" stroke="#000" stroke-width="2.5"/>
<text x="1589" y="1586.2" font-size="19" text-anchor="end">50</text>
<line x1="1594.8" y1="1493.8" x2="1600.8" y2="1493.8" stroke="#000" stroke-width="2.5"/>
<text x="1589" y="1500.6" font-size="19" text-anchor="end">75</text>
<line x1="1594.8" y1="1408.3" x2="1600.8" y2="1408.3" stroke="#000" stroke-width="2.5"/>
<text x="1589" y="1415.1" font-size="19" text-anchor="end">100</text>
<rect x="1623.8" y="1408.3" width="73.7" height="215.6" fill="#e2d645"/>
<rect x="1623.8" y="1623.9" width="73.7" height="126.6" fill="#62c544"/>
<line x1="1660.7" y1="1767.2" x2="1660.7" y2="1773.2" stroke="#000" stroke-width="2.5"/>
<rect x="1733.8" y="1408.3" width="73.7" height="60.2" fill="#e2d645"/>
<rect x="1733.8" y="1468.5" width="73.7" height="282" fill="#62c544"/>
<line x1="1770.7" y1="1767.2" x2="1770.7" y2="1773.2" stroke="#000" stroke-width="2.5"/>
<text x="1669.5" y="1790.5" font-size="22.5" text-anchor="end" transform="rotate(-45 1669.5 1790.5)">CtrlM</text>
<text x="1783" y="1790.5" font-size="22.5" text-anchor="end" transform="rotate(-45 1783 1790.5)">KS</text>
<text x="1538" y="1583.8" font-size="22.3" text-anchor="middle" transform="rotate(-90 1538 1583.8)">Percentage (%)</text>
<text x="2.5" y="1989" font-size="38" font-weight="bold">i</text>
<text x="244.5" y="2017" font-size="20.5" text-anchor="middle" font-weight="bold">Early FGC</text>
<text x="593.5" y="2017" font-size="20.5" text-anchor="middle" font-weight="bold">Late FGC</text>
<line x1="84.7" y1="2219.3" x2="394.7" y2="2219.3" stroke="#000" stroke-width="2"/>
<rect x="84.7" y="2216.3" width="7.8" height="3" fill="#8edad4" stroke="#111" stroke-width="1.6"/>
<rect x="92.5" y="2216.3" width="7.8" height="3" fill="#8edad4" stroke="#111" stroke-width="1.6"/>
<rect x="100.2" y="2207.5" width="7.7" height="11.8" fill="#8edad4" stroke="#111" stroke-width="1.6"/>
<rect x="108" y="2198.6" width="7.8" height="20.7" fill="#8edad4" stroke="#111" stroke-width="1.6"/>
<rect x="115.7" y="2189.7" width="7.8" height="29.6" fill="#8edad4" stroke="#111" stroke-width="1.6"/>
<rect x="123.5" y="2151.2" width="7.7" height="68.1" fill="#8edad4" stroke="#111" stroke-width="1.6"/>
<rect x="131.2" y="2121.6" width="7.8" height="97.7" fill="#8edad4" stroke="#111" stroke-width="1.6"/>
<rect x="139" y="2124.6" width="7.8" height="94.7" fill="#8edad4" stroke="#111" stroke-width="1.6"/>
<rect x="146.7" y="2112.7" width="7.8" height="106.6" fill="#8edad4" stroke="#111" stroke-width="1.6"/>
<rect x="154.5" y="2136.4" width="7.8" height="82.9" fill="#8edad4" stroke="#111" stroke-width="1.6"/>
<rect x="162.2" y="2148.3" width="7.7" height="71" fill="#8edad4" stroke="#111" stroke-width="1.6"/>
<rect x="170" y="2177.9" width="7.8" height="41.4" fill="#8edad4" stroke="#111" stroke-width="1.6"/>
<rect x="177.7" y="2201.5" width="7.8" height="17.8" fill="#8edad4" stroke="#111" stroke-width="1.6"/>
<rect x="185.5" y="2216.3" width="7.7" height="3" fill="#8edad4" stroke="#111" stroke-width="1.6"/>
<rect x="193.2" y="2210.4" width="7.8" height="8.9" fill="#8edad4" stroke="#111" stroke-width="1.6"/>
<rect x="201" y="2210.4" width="7.8" height="8.9" fill="#8edad4" stroke="#111" stroke-width="1.6"/>
<path d="M86 2222.3v5M97.8 2222.3v5M105.1 2222.3v5M103.9 2222.3v5M101.9 2222.3v5M106.4 2222.3v5M114.2 2222.3v5M111.9 2222.3v5M111.9 2222.3v5M109.8 2222.3v5M108 2222.3v5M110.9 2222.3v5M112.5 2222.3v5M116.3 2222.3v5M121.9 2222.3v5M117.5 2222.3v5M117.5 2222.3v5M116.1 2222.3v5M123.5 2222.3v5M121.4 2222.3v5M122.5 2222.3v5M120.5 2222.3v5M116 2222.3v5M126 2222.3v5M127.3 2222.3v5M124.4 2222.3v5M130.9 2222.3v5M126.3 2222.3v5M124.7 2222.3v5M129.8 2222.3v5M124.4 2222.3v5M130.7 2222.3v5M127 2222.3v5M127.8 2222.3v5M126.1 2222.3v5M127.2 2222.3v5M124.9 2222.3v5M123.8 2222.3v5M130.2 2222.3v5M125.3 2222.3v5M129.5 2222.3v5M125.1 2222.3v5M131 2222.3v5M130.4 2222.3v5M129.3 2222.3v5M129.4 2222.3v5M135.7 2222.3v5M136.9 2222.3v5M132.2 2222.3v5M134.9 2222.3v5M137.6 2222.3v5M132.8 2222.3v5M138.4 2222.3v5M138.1 2222.3v5M134.4 2222.3v5M134.1 2222.3v5M134.7 2222.3v5M134.2 2222.3v5M138.9 2222.3v5M134.2 2222.3v5M131.4 2222.3v5M131.9 2222.3v5M136.8 2222.3v5M138.9 2222.3v5M135.1 2222.3v5M135 2222.3v5M135.5 2222.3v5M137 2222.3v5M132.9 2222.3v5M135.9 2222.3v5M135.5 2222.3v5M136.1 2222.3v5M132.6 2222.3v5M132.5 2222.3v5M133.9 2222.3v5M138.4 2222.3v5M133.9 2222.3v5M135.9 2222.3v5M133.6 2222.3v5M139.8 2222.3v5M139.5 2222.3v5M145.3 2222.3v5M145 2222.3v5M141.9 2222.3v5M144.3 2222.3v5M144.2 2222.3v5M145.9 2222.3v5M146.4 2222.3v5M142.1 2222.3v5M146.6 2222.3v5M146.4 2222.3v5M143.6 2222.3v5M145.8 2222.3v5M142.8 2222.3v5M141.9 2222.3v5M140.9 2222.3v5M145.8 2222.3v5M140.2 2222.3v5M139.5 2222.3v5M145.2 2222.3v5M145 2222.3v5M142.7 2222.3v5M145.5 2222.3v5M139.4 2222.3v5M141 2222.3v5M141.2 2222.3v5M142.2 2222.3v5M140.3 2222.3v5M139.5 2222.3v5M141.6 2222.3v5M145.9 2222.3v5M154.3 2222.3v5M152.5 2222.3v5M150.4 2222.3v5M148.7 2222.3v5M154.2 2222.3v5M150.8 2222.3v5M152.4 2222.3v5M146.9 2222.3v5M148.4 2222.3v5M153.2 2222.3v5M152.9 2222.3v5M153.6 2222.3v5M151.4 2222.3v5M150 2222.3v5M151.2 2222.3v5M153.3 2222.3v5M149.1 2222.3v5M150.9 2222.3v5M148.9 2222.3v5M152.7 2222.3v5M146.8 2222.3v5M152 2222.3v5M154.1 2222.3v5M146.9 2222.3v5M151.3 2222.3v5M151.7 2222.3v5M153.3 2222.3v5M151.3 2222.3v5M148.7 2222.3v5M149.9 2222.3v5M154.2 2222.3v5M153.7 2222.3v5M147.8 2222.3v5M147.5 2222.3v5M147.5 2222.3v5M146.9 2222.3v5M157.9 2222.3v5M155.6 2222.3v5M161.2 2222.3v5M159.6 2222.3v5M155.5 2222.3v5M158.6 2222.3v5M157 2222.3v5M158.3 2222.3v5M156.2 2222.3v5M155.8 2222.3v5M155.9 2222.3v5M157.4 2222.3v5M160 2222.3v5M158.7 2222.3v5M154.8 2222.3v5M160 2222.3v5M161.2 2222.3v5M160.5 2222.3v5M160.6 2222.3v5M154.5 2222.3v5M158.1 2222.3v5M155 2222.3v5M160.4 2222.3v5M155.8 2222.3v5M160 2222.3v5M156.4 2222.3v5M159.9 2222.3v5M156.9 2222.3v5M162.5 2222.3v5M165.2 2222.3v5M164.6 2222.3v5M169.2 2222.3v5M164.5 2222.3v5M166.1 2222.3v5M166.5 2222.3v5M169.6 2222.3v5M163 2222.3v5M166.9 2222.3v5M166.2 2222.3v5M167.9 2222.3v5M169.7 2222.3v5M164.6 2222.3v5M167.6 2222.3v5M166.3 2222.3v5M166.6 2222.3v5M162.7 2222.3v5M168.5 2222.3v5M169.8 2222.3v5M165 2222.3v5M164.7 2222.3v5M169.9 2222.3v5M163.1 2222.3v5M170.6 2222.3v5M170.5 2222.3v5M176.3 2222.3v5M175.9 2222.3v5M173.4 2222.3v5M174.8 2222.3v5M170.1 2222.3v5M175 2222.3v5M173.4 2222.3v5M174 2222.3v5M173 2222.3v5M173.1 2222.3v5M171.7 2222.3v5M170.4 2222.3v5M181.1 2222.3v5M179.6 2222.3v5M183.2 2222.3v5M184.1 2222.3v5M183.3 2222.3v5M181.3 2222.3v5M187.3 2222.3v5M196.2 2222.3v5M197 2222.3v5M198.1 2222.3v5M208.4 2222.3v5M201.6 2222.3v5M204.7 2222.3v5" stroke="#2fa8a0" stroke-width="1" opacity="0.6"/>
<line x1="146.7" y1="2025" x2="146.7" y2="2219.3" stroke="#2fa8a0" stroke-width="1.8" stroke-dasharray="6 4"/>
<rect x="69.2" y="2024" width="341.5" height="204" fill="none" stroke="#333" stroke-width="1.5"/>
<line x1="64.2" y1="2219.3" x2="69.2" y2="2219.3" stroke="#000" stroke-width="1.5"/>
<text x="62" y="2226.1" font-size="19" text-anchor="end">0</text>
<line x1="64.2" y1="2160.1" x2="69.2" y2="2160.1" stroke="#000" stroke-width="1.5"/>
<text x="62" y="2166.9" font-size="19" text-anchor="end">20</text>
<line x1="64.2" y1="2100.9" x2="69.2" y2="2100.9" stroke="#000" stroke-width="1.5"/>
<text x="62" y="2107.7" font-size="19" text-anchor="end">40</text>
<line x1="64.2" y1="2041.7" x2="69.2" y2="2041.7" stroke="#000" stroke-width="1.5"/>
<text x="62" y="2048.5" font-size="19" text-anchor="end">60</text>
<line x1="434.8" y1="2219.3" x2="744.8" y2="2219.3" stroke="#000" stroke-width="2"/>
<rect x="450.3" y="2213.4" width="7.8" height="5.9" fill="#8edad4" stroke="#111" stroke-width="1.6"/>
<rect x="458.1" y="2204.5" width="7.8" height="14.8" fill="#8edad4" stroke="#111" stroke-width="1.6"/>
<rect x="465.8" y="2189.7" width="7.8" height="29.6" fill="#8edad4" stroke="#111" stroke-width="1.6"/>
<rect x="473.6" y="2127.5" width="7.8" height="91.8" fill="#8edad4" stroke="#111" stroke-width="1.6"/>
<rect x="481.3" y="2089.1" width="7.8" height="130.2" fill="#8edad4" stroke="#111" stroke-width="1.6"/>
<rect x="489.1" y="2047.6" width="7.8" height="171.7" fill="#8edad4" stroke="#111" stroke-width="1.6"/>
<rect x="496.8" y="2083.1" width="7.8" height="136.2" fill="#8edad4" stroke="#111" stroke-width="1.6"/>
<rect x="504.6" y="2032.8" width="7.8" height="186.5" fill="#8edad4" stroke="#111" stroke-width="1.6"/>
<rect x="512.3" y="2071.3" width="7.8" height="148" fill="#8edad4" stroke="#111" stroke-width="1.6"/>
<rect x="520.1" y="2124.6" width="7.7" height="94.7" fill="#8edad4" stroke="#111" stroke-width="1.6"/>
<rect x="527.8" y="2157.1" width="7.8" height="62.2" fill="#8edad4" stroke="#111" stroke-width="1.6"/>
<rect x="535.6" y="2198.6" width="7.8" height="20.7" fill="#8edad4" stroke="#111" stroke-width="1.6"/>
<rect x="543.3" y="2201.5" width="7.8" height="17.8" fill="#8edad4" stroke="#111" stroke-width="1.6"/>
<rect x="551.1" y="2213.4" width="7.8" height="5.9" fill="#8edad4" stroke="#111" stroke-width="1.6"/>
<rect x="558.8" y="2216.3" width="7.8" height="3" fill="#8edad4" stroke="#111" stroke-width="1.6"/>
<path d="M454.1 2222.3v5M455.9 2222.3v5M465 2222.3v5M464.1 2222.3v5M462.9 2222.3v5M464 2222.3v5M463.3 2222.3v5M472.5 2222.3v5M471.2 2222.3v5M471.1 2222.3v5M467.7 2222.3v5M472.9 2222.3v5M468.8 2222.3v5M470.6 2222.3v5M472.2 2222.3v5M473.3 2222.3v5M473.5 2222.3v5M473.6 2222.3v5M476 2222.3v5M476 2222.3v5M476.6 2222.3v5M474.7 2222.3v5M477.9 2222.3v5M474.2 2222.3v5M475.9 2222.3v5M480.9 2222.3v5M479.3 2222.3v5M477.2 2222.3v5M474.4 2222.3v5M481 2222.3v5M479 2222.3v5M475.2 2222.3v5M476.2 2222.3v5M478.5 2222.3v5M478.9 2222.3v5M475.6 2222.3v5M480.9 2222.3v5M476.1 2222.3v5M475.5 2222.3v5M480.1 2222.3v5M474.8 2222.3v5M478.9 2222.3v5M475.1 2222.3v5M478.2 2222.3v5M475.7 2222.3v5M476.5 2222.3v5M480.9 2222.3v5M477.2 2222.3v5M484.7 2222.3v5M486.1 2222.3v5M483.5 2222.3v5M482.7 2222.3v5M484.3 2222.3v5M483.4 2222.3v5M482.8 2222.3v5M488.8 2222.3v5M481.6 2222.3v5M487.6 2222.3v5M488.6 2222.3v5M486.8 2222.3v5M481.5 2222.3v5M485.2 2222.3v5M481.6 2222.3v5M486 2222.3v5M486.8 2222.3v5M483.2 2222.3v5M481.4 2222.3v5M485.5 2222.3v5M482.1 2222.3v5M483.7 2222.3v5M484.8 2222.3v5M488.3 2222.3v5M484.2 2222.3v5M482.4 2222.3v5M487.5 2222.3v5M487.7 2222.3v5M485.4 2222.3v5M481.7 2222.3v5M482.8 2222.3v5M484.4 2222.3v5M485.6 2222.3v5M483.1 2222.3v5M487.5 2222.3v5M487.9 2222.3v5M488.5 2222.3v5M488.2 2222.3v5M481.5 2222.3v5M485.8 2222.3v5M481.9 2222.3v5M488.3 2222.3v5M487.1 2222.3v5M487.2 2222.3v5M490.5 2222.3v5M489.5 2222.3v5M495.4 2222.3v5M493.8 2222.3v5M493.9 2222.3v5M492.7 2222.3v5M495.3 2222.3v5M491.7 2222.3v5M491.2 2222.3v5M491.8 2222.3v5M491.4 2222.3v5M493.9 2222.3v5M496 2222.3v5M489.6 2222.3v5M489.6 2222.3v5M493 2222.3v5M494.3 2222.3v5M490.5 2222.3v5M491.2 2222.3v5M489.5 2222.3v5M489.4 2222.3v5M492.9 2222.3v5M494.4 2222.3v5M494.1 2222.3v5M490.3 2222.3v5M489.9 2222.3v5M496.3 2222.3v5M493.2 2222.3v5M492.2 2222.3v5M494.4 2222.3v5M494.7 2222.3v5M493.1 2222.3v5M489.7 2222.3v5M495.5 2222.3v5M490.7 2222.3v5M489.4 2222.3v5M491.8 2222.3v5M493.2 2222.3v5M493.9 2222.3v5M490.4 2222.3v5M494.6 2222.3v5M492.9 2222.3v5M490.3 2222.3v5M495.7 2222.3v5M495.3 2222.3v5M496.1 2222.3v5M494.3 2222.3v5M490.8 2222.3v5M495.1 2222.3v5M496.1 2222.3v5M493.2 2222.3v5M496.1 2222.3v5M496.6 2222.3v5M492.1 2222.3v5M496.4 2222.3v5M496.3 2222.3v5M495.2 2222.3v5M489.2 2222.3v5M499.6 2222.3v5M501.6 2222.3v5M501.5 2222.3v5M502.7 2222.3v5M501.8 2222.3v5M498.1 2222.3v5M504 2222.3v5M501 2222.3v5M503.7 2222.3v5M498.4 2222.3v5M504.6 2222.3v5M501.1 2222.3v5M502.8 2222.3v5M502.6 2222.3v5M503.7 2222.3v5M499.6 2222.3v5M497.5 2222.3v5M500 2222.3v5M498.2 2222.3v5M501 2222.3v5M503.1 2222.3v5M499.6 2222.3v5M497.8 2222.3v5M497 2222.3v5M500.1 2222.3v5M501.3 2222.3v5M497 2222.3v5M502 2222.3v5M498.5 2222.3v5M497.7 2222.3v5M504 2222.3v5M500.9 2222.3v5M503.8 2222.3v5M500.8 2222.3v5M497.8 2222.3v5M498.7 2222.3v5M500.1 2222.3v5M501.8 2222.3v5M502.8 2222.3v5M502.6 2222.3v5M501.9 2222.3v5M498.8 2222.3v5M500.2 2222.3v5M499.8 2222.3v5M500.6 2222.3v5M498.9 2222.3v5M508.7 2222.3v5M508.1 2222.3v5M504.9 2222.3v5M511 2222.3v5M509.1 2222.3v5M510.8 2222.3v5M510.3 2222.3v5M510.2 2222.3v5M512.3 2222.3v5M507.5 2222.3v5M507.6 2222.3v5M504.6 2222.3v5M509.7 2222.3v5M509.1 2222.3v5M509 2222.3v5M512.3 2222.3v5M506.1 2222.3v5M506.3 2222.3v5M510.3 2222.3v5M510.9 2222.3v5M508.3 2222.3v5M505 2222.3v5M507.4 2222.3v5M511 2222.3v5M508.4 2222.3v5M508.2 2222.3v5M507.6 2222.3v5M509.4 2222.3v5M509.2 2222.3v5M509.9 2222.3v5M511.3 2222.3v5M510.4 2222.3v5M507.5 2222.3v5M506.5 2222.3v5M510.6 2222.3v5M510.7 2222.3v5M511.8 2222.3v5M506.1 2222.3v5M511.1 2222.3v5M511.5 2222.3v5M505.2 2222.3v5M507 2222.3v5M509.5 2222.3v5M505.7 2222.3v5M511 2222.3v5M506.6 2222.3v5M509.9 2222.3v5M506.9 2222.3v5M506.3 2222.3v5M506.2 2222.3v5M508.4 2222.3v5M510.1 2222.3v5M506.3 2222.3v5M509.9 2222.3v5M507.2 2222.3v5M509.6 2222.3v5M507.4 2222.3v5M506.1 2222.3v5M505.7 2222.3v5M505 2222.3v5M510 2222.3v5M507.8 2222.3v5M505.5 2222.3v5M519.1 2222.3v5M517.4 2222.3v5M512.5 2222.3v5M517.9 2222.3v5M516.9 2222.3v5M515.8 2222.3v5M516.2 2222.3v5M519.8 2222.3v5M515.2 2222.3v5M517.3 2222.3v5M517.3 2222.3v5M515.2 2222.3v5M515 2222.3v5M518.2 2222.3v5M517.3 2222.3v5M515.9 2222.3v5M516.3 2222.3v5M514.1 2222.3v5M518.4 2222.3v5M512.5 2222.3v5M517.3 2222.3v5M515.9 2222.3v5M514 2222.3v5M516.9 2222.3v5M516.8 2222.3v5M513 2222.3v5M516.1 2222.3v5M513.6 2222.3v5M518.5 2222.3v5M514.9 2222.3v5M514.9 2222.3v5M514 2222.3v5M512.7 2222.3v5M513.8 2222.3v5M513.5 2222.3v5M517.2 2222.3v5M518.9 2222.3v5M514 2222.3v5M513.2 2222.3v5M516.5 2222.3v5M513.2 2222.3v5M515.5 2222.3v5M518.2 2222.3v5M513.9 2222.3v5M517.7 2222.3v5M516.5 2222.3v5M513 2222.3v5M514.2 2222.3v5M517 2222.3v5M513.1 2222.3v5M521.7 2222.3v5M524.5 2222.3v5M526.4 2222.3v5M524.1 2222.3v5M525.2 2222.3v5M520.1 2222.3v5M522.4 2222.3v5M522.5 2222.3v5M527.2 2222.3v5M522.8 2222.3v5M526.2 2222.3v5M520.3 2222.3v5M523.9 2222.3v5M527 2222.3v5M526.1 2222.3v5M524.6 2222.3v5M521.5 2222.3v5M527.3 2222.3v5M520.7 2222.3v5M527.6 2222.3v5M526.1 2222.3v5M525.7 2222.3v5M524.2 2222.3v5M521.3 2222.3v5M522.7 2222.3v5M525.2 2222.3v5M525.2 2222.3v5M523.1 2222.3v5M526.3 2222.3v5M520.5 2222.3v5M522.3 2222.3v5M520.8 2222.3v5M530.3 2222.3v5M534 2222.3v5M533.7 2222.3v5M529 2222.3v5M530.2 2222.3v5M528.7 2222.3v5M533 2222.3v5M531.3 2222.3v5M529.6 2222.3v5M530.7 2222.3v5M534.5 2222.3v5M531.1 2222.3v5M533.2 2222.3v5M532.7 2222.3v5M531.5 2222.3v5M532.1 2222.3v5M530.6 2222.3v5M529.4 2222.3v5M531.7 2222.3v5M530.2 2222.3v5M530.4 2222.3v5M537 2222.3v5M542.7 2222.3v5M538.9 2222.3v5M537.1 2222.3v5M535.8 2222.3v5M537.2 2222.3v5M542.3 2222.3v5M545.9 2222.3v5M548.5 2222.3v5M545.1 2222.3v5M548.4 2222.3v5M546.8 2222.3v5M549 2222.3v5M555.2 2222.3v5M554 2222.3v5M561 2222.3v5" stroke="#2fa8a0" stroke-width="1" opacity="0.6"/>
<line x1="504.6" y1="2025" x2="504.6" y2="2219.3" stroke="#555555" stroke-width="1.8" stroke-dasharray="6 4"/>
<rect x="419.4" y="2024" width="341.9" height="204" fill="none" stroke="#333" stroke-width="1.5"/>
<line x1="84.7" y1="2433.1" x2="394.7" y2="2433.1" stroke="#000" stroke-width="2"/>
<rect x="162.2" y="2427.2" width="7.8" height="5.9" fill="#e6d889" stroke="#111" stroke-width="1.6"/>
<rect x="170" y="2421.3" width="7.7" height="11.8" fill="#e6d889" stroke="#111" stroke-width="1.6"/>
<rect x="177.7" y="2427.2" width="7.8" height="5.9" fill="#e6d889" stroke="#111" stroke-width="1.6"/>
<rect x="185.5" y="2430.1" width="7.8" height="3" fill="#e6d889" stroke="#111" stroke-width="1.6"/>
<rect x="193.2" y="2415.3" width="7.8" height="17.8" fill="#e6d889" stroke="#111" stroke-width="1.6"/>
<rect x="201" y="2421.3" width="7.8" height="11.8" fill="#e6d889" stroke="#111" stroke-width="1.6"/>
<rect x="208.7" y="2427.2" width="7.8" height="5.9" fill="#e6d889" stroke="#111" stroke-width="1.6"/>
<rect x="216.5" y="2415.3" width="7.8" height="17.8" fill="#e6d889" stroke="#111" stroke-width="1.6"/>
<rect x="224.2" y="2388.7" width="7.8" height="44.4" fill="#e6d889" stroke="#111" stroke-width="1.6"/>
<rect x="232" y="2370.9" width="7.7" height="62.2" fill="#e6d889" stroke="#111" stroke-width="1.6"/>
<rect x="239.7" y="2388.7" width="7.8" height="44.4" fill="#e6d889" stroke="#111" stroke-width="1.6"/>
<rect x="247.5" y="2350.2" width="7.8" height="82.9" fill="#e6d889" stroke="#111" stroke-width="1.6"/>
<rect x="255.2" y="2332.5" width="7.8" height="100.6" fill="#e6d889" stroke="#111" stroke-width="1.6"/>
<rect x="263" y="2329.5" width="7.8" height="103.6" fill="#e6d889" stroke="#111" stroke-width="1.6"/>
<rect x="270.7" y="2299.9" width="7.7" height="133.2" fill="#e6d889" stroke="#111" stroke-width="1.6"/>
<rect x="278.5" y="2276.2" width="7.8" height="156.9" fill="#e6d889" stroke="#111" stroke-width="1.6"/>
<rect x="286.2" y="2288.1" width="7.8" height="145" fill="#e6d889" stroke="#111" stroke-width="1.6"/>
<rect x="294" y="2261.4" width="7.8" height="171.7" fill="#e6d889" stroke="#111" stroke-width="1.6"/>
<rect x="301.7" y="2299.9" width="7.8" height="133.2" fill="#e6d889" stroke="#111" stroke-width="1.6"/>
<rect x="309.5" y="2353.2" width="7.8" height="79.9" fill="#e6d889" stroke="#111" stroke-width="1.6"/>
<rect x="317.2" y="2335.4" width="7.8" height="97.7" fill="#e6d889" stroke="#111" stroke-width="1.6"/>
<rect x="325" y="2397.6" width="7.8" height="35.5" fill="#e6d889" stroke="#111" stroke-width="1.6"/>
<rect x="332.7" y="2391.7" width="7.8" height="41.4" fill="#e6d889" stroke="#111" stroke-width="1.6"/>
<rect x="340.5" y="2418.3" width="7.8" height="14.8" fill="#e6d889" stroke="#111" stroke-width="1.6"/>
<rect x="348.2" y="2418.3" width="7.8" height="14.8" fill="#e6d889" stroke="#111" stroke-width="1.6"/>
<rect x="356" y="2424.2" width="7.8" height="8.9" fill="#e6d889" stroke="#111" stroke-width="1.6"/>
<path d="M166.8 2436.1v5M168.7 2436.1v5M175.3 2436.1v5M173.7 2436.1v5M172.5 2436.1v5M176.9 2436.1v5M184.3 2436.1v5M178.9 2436.1v5M190.7 2436.1v5M199.2 2436.1v5M198.5 2436.1v5M200.7 2436.1v5M200 2436.1v5M195.1 2436.1v5M200.9 2436.1v5M203.5 2436.1v5M203.9 2436.1v5M208.5 2436.1v5M202.3 2436.1v5M211.8 2436.1v5M213.6 2436.1v5M218.6 2436.1v5M218.5 2436.1v5M222.6 2436.1v5M221.2 2436.1v5M222.2 2436.1v5M222.6 2436.1v5M231 2436.1v5M231.2 2436.1v5M230.6 2436.1v5M231.8 2436.1v5M228.1 2436.1v5M229.7 2436.1v5M228.2 2436.1v5M231.7 2436.1v5M229.3 2436.1v5M227.6 2436.1v5M229.4 2436.1v5M226.5 2436.1v5M225.2 2436.1v5M227.2 2436.1v5M225.3 2436.1v5M232 2436.1v5M232.7 2436.1v5M235.5 2436.1v5M237.9 2436.1v5M232.4 2436.1v5M236.9 2436.1v5M232.8 2436.1v5M235.9 2436.1v5M234.3 2436.1v5M235.4 2436.1v5M237.5 2436.1v5M235.2 2436.1v5M235 2436.1v5M237.6 2436.1v5M232.9 2436.1v5M234.7 2436.1v5M237.4 2436.1v5M238.4 2436.1v5M239.6 2436.1v5M234 2436.1v5M236.8 2436.1v5M242.1 2436.1v5M245.2 2436.1v5M246.3 2436.1v5M240.8 2436.1v5M242.4 2436.1v5M247 2436.1v5M242.5 2436.1v5M244.6 2436.1v5M246.1 2436.1v5M241.9 2436.1v5M245.8 2436.1v5M239.8 2436.1v5M242.4 2436.1v5M241 2436.1v5M242.4 2436.1v5M249.1 2436.1v5M247.7 2436.1v5M253.7 2436.1v5M248.8 2436.1v5M251.9 2436.1v5M251.8 2436.1v5M254.1 2436.1v5M254 2436.1v5M252.3 2436.1v5M248.8 2436.1v5M253.4 2436.1v5M248.2 2436.1v5M254.7 2436.1v5M249.9 2436.1v5M249.4 2436.1v5M249.2 2436.1v5M250.5 2436.1v5M253.6 2436.1v5M254.1 2436.1v5M253.3 2436.1v5M253.1 2436.1v5M249.4 2436.1v5M250 2436.1v5M249.8 2436.1v5M250.8 2436.1v5M254.3 2436.1v5M255.2 2436.1v5M248.1 2436.1v5M262.7 2436.1v5M262.3 2436.1v5M258.8 2436.1v5M260.6 2436.1v5M261.3 2436.1v5M256.7 2436.1v5M260 2436.1v5M262.8 2436.1v5M262 2436.1v5M262.3 2436.1v5M255.9 2436.1v5M260.8 2436.1v5M259 2436.1v5M262.3 2436.1v5M256.5 2436.1v5M259.5 2436.1v5M256.2 2436.1v5M261.5 2436.1v5M260.8 2436.1v5M255.5 2436.1v5M257.6 2436.1v5M256.3 2436.1v5M260.1 2436.1v5M260.1 2436.1v5M255.7 2436.1v5M262.6 2436.1v5M262.7 2436.1v5M258.6 2436.1v5M259.7 2436.1v5M258 2436.1v5M259.9 2436.1v5M258.3 2436.1v5M258.6 2436.1v5M261 2436.1v5M264.4 2436.1v5M265.3 2436.1v5M268.9 2436.1v5M264.7 2436.1v5M263.5 2436.1v5M270 2436.1v5M264.2 2436.1v5M266.2 2436.1v5M265.4 2436.1v5M265 2436.1v5M265.7 2436.1v5M267.1 2436.1v5M263.9 2436.1v5M267.1 2436.1v5M263.4 2436.1v5M263.6 2436.1v5M264.5 2436.1v5M264.8 2436.1v5M265.6 2436.1v5M265.2 2436.1v5M269.5 2436.1v5M268.1 2436.1v5M266.6 2436.1v5M269 2436.1v5M268.3 2436.1v5M265.4 2436.1v5M267.7 2436.1v5M268.8 2436.1v5M267.1 2436.1v5M268.8 2436.1v5M267.9 2436.1v5M270.2 2436.1v5M265 2436.1v5M268.2 2436.1v5M270.5 2436.1v5M274.8 2436.1v5M277.7 2436.1v5M271.5 2436.1v5M276.3 2436.1v5M272.8 2436.1v5M276.5 2436.1v5M274 2436.1v5M274.9 2436.1v5M272.7 2436.1v5M272.7 2436.1v5M277.4 2436.1v5M275.7 2436.1v5M275.6 2436.1v5M271.6 2436.1v5M273 2436.1v5M278.2 2436.1v5M272.3 2436.1v5M274.9 2436.1v5M276.1 2436.1v5M274.7 2436.1v5M275 2436.1v5M278.2 2436.1v5M276.8 2436.1v5M272.6 2436.1v5M274.1 2436.1v5M274 2436.1v5M276 2436.1v5M276 2436.1v5M272.7 2436.1v5M276.1 2436.1v5M274.1 2436.1v5M270.8 2436.1v5M273 2436.1v5M273.6 2436.1v5M272.3 2436.1v5M275.9 2436.1v5M278.4 2436.1v5M277.9 2436.1v5M275.6 2436.1v5M277.4 2436.1v5M274.5 2436.1v5M275.3 2436.1v5M277.7 2436.1v5M271.2 2436.1v5M273.5 2436.1v5M281.4 2436.1v5M281.1 2436.1v5M281.8 2436.1v5M278.9 2436.1v5M283.7 2436.1v5M285.9 2436.1v5M280.3 2436.1v5M279.9 2436.1v5M281.1 2436.1v5M284.6 2436.1v5M280.2 2436.1v5M284.4 2436.1v5M279.8 2436.1v5M283.1 2436.1v5M284.1 2436.1v5M283.7 2436.1v5M279.1 2436.1v5M285.9 2436.1v5M285 2436.1v5M282.2 2436.1v5M285.1 2436.1v5M283.1 2436.1v5M279.8 2436.1v5M281.6 2436.1v5M284.8 2436.1v5M282.1 2436.1v5M278.8 2436.1v5M279.8 2436.1v5M279.9 2436.1v5M283 2436.1v5M283.5 2436.1v5M281.9 2436.1v5M281.6 2436.1v5M285.9 2436.1v5M281.1 2436.1v5M283.7 2436.1v5M280.1 2436.1v5M282.5 2436.1v5M279.9 2436.1v5M279.4 2436.1v5M281.1 2436.1v5M279.4 2436.1v5M281.4 2436.1v5M283.5 2436.1v5M282.7 2436.1v5M284.6 2436.1v5M282.2 2436.1v5M279.1 2436.1v5M284.1 2436.1v5M281.6 2436.1v5M284.3 2436.1v5M286 2436.1v5M282.5 2436.1v5M288.2 2436.1v5M289 2436.1v5M290.1 2436.1v5M288.7 2436.1v5M287 2436.1v5M289.3 2436.1v5M291.3 2436.1v5M292.5 2436.1v5M292.1 2436.1v5M293.1 2436.1v5M292.4 2436.1v5M289.4 2436.1v5M291.2 2436.1v5M286.6 2436.1v5M292.4 2436.1v5M291.7 2436.1v5M288.3 2436.1v5M289.9 2436.1v5M288.3 2436.1v5M292.4 2436.1v5M289.5 2436.1v5M292.3 2436.1v5M293.4 2436.1v5M292.3 2436.1v5M289.2 2436.1v5M288.9 2436.1v5M293.6 2436.1v5M293.2 2436.1v5M287.7 2436.1v5M289 2436.1v5M292.3 2436.1v5M292.1 2436.1v5M288.4 2436.1v5M289.7 2436.1v5M293.7 2436.1v5M286.9 2436.1v5M288.3 2436.1v5M291.4 2436.1v5M293.3 2436.1v5M293.6 2436.1v5M289.9 2436.1v5M292.3 2436.1v5M293.8 2436.1v5M288.8 2436.1v5M288 2436.1v5M288.2 2436.1v5M292.3 2436.1v5M287.3 2436.1v5M290.5 2436.1v5M301.2 2436.1v5M295.5 2436.1v5M298.8 2436.1v5M298.1 2436.1v5M301.5 2436.1v5M298 2436.1v5M297.8 2436.1v5M301 2436.1v5M299.8 2436.1v5M295.1 2436.1v5M300.2 2436.1v5M297.1 2436.1v5M301.5 2436.1v5M301.4 2436.1v5M297.8 2436.1v5M297.2 2436.1v5M295.7 2436.1v5M296.1 2436.1v5M295.6 2436.1v5M295.3 2436.1v5M299.6 2436.1v5M294.4 2436.1v5M298.6 2436.1v5M298.6 2436.1v5M299.7 2436.1v5M298.4 2436.1v5M301.2 2436.1v5M296.2 2436.1v5M294.7 2436.1v5M298.5 2436.1v5M296.1 2436.1v5M301.6 2436.1v5M301.1 2436.1v5M299.3 2436.1v5M300.4 2436.1v5M295.9 2436.1v5M297.7 2436.1v5M296.9 2436.1v5M296.7 2436.1v5M296.9 2436.1v5M297.7 2436.1v5M299 2436.1v5M294.2 2436.1v5M298.2 2436.1v5M295 2436.1v5M301.5 2436.1v5M298.3 2436.1v5M298.5 2436.1v5M296.4 2436.1v5M299.4 2436.1v5M299.5 2436.1v5M301 2436.1v5M298.5 2436.1v5M296.1 2436.1v5M298.8 2436.1v5M294.4 2436.1v5M299.7 2436.1v5M296.4 2436.1v5M307.3 2436.1v5M302.7 2436.1v5M306.4 2436.1v5M303 2436.1v5M302 2436.1v5M303.8 2436.1v5M308.3 2436.1v5M304.7 2436.1v5M305.8 2436.1v5M307.9 2436.1v5M309.3 2436.1v5M303.7 2436.1v5M307.1 2436.1v5M307.8 2436.1v5M307.9 2436.1v5M304.4 2436.1v5M305.4 2436.1v5M307.8 2436.1v5M303.7 2436.1v5M305.5 2436.1v5M306.6 2436.1v5M308.3 2436.1v5M303.6 2436.1v5M306.9 2436.1v5M303.4 2436.1v5M302.9 2436.1v5M305.4 2436.1v5M306.7 2436.1v5M306.7 2436.1v5M309.1 2436.1v5M303 2436.1v5M305.8 2436.1v5M305.4 2436.1v5M303.7 2436.1v5M308.8 2436.1v5M302.8 2436.1v5M303.7 2436.1v5M302 2436.1v5M306.7 2436.1v5M306.8 2436.1v5M303.5 2436.1v5M308.9 2436.1v5M306.6 2436.1v5M303.3 2436.1v5M309 2436.1v5M316.1 2436.1v5M311.9 2436.1v5M316.2 2436.1v5M310.5 2436.1v5M312.2 2436.1v5M312.7 2436.1v5M316.9 2436.1v5M311.8 2436.1v5M312.5 2436.1v5M311.1 2436.1v5M315.8 2436.1v5M310.9 2436.1v5M316 2436.1v5M312.1 2436.1v5M313.7 2436.1v5M316.3 2436.1v5M311.5 2436.1v5M313.6 2436.1v5M314.4 2436.1v5M314 2436.1v5M312.6 2436.1v5M314.5 2436.1v5M311.9 2436.1v5M310.7 2436.1v5M309.5 2436.1v5M314.2 2436.1v5M313.9 2436.1v5M323.4 2436.1v5M318.4 2436.1v5M322.4 2436.1v5M320.7 2436.1v5M321.3 2436.1v5M323.7 2436.1v5M321.2 2436.1v5M320.6 2436.1v5M322.2 2436.1v5M318.4 2436.1v5M324 2436.1v5M321.2 2436.1v5M317.6 2436.1v5M321 2436.1v5M324.6 2436.1v5M324.8 2436.1v5M320.5 2436.1v5M319.3 2436.1v5M324.5 2436.1v5M319.4 2436.1v5M317.4 2436.1v5M319.1 2436.1v5M320.9 2436.1v5M322.4 2436.1v5M317.7 2436.1v5M319.8 2436.1v5M322.9 2436.1v5M319.9 2436.1v5M318.6 2436.1v5M322.7 2436.1v5M320.6 2436.1v5M322.6 2436.1v5M321 2436.1v5M331.3 2436.1v5M328.9 2436.1v5M332.5 2436.1v5M331.3 2436.1v5M330.6 2436.1v5M328.8 2436.1v5M329.7 2436.1v5M327.9 2436.1v5M325.6 2436.1v5M331.8 2436.1v5M331.2 2436.1v5M330.9 2436.1v5M339.4 2436.1v5M337 2436.1v5M340.4 2436.1v5M336.4 2436.1v5M340.3 2436.1v5M333.4 2436.1v5M335.7 2436.1v5M337.2 2436.1v5M339.1 2436.1v5M336.8 2436.1v5M338.8 2436.1v5M335.6 2436.1v5M338 2436.1v5M338.9 2436.1v5M345.1 2436.1v5M340.6 2436.1v5M345.6 2436.1v5M340.5 2436.1v5M342.8 2436.1v5M349.1 2436.1v5M354.1 2436.1v5M349.5 2436.1v5M353.8 2436.1v5M348.8 2436.1v5M357.6 2436.1v5M361.4 2436.1v5M363.1 2436.1v5" stroke="#d4b62c" stroke-width="1" opacity="0.6"/>
<line x1="285.4" y1="2238" x2="285.4" y2="2433.1" stroke="#d4b62c" stroke-width="1.8" stroke-dasharray="6 4"/>
<rect x="69.2" y="2237" width="341.5" height="204.8" fill="none" stroke="#333" stroke-width="1.5"/>
<line x1="64.2" y1="2433.1" x2="69.2" y2="2433.1" stroke="#000" stroke-width="1.5"/>
<text x="62" y="2439.9" font-size="19" text-anchor="end">0</text>
<line x1="64.2" y1="2373.9" x2="69.2" y2="2373.9" stroke="#000" stroke-width="1.5"/>
<text x="62" y="2380.7" font-size="19" text-anchor="end">20</text>
<line x1="64.2" y1="2314.7" x2="69.2" y2="2314.7" stroke="#000" stroke-width="1.5"/>
<text x="62" y="2321.5" font-size="19" text-anchor="end">40</text>
<line x1="64.2" y1="2255.5" x2="69.2" y2="2255.5" stroke="#000" stroke-width="1.5"/>
<text x="62" y="2262.3" font-size="19" text-anchor="end">60</text>
<line x1="104.1" y1="2441.8" x2="104.1" y2="2446.8" stroke="#000" stroke-width="1.5"/>
<text x="111.1" y="2454.8" font-size="18.5" text-anchor="end" transform="rotate(-45 111.1 2454.8)">0.02</text>
<line x1="181.6" y1="2441.8" x2="181.6" y2="2446.8" stroke="#000" stroke-width="1.5"/>
<text x="188.6" y="2454.8" font-size="18.5" text-anchor="end" transform="rotate(-45 188.6 2454.8)">0.03</text>
<line x1="259.1" y1="2441.8" x2="259.1" y2="2446.8" stroke="#000" stroke-width="1.5"/>
<text x="266.1" y="2454.8" font-size="18.5" text-anchor="end" transform="rotate(-45 266.1 2454.8)">0.04</text>
<line x1="336.6" y1="2441.8" x2="336.6" y2="2446.8" stroke="#000" stroke-width="1.5"/>
<text x="343.6" y="2454.8" font-size="18.5" text-anchor="end" transform="rotate(-45 343.6 2454.8)">0.05</text>
<line x1="434.8" y1="2433.1" x2="744.8" y2="2433.1" stroke="#000" stroke-width="2"/>
<rect x="535.6" y="2430.1" width="7.8" height="3" fill="#e6d889" stroke="#111" stroke-width="1.6"/>
<rect x="543.3" y="2430.1" width="7.8" height="3" fill="#e6d889" stroke="#111" stroke-width="1.6"/>
<rect x="551.1" y="2430.1" width="7.8" height="3" fill="#e6d889" stroke="#111" stroke-width="1.6"/>
<rect x="558.8" y="2427.2" width="7.8" height="5.9" fill="#e6d889" stroke="#111" stroke-width="1.6"/>
<rect x="566.6" y="2421.3" width="7.7" height="11.8" fill="#e6d889" stroke="#111" stroke-width="1.6"/>
<rect x="574.3" y="2421.3" width="7.8" height="11.8" fill="#e6d889" stroke="#111" stroke-width="1.6"/>
<rect x="582.1" y="2418.3" width="7.8" height="14.8" fill="#e6d889" stroke="#111" stroke-width="1.6"/>
<rect x="589.8" y="2412.4" width="7.8" height="20.7" fill="#e6d889" stroke="#111" stroke-width="1.6"/>
<rect x="597.6" y="2391.7" width="7.8" height="41.4" fill="#e6d889" stroke="#111" stroke-width="1.6"/>
<rect x="605.3" y="2421.3" width="7.8" height="11.8" fill="#e6d889" stroke="#111" stroke-width="1.6"/>
<rect x="613.1" y="2397.6" width="7.7" height="35.5" fill="#e6d889" stroke="#111" stroke-width="1.6"/>
<rect x="620.8" y="2409.4" width="7.8" height="23.7" fill="#e6d889" stroke="#111" stroke-width="1.6"/>
<rect x="628.6" y="2415.3" width="7.8" height="17.8" fill="#e6d889" stroke="#111" stroke-width="1.6"/>
<rect x="636.3" y="2394.6" width="7.8" height="38.5" fill="#e6d889" stroke="#111" stroke-width="1.6"/>
<rect x="644.1" y="2418.3" width="7.8" height="14.8" fill="#e6d889" stroke="#111" stroke-width="1.6"/>
<rect x="651.8" y="2412.4" width="7.8" height="20.7" fill="#e6d889" stroke="#111" stroke-width="1.6"/>
<rect x="659.6" y="2430.1" width="7.8" height="3" fill="#e6d889" stroke="#111" stroke-width="1.6"/>
<rect x="667.3" y="2424.2" width="7.8" height="8.9" fill="#e6d889" stroke="#111" stroke-width="1.6"/>
<rect x="675.1" y="2421.3" width="7.8" height="11.8" fill="#e6d889" stroke="#111" stroke-width="1.6"/>
<rect x="682.8" y="2430.1" width="7.8" height="3" fill="#e6d889" stroke="#111" stroke-width="1.6"/>
<rect x="690.6" y="2430.1" width="7.8" height="3" fill="#e6d889" stroke="#111" stroke-width="1.6"/>
<rect x="698.3" y="2427.2" width="7.8" height="5.9" fill="#e6d889" stroke="#111" stroke-width="1.6"/>
<rect x="706.1" y="2430.1" width="7.8" height="3" fill="#e6d889" stroke="#111" stroke-width="1.6"/>
<rect x="737.1" y="2430.1" width="7.7" height="3" fill="#e6d889" stroke="#111" stroke-width="1.6"/>
<path d="M536.1 2436.1v5M548.1 2436.1v5M554.2 2436.1v5M563.6 2436.1v5M559.4 2436.1v5M566.7 2436.1v5M567.2 2436.1v5M573.5 2436.1v5M570.4 2436.1v5M579.1 2436.1v5M575.4 2436.1v5M579.6 2436.1v5M581.3 2436.1v5M583.6 2436.1v5M588.1 2436.1v5M588.7 2436.1v5M589.8 2436.1v5M586.5 2436.1v5M594.8 2436.1v5M592.5 2436.1v5M595.9 2436.1v5M592.2 2436.1v5M594.7 2436.1v5M594.7 2436.1v5M597.5 2436.1v5M603.7 2436.1v5M598.3 2436.1v5M598.9 2436.1v5M600.3 2436.1v5M600.6 2436.1v5M603.1 2436.1v5M599.6 2436.1v5M601.9 2436.1v5M601.1 2436.1v5M599.9 2436.1v5M602.6 2436.1v5M600.9 2436.1v5M605.2 2436.1v5M598.6 2436.1v5M612.3 2436.1v5M610.3 2436.1v5M608.9 2436.1v5M605.9 2436.1v5M618.1 2436.1v5M619.3 2436.1v5M615.8 2436.1v5M618.6 2436.1v5M617.2 2436.1v5M613.8 2436.1v5M619.7 2436.1v5M615.5 2436.1v5M616.8 2436.1v5M619 2436.1v5M619.9 2436.1v5M619.7 2436.1v5M623.7 2436.1v5M627.4 2436.1v5M622 2436.1v5M625.1 2436.1v5M624.2 2436.1v5M627.5 2436.1v5M626.4 2436.1v5M625.9 2436.1v5M634.9 2436.1v5M631.3 2436.1v5M632 2436.1v5M629.4 2436.1v5M631.3 2436.1v5M630.1 2436.1v5M642 2436.1v5M637.3 2436.1v5M643.4 2436.1v5M641 2436.1v5M639.8 2436.1v5M637.2 2436.1v5M639.8 2436.1v5M640.7 2436.1v5M637.4 2436.1v5M643.9 2436.1v5M639.1 2436.1v5M639.7 2436.1v5M638.5 2436.1v5M647 2436.1v5M646.2 2436.1v5M650.7 2436.1v5M644.6 2436.1v5M646.9 2436.1v5M656.5 2436.1v5M655.5 2436.1v5M654.3 2436.1v5M655.6 2436.1v5M652.3 2436.1v5M654.2 2436.1v5M655.2 2436.1v5M665.5 2436.1v5M670.7 2436.1v5M670.5 2436.1v5M672.4 2436.1v5M677.2 2436.1v5M679.3 2436.1v5M676.6 2436.1v5M679.9 2436.1v5M687 2436.1v5M695.6 2436.1v5M705.1 2436.1v5M704.5 2436.1v5M713.7 2436.1v5M738.9 2436.1v5" stroke="#d4b62c" stroke-width="1" opacity="0.6"/>
<line x1="620" y1="2238" x2="620" y2="2433.1" stroke="#d4b62c" stroke-width="1.8" stroke-dasharray="6 4"/>
<rect x="419.4" y="2237" width="341.9" height="204.8" fill="none" stroke="#333" stroke-width="1.5"/>
<line x1="454.2" y1="2441.8" x2="454.2" y2="2446.8" stroke="#000" stroke-width="1.5"/>
<text x="461.2" y="2454.8" font-size="18.5" text-anchor="end" transform="rotate(-45 461.2 2454.8)">0.02</text>
<line x1="531.7" y1="2441.8" x2="531.7" y2="2446.8" stroke="#000" stroke-width="1.5"/>
<text x="538.7" y="2454.8" font-size="18.5" text-anchor="end" transform="rotate(-45 538.7 2454.8)">0.03</text>
<line x1="609.2" y1="2441.8" x2="609.2" y2="2446.8" stroke="#000" stroke-width="1.5"/>
<text x="616.2" y="2454.8" font-size="18.5" text-anchor="end" transform="rotate(-45 616.2 2454.8)">0.04</text>
<line x1="686.7" y1="2441.8" x2="686.7" y2="2446.8" stroke="#000" stroke-width="1.5"/>
<text x="693.7" y="2454.8" font-size="18.5" text-anchor="end" transform="rotate(-45 693.7 2454.8)">0.05</text>
<text x="770" y="2118.6" font-size="20.5" text-anchor="middle" font-weight="bold" transform="rotate(90 770 2118.6)">CtrlM</text>
<text x="770" y="2331.7" font-size="20.5" text-anchor="middle" font-weight="bold" transform="rotate(90 770 2331.7)">KS</text>
<text x="418.9" y="2509.6" font-size="19.5" text-anchor="middle">TPM (genes on chr. X)/TPM (all genes)</text>
<text x="33.5" y="2243" font-size="19.5" text-anchor="middle" transform="rotate(-90 33.5 2243)">Frequency (cells)</text>
<text x="827.5" y="1985" font-size="38" font-weight="bold">j</text>
<line x1="1429.2" y1="2011.1" x2="1429.2" y2="2430.6" stroke="#ebebeb" stroke-width="1.6"/>
<line x1="913.1" y1="2423.4" x2="1439.2" y2="2423.4" stroke="#ebebeb" stroke-width="1.6"/>
<line x1="1366" y1="2011.1" x2="1366" y2="2430.6" stroke="#ebebeb" stroke-width="0.9"/>
<line x1="913.1" y1="2372.9" x2="1439.2" y2="2372.9" stroke="#ebebeb" stroke-width="0.9"/>
<line x1="1302.9" y1="2011.1" x2="1302.9" y2="2430.6" stroke="#ebebeb" stroke-width="1.6"/>
<line x1="913.1" y1="2322.3" x2="1439.2" y2="2322.3" stroke="#ebebeb" stroke-width="1.6"/>
<line x1="1239.7" y1="2011.1" x2="1239.7" y2="2430.6" stroke="#ebebeb" stroke-width="0.9"/>
<line x1="913.1" y1="2271.8" x2="1439.2" y2="2271.8" stroke="#ebebeb" stroke-width="0.9"/>
<line x1="1176.5" y1="2011.1" x2="1176.5" y2="2430.6" stroke="#ebebeb" stroke-width="1.6"/>
<line x1="913.1" y1="2221.2" x2="1439.2" y2="2221.2" stroke="#ebebeb" stroke-width="1.6"/>
<line x1="1113.4" y1="2011.1" x2="1113.4" y2="2430.6" stroke="#ebebeb" stroke-width="0.9"/>
<line x1="913.1" y1="2170.7" x2="1439.2" y2="2170.7" stroke="#ebebeb" stroke-width="0.9"/>
<line x1="1050.2" y1="2011.1" x2="1050.2" y2="2430.6" stroke="#ebebeb" stroke-width="1.6"/>
<line x1="913.1" y1="2120.2" x2="1439.2" y2="2120.2" stroke="#ebebeb" stroke-width="1.6"/>
<line x1="987.1" y1="2011.1" x2="987.1" y2="2430.6" stroke="#ebebeb" stroke-width="0.9"/>
<line x1="913.1" y1="2069.6" x2="1439.2" y2="2069.6" stroke="#ebebeb" stroke-width="0.9"/>
<line x1="923.9" y1="2011.1" x2="923.9" y2="2430.6" stroke="#ebebeb" stroke-width="1.6"/>
<line x1="913.1" y1="2019.1" x2="1439.2" y2="2019.1" stroke="#ebebeb" stroke-width="1.6"/>
<line x1="914.1" y1="2429.6" x2="1438.2" y2="2012.1" stroke="#000" stroke-width="2.6" stroke-dasharray="10 7"/>
<path d="M923.9 2423.4 L923.9 2034.1 L927.9 2029.2 L934 2026.4 L944.1 2023.1 L959.3 2021.9 L974.4 2021.5 L984.5 2020.3 L1009.8 2019.9 L1040.1 2019.5 L1050.2 2019.1 L1429.2 2019.1" stroke="#e06c6c" stroke-width="2.4" fill="none"/>
<circle cx="921.9" cy="2033.9" r="4" fill="#4a6be0"/>
<rect x="913.1" y="2011.1" width="526.1" height="419.5" fill="none" stroke="#333" stroke-width="2.2"/>
<line x1="907.1" y1="2019.1" x2="913.1" y2="2019.1" stroke="#333" stroke-width="1.8"/>
<text x="898" y="2025.9" font-size="18.5" text-anchor="end" fill="#4d4d4d">1.00</text>
<line x1="923.9" y1="2430.6" x2="923.9" y2="2436.6" stroke="#333" stroke-width="1.8"/>
<text x="923.9" y="2461.4" font-size="18.5" text-anchor="middle" fill="#4d4d4d">1.00</text>
<line x1="907.1" y1="2120.2" x2="913.1" y2="2120.2" stroke="#333" stroke-width="1.8"/>
<text x="898" y="2127" font-size="18.5" text-anchor="end" fill="#4d4d4d">0.75</text>
<line x1="1050.2" y1="2430.6" x2="1050.2" y2="2436.6" stroke="#333" stroke-width="1.8"/>
<text x="1050.2" y="2461.4" font-size="18.5" text-anchor="middle" fill="#4d4d4d">0.75</text>
<line x1="907.1" y1="2221.2" x2="913.1" y2="2221.2" stroke="#333" stroke-width="1.8"/>
<text x="898" y="2228.1" font-size="18.5" text-anchor="end" fill="#4d4d4d">0.50</text>
<line x1="1176.5" y1="2430.6" x2="1176.5" y2="2436.6" stroke="#333" stroke-width="1.8"/>
<text x="1176.5" y="2461.4" font-size="18.5" text-anchor="middle" fill="#4d4d4d">0.50</text>
<line x1="907.1" y1="2322.3" x2="913.1" y2="2322.3" stroke="#333" stroke-width="1.8"/>
<text x="898" y="2329.1" font-size="18.5" text-anchor="end" fill="#4d4d4d">0.25</text>
<line x1="1302.9" y1="2430.6" x2="1302.9" y2="2436.6" stroke="#333" stroke-width="1.8"/>
<text x="1302.9" y="2461.4" font-size="18.5" text-anchor="middle" fill="#4d4d4d">0.25</text>
<line x1="907.1" y1="2423.4" x2="913.1" y2="2423.4" stroke="#333" stroke-width="1.8"/>
<text x="898" y="2430.2" font-size="18.5" text-anchor="end" fill="#4d4d4d">0.00</text>
<line x1="1429.2" y1="2430.6" x2="1429.2" y2="2436.6" stroke="#333" stroke-width="1.8"/>
<text x="1429.2" y="2461.4" font-size="18.5" text-anchor="middle" fill="#4d4d4d">0.00</text>
<text x="959.8" y="2077.8" font-size="22.3">Threshold =&#160; 3.369</text>
<text x="1218.7" y="2391.5" font-size="22.3">AUC =&#160; 0.998</text>
<text x="1188.3" y="2511.3" font-size="20.8" text-anchor="middle">Specificity</text>
<text x="838" y="2229.7" font-size="20.8" text-anchor="middle" transform="rotate(-90 838 2229.7)">Sensitivity</text>
<text x="1493" y="1905" font-size="38" font-weight="bold">k</text>
<rect x="1731.8" y="1886" width="22.2" height="22.1" fill="#5af43c"/>
<text x="1762.8" y="1905.8" font-size="20.3">Early FGC</text>
<rect x="1731.8" y="1920" width="22.2" height="22" fill="#ebde42"/>
<text x="1762.8" y="1939.1" font-size="20.3">Late FGC</text>
<circle cx="1634.7" cy="2047.2" r="119.9" fill="#ebde42"/>
<path d="M1634.7 2047.2 L1634.7 1927.3 A119.9 119.9 0 0 0 1531.9 1985.5 Z" fill="#5af43c"/>
<path d="M1634.7 1927.3 L1634.7 2047.2 M1634.7 2047.2 L1531.9 1985.5" stroke="#fff" stroke-width="1.6"/>
<text x="1593.5" y="1994.3" font-size="21.9" text-anchor="middle">16.4%</text>
<text x="1659.4" y="2096.2" font-size="21.9" text-anchor="middle">83.6%</text>
<text x="1633.2" y="2205.4" font-size="22.2" text-anchor="middle" font-weight="bold">XY</text>
<circle cx="1634.7" cy="2358" r="119.9" fill="#ebde42"/>
<path d="M1634.7 2358 L1634.7 2238.1 A119.9 119.9 0 1 0 1688.5 2465.2 Z" fill="#5af43c"/>
<path d="M1634.7 2238.1 L1634.7 2358 M1634.7 2358 L1688.5 2465.2" stroke="#fff" stroke-width="1.6"/>
<text x="1583.8" y="2378.2" font-size="21.9" text-anchor="middle">57.4%</text>
<text x="1701" y="2350.1" font-size="21.9" text-anchor="middle">42.6%</text>
<text x="1632.8" y="2523" font-size="22.2" text-anchor="middle" font-weight="bold">XXY</text>
</svg>
</body></html>
